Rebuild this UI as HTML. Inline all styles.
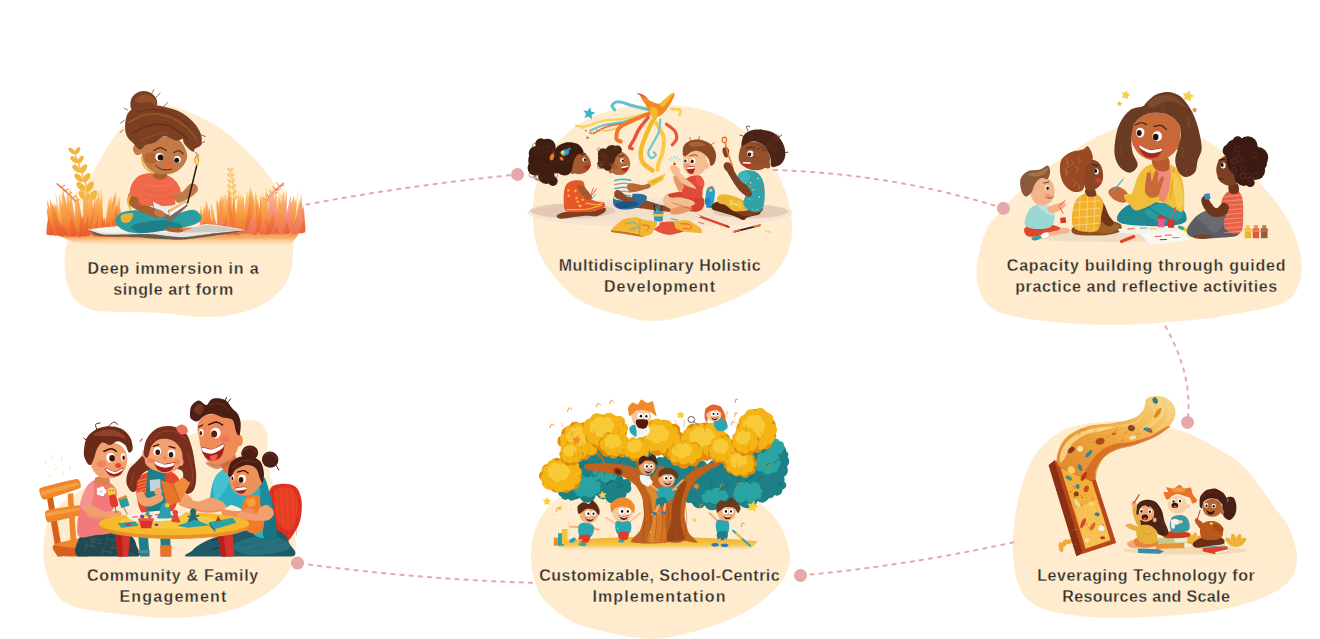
<!DOCTYPE html>
<html lang="en"><head><meta charset="utf-8"><title>Approach</title>
<style>html,body{margin:0;padding:0;background:#fff;}body{width:1320px;height:639px;overflow:hidden;}svg{display:block;}</style>
</head><body>
<svg width="1320" height="639" viewBox="0 0 1320 639">
<g id="blobs" fill="#FFECCF">
<path d="M170.0 106.0 C181.7 108.5 201.3 116.7 215.0 125.0 C228.7 133.3 241.5 145.2 252.0 156.0 C262.5 166.8 271.5 178.5 278.0 190.0 C284.5 201.5 288.5 214.2 291.0 225.0 C293.5 235.8 293.8 245.3 293.0 255.0 C292.2 264.7 291.2 274.7 286.0 283.0 C280.8 291.3 271.3 299.7 262.0 305.0 C252.7 310.3 240.3 313.0 230.0 315.0 C219.7 317.0 211.7 317.3 200.0 317.0 C188.3 316.7 173.3 313.8 160.0 313.0 C146.7 312.2 131.3 312.5 120.0 312.0 C108.7 311.5 99.8 312.5 92.0 310.0 C84.2 307.5 77.5 303.3 73.0 297.0 C68.5 290.7 66.0 281.5 65.0 272.0 C64.0 262.5 64.8 251.5 67.0 240.0 C69.2 228.5 73.2 215.2 78.0 203.0 C82.8 190.8 89.3 178.8 96.0 167.0 C102.7 155.2 109.8 141.5 118.0 132.0 C126.2 122.5 136.3 114.3 145.0 110.0 C153.7 105.7 158.3 103.5 170.0 106.0Z"/>
<path d="M660.0 105.0 C673.0 105.2 687.5 105.8 700.0 109.0 C712.5 112.2 724.2 116.7 735.0 124.0 C745.8 131.3 756.7 142.0 765.0 153.0 C773.3 164.0 780.5 178.0 785.0 190.0 C789.5 202.0 791.5 214.7 792.0 225.0 C792.5 235.3 791.3 243.5 788.0 252.0 C784.7 260.5 779.8 268.7 772.0 276.0 C764.2 283.3 753.2 290.0 741.0 296.0 C728.8 302.0 713.3 307.8 699.0 312.0 C684.7 316.2 668.8 320.7 655.0 321.0 C641.2 321.3 628.7 317.5 616.0 314.0 C603.3 310.5 589.5 306.5 579.0 300.0 C568.5 293.5 559.8 283.3 553.0 275.0 C546.2 266.7 541.3 259.2 538.0 250.0 C534.7 240.8 533.5 230.0 533.0 220.0 C532.5 210.0 532.8 200.0 535.0 190.0 C537.2 180.0 541.0 169.2 546.0 160.0 C551.0 150.8 557.7 142.0 565.0 135.0 C572.3 128.0 580.5 122.5 590.0 118.0 C599.5 113.5 610.3 110.2 622.0 108.0 C633.7 105.8 647.0 104.8 660.0 105.0Z"/>
<path d="M1150.0 120.0 C1165.8 120.7 1185.0 129.5 1200.0 137.0 C1215.0 144.5 1228.7 155.8 1240.0 165.0 C1251.3 174.2 1259.7 182.2 1268.0 192.0 C1276.3 201.8 1284.5 213.0 1290.0 224.0 C1295.5 235.0 1299.5 248.0 1301.0 258.0 C1302.5 268.0 1302.0 276.5 1299.0 284.0 C1296.0 291.5 1293.7 298.0 1283.0 303.0 C1272.3 308.0 1251.8 311.0 1235.0 314.0 C1218.2 317.0 1204.0 319.2 1182.0 321.0 C1160.0 322.8 1129.5 325.5 1103.0 325.0 C1076.5 324.5 1042.0 321.2 1023.0 318.0 C1004.0 314.8 996.7 312.3 989.0 306.0 C981.3 299.7 978.7 288.8 977.0 280.0 C975.3 271.2 977.2 261.8 979.0 253.0 C980.8 244.2 983.8 234.5 988.0 227.0 C992.2 219.5 998.3 214.3 1004.0 208.0 C1009.7 201.7 1013.3 196.7 1022.0 189.0 C1030.7 181.3 1042.2 171.3 1056.0 162.0 C1069.8 152.7 1089.3 140.0 1105.0 133.0 C1120.7 126.0 1134.2 119.3 1150.0 120.0Z"/>
<path d="M252.0 420.0 C260.3 420.7 263.3 424.2 266.0 430.0 C268.7 435.8 267.0 446.3 268.0 455.0 C269.0 463.7 268.3 471.2 272.0 482.0 C275.7 492.8 286.0 508.8 290.0 520.0 C294.0 531.2 296.8 539.5 296.0 549.0 C295.2 558.5 291.3 568.7 285.0 577.0 C278.7 585.3 268.8 593.0 258.0 599.0 C247.2 605.0 234.7 609.8 220.0 613.0 C205.3 616.2 186.7 617.8 170.0 618.0 C153.3 618.2 136.3 616.0 120.0 614.0 C103.7 612.0 83.2 610.2 72.0 606.0 C60.8 601.8 57.7 596.5 53.0 589.0 C48.3 581.5 45.3 570.2 44.0 561.0 C42.7 551.8 43.7 542.0 45.0 534.0 C46.3 526.0 47.5 519.3 52.0 513.0 C56.5 506.7 64.0 501.5 72.0 496.0 C80.0 490.5 90.0 485.5 100.0 480.0 C110.0 474.5 122.0 468.2 132.0 463.0 C142.0 457.8 151.0 453.3 160.0 449.0 C169.0 444.7 176.7 440.8 186.0 437.0 C195.3 433.2 205.0 428.8 216.0 426.0 C227.0 423.2 243.7 419.3 252.0 420.0Z"/>
<path d="M655.0 474.0 C674.2 473.8 694.2 476.2 710.0 480.0 C725.8 483.8 739.7 491.3 750.0 497.0 C760.3 502.7 766.3 508.0 772.0 514.0 C777.7 520.0 781.0 526.0 784.0 533.0 C787.0 540.0 789.7 549.2 790.0 556.0 C790.3 562.8 788.0 569.0 786.0 574.0 C784.0 579.0 781.8 581.7 778.0 586.0 C774.2 590.3 769.3 595.2 763.0 600.0 C756.7 604.8 748.8 610.5 740.0 615.0 C731.2 619.5 720.0 623.7 710.0 627.0 C700.0 630.3 689.2 633.0 680.0 635.0 C670.8 637.0 664.2 638.8 655.0 639.0 C645.8 639.2 634.5 637.5 625.0 636.0 C615.5 634.5 606.3 632.2 598.0 630.0 C589.7 627.8 582.0 626.2 575.0 623.0 C568.0 619.8 561.7 615.5 556.0 611.0 C550.3 606.5 544.7 601.5 541.0 596.0 C537.3 590.5 535.7 585.0 534.0 578.0 C532.3 571.0 530.8 562.0 531.0 554.0 C531.2 546.0 532.5 537.3 535.0 530.0 C537.5 522.7 541.3 515.8 546.0 510.0 C550.7 504.2 554.8 499.8 563.0 495.0 C571.2 490.2 579.7 484.5 595.0 481.0 C610.3 477.5 635.8 474.2 655.0 474.0Z"/>
<path d="M1125.0 421.0 C1136.7 421.3 1149.2 422.8 1160.0 425.0 C1170.8 427.2 1180.8 430.3 1190.0 434.0 C1199.2 437.7 1206.7 442.2 1215.0 447.0 C1223.3 451.8 1232.8 456.8 1240.0 463.0 C1247.2 469.2 1252.5 477.0 1258.0 484.0 C1263.5 491.0 1267.7 497.3 1273.0 505.0 C1278.3 512.7 1286.0 520.5 1290.0 530.0 C1294.0 539.5 1298.0 552.7 1297.0 562.0 C1296.0 571.3 1292.7 579.0 1284.0 586.0 C1275.3 593.0 1260.7 599.3 1245.0 604.0 C1229.3 608.7 1211.7 611.7 1190.0 614.0 C1168.3 616.3 1135.8 618.0 1115.0 618.0 C1094.2 618.0 1078.7 616.3 1065.0 614.0 C1051.3 611.7 1040.8 609.0 1033.0 604.0 C1025.2 599.0 1021.3 592.3 1018.0 584.0 C1014.7 575.7 1013.7 563.8 1013.0 554.0 C1012.3 544.2 1012.7 536.0 1014.0 525.0 C1015.3 514.0 1017.5 499.7 1021.0 488.0 C1024.5 476.3 1028.5 464.3 1035.0 455.0 C1041.5 445.7 1050.8 437.3 1060.0 432.0 C1069.2 426.7 1079.2 424.8 1090.0 423.0 C1100.8 421.2 1113.3 420.7 1125.0 421.0Z"/>
</g>
<g id="connectors" fill="none" stroke="#E6A8A9" stroke-width="2" stroke-linecap="round" stroke-dasharray="3.2 6">
<path d="M306.5 204.6 Q410 185 517.5 174.5"/>
<path d="M774 170 Q895 174 1003.4 208.3"/>
<path d="M1165.5 326.3 C1176 346 1193 380 1187.5 422.4"/>
<path d="M1013.4 542.3 Q905 566 800.5 575.5"/>
<path d="M532.1 582.8 Q415 579 297.5 563.1"/>
</g>
<g id="dots" fill="#E6A8A9">
<circle cx="517.5" cy="174.5" r="6.5"/>
<circle cx="1003.4" cy="208.3" r="6.5"/>
<circle cx="1187.5" cy="422.4" r="6.5"/>
<circle cx="800.5" cy="575.5" r="6.5"/>
<circle cx="297.5" cy="563.1" r="6.5"/>
</g>
<g id="ill1"><defs><linearGradient id="g1gr" x1="0" y1="0" x2="0" y2="1"><stop offset="0" stop-color="#E8803A"/><stop offset="0.5" stop-color="#F4AC64"/><stop offset="1" stop-color="#FEECD2" stop-opacity="0"/></linearGradient></defs>
<path d="M48.8 231.2 Q175.2 225.2 301.7 229.2 L291.7 244.3 Q175.2 252.3 73.8 242.3 Z" fill="url(#g1gr)"/>
<linearGradient id="gA" gradientUnits="userSpaceOnUse" x1="0" y1="234.0" x2="0" y2="185.2"><stop offset="0" stop-color="#EE6A30"/><stop offset="0.35" stop-color="#F8963C"/><stop offset="0.75" stop-color="#FBB960"/><stop offset="1" stop-color="#FDDDA0"/></linearGradient>
<linearGradient id="gB" gradientUnits="userSpaceOnUse" x1="0" y1="234.0" x2="0" y2="185.2"><stop offset="0" stop-color="#E95C30"/><stop offset="0.4" stop-color="#F4803A"/><stop offset="0.8" stop-color="#F9A850"/><stop offset="1" stop-color="#FCCB80"/></linearGradient>
<linearGradient id="gC" gradientUnits="userSpaceOnUse" x1="0" y1="234.0" x2="0" y2="185.2"><stop offset="0" stop-color="#F0704A"/><stop offset="0.4" stop-color="#F4907A"/><stop offset="0.8" stop-color="#F8B090"/><stop offset="1" stop-color="#FBD0B0"/></linearGradient>
<linearGradient id="gL" gradientUnits="userSpaceOnUse" x1="0" y1="234.0" x2="0" y2="185.2"><stop offset="0" stop-color="#F8A850"/><stop offset="0.5" stop-color="#FBC878"/><stop offset="1" stop-color="#FDE6B8"/></linearGradient>
<path d="M65.1 232.1C64.0 229.7 60.0 218.8 58.8 213.9C57.6 209.1 55.7 195.7 56.0 195.7C56.2 195.7 58.9 209.1 60.5 213.9C62.0 218.8 67.1 229.7 67.7 232.1C68.3 234.6 66.3 234.6 65.1 232.1Z" fill="url(#gL)" opacity="0.8518708028656016"/>
<path d="M64.7 233.6C63.4 230.7 59.3 217.6 58.0 211.7C56.7 205.9 54.8 189.9 55.1 189.9C55.3 189.9 58.2 205.9 59.9 211.7C61.6 217.6 67.0 230.7 67.6 233.6C68.2 236.5 66.0 236.5 64.7 233.6Z" fill="url(#gL)" opacity="0.9736090614286593"/>
<path d="M84.4 233.5C84.1 230.2 84.7 215.8 84.9 209.4C85.1 202.9 85.7 185.3 86.0 185.3C86.3 185.3 86.9 202.9 87.1 209.4C87.3 215.8 88.0 230.2 87.7 233.5C87.3 236.7 84.8 236.7 84.4 233.5Z" fill="url(#gL)" opacity="0.9647141022466529"/>
<path d="M66.4 233.0C65.5 230.4 64.3 218.6 63.9 213.4C63.5 208.2 63.2 193.7 63.6 193.7C64.0 193.7 65.8 208.2 66.8 213.4C67.7 218.6 70.8 230.4 70.7 233.0C70.7 235.7 67.3 235.7 66.4 233.0Z" fill="url(#gL)" opacity="0.9928187503450911"/>
<path d="M57.0 233.7C55.6 231.7 51.7 223.1 50.5 219.2C49.3 215.4 47.7 204.8 48.0 204.8C48.4 204.8 51.7 215.4 53.5 219.2C55.3 223.1 61.0 231.7 61.5 233.7C62.0 235.6 58.5 235.6 57.0 233.7Z" fill="url(#gL)" opacity="0.884229702513282"/>
<path d="M105.0 232.8C105.0 230.4 108.7 219.4 109.9 214.6C111.0 209.7 113.3 196.3 113.7 196.3C114.1 196.3 113.6 209.7 113.1 214.6C112.6 219.4 110.9 230.4 109.8 232.8C108.7 235.3 105.0 235.3 105.0 232.8Z" fill="url(#gL)" opacity="0.9712801132793512"/>
<path d="M116.3 234.2C116.1 232.6 118.1 225.2 118.7 222.0C119.4 218.7 120.7 209.7 121.0 209.7C121.4 209.7 121.5 218.7 121.4 222.0C121.3 225.2 120.9 232.6 120.2 234.2C119.6 235.9 116.5 235.9 116.3 234.2Z" fill="url(#gL)" opacity="0.9265951809758066"/>
<path d="M116.4 233.2C116.1 231.8 117.6 225.6 118.0 222.9C118.5 220.2 119.4 212.6 119.7 212.6C120.0 212.6 120.2 220.2 120.3 222.9C120.3 225.6 120.3 231.8 119.7 233.2C119.2 234.6 116.6 234.6 116.4 233.2Z" fill="url(#gL)" opacity="0.8820923654691818"/>
<path d="M59.1 233.5C58.2 231.6 55.8 222.7 55.1 218.8C54.3 214.8 53.3 204.0 53.5 204.0C53.8 204.0 55.7 214.8 56.8 218.8C57.9 222.7 61.4 231.6 61.7 233.5C62.0 235.5 60.0 235.5 59.1 233.5Z" fill="url(#gL)" opacity="0.9101702882064958"/>
<path d="M111.6 232.2C111.4 230.5 113.7 222.7 114.4 219.2C115.1 215.7 116.5 206.1 116.8 206.1C117.2 206.1 117.1 215.7 116.9 219.2C116.8 222.7 116.1 230.5 115.4 232.2C114.7 234.0 111.7 234.0 111.6 232.2Z" fill="url(#gL)" opacity="0.9942857316254617"/>
<path d="M68.7 232.9C67.9 230.5 66.1 219.9 65.5 215.2C65.0 210.4 64.2 197.5 64.5 197.5C64.8 197.5 66.5 210.4 67.4 215.2C68.4 219.9 71.4 230.5 71.5 232.9C71.7 235.2 69.5 235.2 68.7 232.9Z" fill="url(#gL)" opacity="0.8753502435392285"/>
<path d="M107.7 234.4C108.0 232.1 112.9 221.8 114.4 217.2C116.0 212.5 118.8 199.9 119.2 199.9C119.6 199.9 118.4 212.5 117.5 217.2C116.5 221.8 113.5 232.1 112.2 234.4C110.9 236.7 107.4 236.7 107.7 234.4Z" fill="url(#gL)" opacity="0.8862383106861865"/>
<path d="M98.4 233.4C98.2 230.9 99.4 220.1 99.8 215.3C100.2 210.5 101.0 197.2 101.2 197.2C101.5 197.2 101.6 210.5 101.5 215.3C101.5 220.1 101.3 230.9 100.9 233.4C100.5 235.8 98.5 235.8 98.4 233.4Z" fill="url(#gL)" opacity="0.9974911862313229"/>
<path d="M70.0 232.8C69.1 230.3 67.1 218.9 66.5 213.9C65.9 208.9 65.1 195.0 65.4 195.0C65.7 195.0 67.7 208.9 68.7 213.9C69.8 218.9 73.2 230.3 73.4 232.8C73.6 235.3 70.9 235.3 70.0 232.8Z" fill="url(#gL)" opacity="0.9217727835579965"/>
<path d="M67.2 232.9C66.1 230.4 63.8 218.9 63.0 213.9C62.3 208.8 61.4 194.8 61.8 194.8C62.2 194.8 64.5 208.8 65.8 213.9C67.0 218.9 71.1 230.4 71.3 232.9C71.5 235.4 68.3 235.4 67.2 232.9Z" fill="url(#gL)" opacity="0.9185343751332978"/>
<path d="M70.3 232.7C69.2 230.2 66.2 218.9 65.3 213.8C64.4 208.8 63.1 195.0 63.4 195.0C63.7 195.0 66.2 208.8 67.6 213.8C69.0 218.9 73.4 230.2 73.8 232.7C74.2 235.2 71.5 235.2 70.3 232.7Z" fill="url(#gL)" opacity="0.9942749002117783"/>
<path d="M95.0 232.8C94.8 230.5 96.7 220.0 97.4 215.3C98.0 210.7 99.3 197.9 99.6 197.9C100.0 197.9 100.2 210.7 100.2 215.3C100.1 220.0 99.9 230.5 99.2 232.8C98.5 235.1 95.3 235.1 95.0 232.8Z" fill="url(#gL)" opacity="0.8203683385263744"/>
<path d="M70.5 232.4C69.8 229.9 68.9 218.8 68.6 213.9C68.3 208.9 68.0 195.3 68.3 195.3C68.6 195.3 70.1 208.9 70.8 213.9C71.5 218.8 73.9 229.9 73.9 232.4C73.8 234.9 71.2 234.9 70.5 232.4Z" fill="url(#gL)" opacity="0.9769796543842577"/>
<path d="M78.8 234.0C77.7 231.4 75.8 219.5 75.2 214.2C74.6 208.9 74.0 194.3 74.4 194.3C74.8 194.3 77.1 208.9 78.3 214.2C79.5 219.5 83.3 231.4 83.4 234.0C83.5 236.6 79.9 236.6 78.8 234.0Z" fill="url(#gL)" opacity="0.9727455202916148"/>
<path d="M71.5 233.0C70.1 230.0 66.0 216.3 64.8 210.2C63.5 204.1 61.7 187.4 62.0 187.4C62.4 187.4 65.5 204.1 67.3 210.2C69.1 216.3 74.8 230.0 75.3 233.0C75.9 236.1 73.0 236.1 71.5 233.0Z" fill="url(#gL)" opacity="0.8929441591297899"/>
<path d="M91.8 232.5C91.6 229.9 93.3 218.5 93.9 213.4C94.4 208.3 95.6 194.3 95.9 194.3C96.2 194.3 96.4 208.3 96.3 213.4C96.3 218.5 96.1 229.9 95.5 232.5C94.9 235.0 92.1 235.0 91.8 232.5Z" fill="url(#gL)" opacity="0.911774299964549"/>
<path d="M115.4 233.9C115.0 232.2 116.8 224.6 117.4 221.3C118.0 217.9 119.2 208.7 119.6 208.7C120.1 208.7 120.6 217.9 120.7 221.3C120.8 224.6 121.1 232.2 120.4 233.9C119.7 235.5 115.8 235.5 115.4 233.9Z" fill="url(#gL)" opacity="0.9779408219865953"/>
<path d="M285.7 230.6C286.5 228.1 293.6 216.8 295.8 211.7C298.1 206.7 302.0 192.9 302.4 192.9C302.8 192.9 300.5 206.7 298.8 211.7C297.2 216.8 292.0 228.1 290.2 230.6C288.5 233.1 285.0 233.1 285.7 230.6Z" fill="url(#gL)" opacity="0.9793134329968097"/>
<path d="M289.7 231.2C289.9 229.0 294.0 219.2 295.3 214.9C296.6 210.5 299.0 198.5 299.4 198.5C299.7 198.5 298.8 210.5 298.1 214.9C297.3 219.2 294.9 229.0 293.8 231.2C292.7 233.4 289.5 233.4 289.7 231.2Z" fill="url(#gL)" opacity="0.8106493248627222"/>
<path d="M291.7 232.5C292.0 230.6 295.5 222.3 296.6 218.6C297.6 214.9 299.6 204.6 299.8 204.6C300.0 204.6 299.0 214.9 298.3 218.6C297.6 222.3 295.3 230.6 294.4 232.5C293.5 234.4 291.4 234.4 291.7 232.5Z" fill="url(#gL)" opacity="0.8394667344126419"/>
<path d="M253.4 232.5C252.9 229.6 253.9 216.6 254.2 210.9C254.6 205.1 255.4 189.3 255.8 189.3C256.2 189.3 257.0 205.1 257.3 210.9C257.6 216.6 258.4 229.6 257.9 232.5C257.4 235.4 253.8 235.4 253.4 232.5Z" fill="url(#gL)" opacity="0.8975002685615527"/>
<path d="M257.9 231.8C258.1 229.3 261.3 218.0 262.3 213.0C263.3 208.0 265.1 194.3 265.3 194.3C265.5 194.3 264.7 208.0 264.0 213.0C263.4 218.0 261.4 229.3 260.5 231.8C259.7 234.3 257.7 234.3 257.9 231.8Z" fill="url(#gL)" opacity="0.9552995321445555"/>
<path d="M200.6 232.9C200.0 231.7 200.7 226.3 200.9 223.9C201.2 221.6 201.8 215.0 202.3 215.0C202.7 215.0 203.6 221.6 204.0 223.9C204.4 226.3 205.7 231.7 205.3 232.9C204.8 234.1 201.2 234.1 200.6 232.9Z" fill="url(#gL)" opacity="0.9030809097023607"/>
<path d="M249.6 231.2C249.1 229.0 248.7 218.9 248.6 214.4C248.5 210.0 248.5 197.6 248.8 197.6C249.1 197.6 250.2 210.0 250.7 214.4C251.2 218.9 252.9 229.0 252.8 231.2C252.7 233.5 250.2 233.5 249.6 231.2Z" fill="url(#gL)" opacity="0.8857399316486047"/>
<path d="M213.6 230.6C212.9 229.0 212.5 221.6 212.4 218.4C212.3 215.1 212.4 206.2 212.7 206.2C213.0 206.2 214.3 215.1 214.9 218.4C215.5 221.6 217.4 229.0 217.2 230.6C217.0 232.2 214.2 232.2 213.6 230.6Z" fill="url(#gL)" opacity="0.9273352843540325"/>
<path d="M204.6 231.3C203.5 229.5 201.6 221.6 201.0 218.1C200.4 214.5 199.8 204.8 200.2 204.8C200.7 204.8 203.0 214.5 204.3 218.1C205.5 221.6 209.4 229.5 209.5 231.3C209.5 233.0 205.7 233.0 204.6 231.3Z" fill="url(#gL)" opacity="0.8921679824857789"/>
<path d="M224.6 231.5C223.9 229.1 223.8 217.9 223.8 213.0C223.8 208.1 224.0 194.5 224.5 194.5C224.9 194.5 226.3 208.1 226.9 213.0C227.6 217.9 229.7 229.1 229.4 231.5C229.0 234.0 225.4 234.0 224.6 231.5Z" fill="url(#gL)" opacity="0.8748471393716506"/>
<path d="M289.5 232.5C289.9 230.1 295.3 219.1 297.0 214.2C298.6 209.3 301.7 195.9 302.0 195.9C302.4 195.9 300.9 209.3 299.7 214.2C298.6 219.1 295.0 230.1 293.6 232.5C292.3 235.0 289.0 235.0 289.5 232.5Z" fill="url(#gL)" opacity="0.9335123153159461"/>
<path d="M273.1 230.8C273.1 228.2 276.3 216.5 277.4 211.3C278.4 206.1 280.3 191.8 280.7 191.8C281.1 191.8 280.7 206.1 280.3 211.3C279.9 216.5 278.5 228.2 277.5 230.8C276.6 233.4 273.1 233.4 273.1 230.8Z" fill="url(#gL)" opacity="0.9054412783560141"/>
<path d="M257.3 232.6C257.2 229.8 259.0 217.3 259.5 211.7C260.1 206.1 261.1 190.8 261.4 190.8C261.6 190.8 261.4 206.1 261.2 211.7C261.0 217.3 260.4 229.8 259.9 232.6C259.3 235.4 257.3 235.4 257.3 232.6Z" fill="url(#gL)" opacity="0.9347069538860338"/>
<path d="M283.6 232.4C284.3 229.6 290.9 217.0 292.9 211.4C295.0 205.8 298.6 190.3 298.9 190.3C299.2 190.3 297.0 205.8 295.5 211.4C293.9 217.0 288.9 229.6 287.3 232.4C285.8 235.2 282.8 235.2 283.6 232.4Z" fill="url(#gL)" opacity="0.8213487394965625"/>
<path d="M275.3 232.5C275.5 229.5 279.0 215.8 280.1 209.7C281.2 203.6 283.2 186.9 283.5 186.9C283.8 186.9 282.9 203.6 282.2 209.7C281.5 215.8 279.3 229.5 278.4 232.5C277.5 235.6 275.0 235.6 275.3 232.5Z" fill="url(#gL)" opacity="0.9291945759206505"/>
<path d="M245.7 232.8C245.7 229.9 248.6 216.9 249.5 211.1C250.4 205.3 252.1 189.3 252.4 189.3C252.8 189.3 252.4 205.3 252.1 211.1C251.7 216.9 250.5 229.9 249.6 232.8C248.8 235.7 245.7 235.7 245.7 232.8Z" fill="url(#gL)" opacity="0.8750649191443766"/>
<path d="M224.0 231.9C223.4 229.1 223.4 216.4 223.4 210.8C223.4 205.2 223.7 189.7 224.0 189.7C224.4 189.7 225.5 205.2 226.0 210.8C226.6 216.4 228.3 229.1 228.0 231.9C227.7 234.7 224.7 234.7 224.0 231.9Z" fill="url(#gL)" opacity="0.8312349239631788"/>
<path d="M240.0 232.2C239.1 229.1 238.5 215.1 238.3 208.9C238.1 202.7 238.1 185.7 238.6 185.7C239.0 185.7 240.7 202.7 241.6 208.9C242.4 215.1 245.1 229.1 244.9 232.2C244.7 235.3 240.9 235.3 240.0 232.2Z" fill="url(#gL)" opacity="0.8272569570949039"/>
<path d="M274.9 231.8C275.1 229.6 279.6 219.4 281.0 214.9C282.4 210.4 285.0 197.9 285.4 197.9C285.8 197.9 284.8 210.4 284.0 214.9C283.2 219.4 280.6 229.6 279.4 231.8C278.2 234.1 274.7 234.1 274.9 231.8Z" fill="url(#gL)" opacity="0.9190450070107572"/>
<path d="M259.1 232.5C259.5 229.4 263.8 215.4 265.2 209.2C266.5 202.9 268.9 185.8 269.2 185.8C269.4 185.8 268.1 202.9 267.2 209.2C266.2 215.4 263.2 229.4 262.1 232.5C261.0 235.6 258.7 235.6 259.1 232.5Z" fill="url(#gL)" opacity="0.8477650676996145"/>
<path d="M248.5 231.0C248.1 228.1 249.4 215.1 249.8 209.3C250.2 203.5 251.1 187.6 251.4 187.6C251.8 187.6 252.3 203.5 252.4 209.3C252.6 215.1 253.0 228.1 252.5 231.0C251.9 233.9 248.9 233.9 248.5 231.0Z" fill="url(#gL)" opacity="0.8962598636638961"/>
<path d="M272.5 231.6C272.9 228.7 277.2 215.4 278.6 209.5C280.0 203.6 282.4 187.4 282.6 187.4C282.9 187.4 281.6 203.6 280.7 209.5C279.7 215.4 276.7 228.7 275.6 231.6C274.5 234.6 272.1 234.6 272.5 231.6Z" fill="url(#gL)" opacity="0.9296499724949723"/>
<path d="M278.2 232.4C278.4 230.2 281.5 220.3 282.5 215.9C283.5 211.5 285.2 199.4 285.5 199.4C285.7 199.4 285.0 211.5 284.4 215.9C283.8 220.3 281.9 230.2 281.1 232.4C280.2 234.6 278.0 234.6 278.2 232.4Z" fill="url(#gL)" opacity="0.9799519999828585"/>
<path d="M226.6 230.7C225.8 228.0 223.6 215.7 223.0 210.2C222.3 204.7 221.5 189.7 221.7 189.7C221.9 189.7 223.8 204.7 224.8 210.2C225.8 215.7 229.1 228.0 229.3 230.7C229.6 233.4 227.5 233.4 226.6 230.7Z" fill="url(#gL)" opacity="0.8072251056979017"/>
<path d="M246.1 231.4C245.8 228.6 246.0 215.8 246.1 210.1C246.2 204.4 246.5 188.8 246.8 188.8C247.0 188.8 247.6 204.4 247.9 210.1C248.2 215.8 249.1 228.6 248.8 231.4C248.6 234.3 246.5 234.3 246.1 231.4Z" fill="url(#gL)" opacity="0.8781839998445293"/>
<path d="M254.2 232.7C253.7 230.4 255.0 220.2 255.4 215.7C255.8 211.1 256.8 198.6 257.3 198.6C257.7 198.6 258.4 211.1 258.6 215.7C258.9 220.2 259.6 230.4 259.0 232.7C258.4 235.0 254.7 235.0 254.2 232.7Z" fill="url(#gL)" opacity="0.9055377050359361"/>
<path d="M269.6 232.2C269.7 229.3 273.8 216.5 275.1 210.8C276.4 205.1 278.8 189.5 279.3 189.5C279.7 189.5 279.0 205.1 278.4 210.8C277.7 216.5 275.7 229.3 274.5 232.2C273.3 235.0 269.5 235.0 269.6 232.2Z" fill="url(#gL)" opacity="0.8214331757339682"/>
<path d="M294.8 231.7C295.2 229.9 299.0 221.6 300.2 217.9C301.3 214.2 303.4 204.0 303.7 204.0C303.9 204.0 302.7 214.2 301.9 217.9C301.1 221.6 298.4 229.9 297.5 231.7C296.5 233.6 294.5 233.6 294.8 231.7Z" fill="url(#gL)" opacity="0.935708768260321"/>
<path d="M256.7 232.7C256.6 230.4 259.5 219.8 260.4 215.1C261.3 210.3 263.1 197.4 263.4 197.4C263.8 197.4 263.5 210.3 263.2 215.1C262.8 219.8 261.7 230.4 260.8 232.7C260.0 235.1 256.8 235.1 256.7 232.7Z" fill="url(#gL)" opacity="0.8216431661424698"/>
<path d="M256.6 231.2C256.8 228.3 259.7 215.1 260.7 209.2C261.6 203.4 263.3 187.3 263.5 187.3C263.8 187.3 263.2 203.4 262.6 209.2C262.1 215.1 260.4 228.3 259.6 231.2C258.8 234.2 256.5 234.2 256.6 231.2Z" fill="url(#gL)" opacity="0.8624885451528601"/>
<path d="M92.6 215.2C91.4 210.0 88.6 194.5 85.6 184.2C82.6 173.8 76.4 158.3 74.6 153.1" fill="none" stroke="#F2A93A" stroke-width="1.25" stroke-linecap="round"/>
<ellipse cx="83.4" cy="195.8" rx="6.4" ry="3.3" fill="#F6B53C" transform="rotate(44.2 83.4 195.8)"/>
<ellipse cx="92.8" cy="195.8" rx="6.4" ry="3.3" fill="#F6B53C" transform="rotate(-55.8 92.8 195.8)"/>
<ellipse cx="81.1" cy="186.8" rx="6.0" ry="3.1" fill="#F6B53C" transform="rotate(44.2 81.1 186.8)"/>
<ellipse cx="89.7" cy="186.8" rx="6.0" ry="3.1" fill="#F6B53C" transform="rotate(-55.8 89.7 186.8)"/>
<ellipse cx="78.7" cy="177.8" rx="5.5" ry="2.8" fill="#F6B53C" transform="rotate(44.2 78.7 177.8)"/>
<ellipse cx="86.6" cy="177.8" rx="5.5" ry="2.8" fill="#F6B53C" transform="rotate(-55.8 86.6 177.8)"/>
<ellipse cx="76.4" cy="168.7" rx="5.0" ry="2.6" fill="#F6B53C" transform="rotate(44.2 76.4 168.7)"/>
<ellipse cx="83.6" cy="168.7" rx="5.0" ry="2.6" fill="#F6B53C" transform="rotate(-55.8 83.6 168.7)"/>
<ellipse cx="74.0" cy="159.7" rx="4.5" ry="2.3" fill="#F6B53C" transform="rotate(44.2 74.0 159.7)"/>
<ellipse cx="80.5" cy="159.7" rx="4.5" ry="2.3" fill="#F6B53C" transform="rotate(-55.8 80.5 159.7)"/>
<ellipse cx="71.7" cy="150.7" rx="4.0" ry="2.1" fill="#F6B53C" transform="rotate(44.2 71.7 150.7)"/>
<ellipse cx="77.5" cy="150.7" rx="4.0" ry="2.1" fill="#F6B53C" transform="rotate(-55.8 77.5 150.7)"/>
<path d="M233.3 210.2C233.4 206.9 234.3 197.0 233.8 190.4C233.3 183.8 230.9 173.9 230.3 170.6" fill="none" stroke="#F6C264" stroke-width="1.25" stroke-linecap="round"/>
<ellipse cx="229.9" cy="198.1" rx="3.6" ry="1.9" fill="#F8CB76" transform="rotate(48.5 229.9 198.1)"/>
<ellipse cx="235.2" cy="198.1" rx="3.6" ry="1.9" fill="#F8CB76" transform="rotate(-51.5 235.2 198.1)"/>
<ellipse cx="229.7" cy="192.4" rx="3.3" ry="1.7" fill="#F8CB76" transform="rotate(48.5 229.7 192.4)"/>
<ellipse cx="234.5" cy="192.4" rx="3.3" ry="1.7" fill="#F8CB76" transform="rotate(-51.5 234.5 192.4)"/>
<ellipse cx="229.4" cy="186.6" rx="3.1" ry="1.6" fill="#F8CB76" transform="rotate(48.5 229.4 186.6)"/>
<ellipse cx="233.9" cy="186.6" rx="3.1" ry="1.6" fill="#F8CB76" transform="rotate(-51.5 233.9 186.6)"/>
<ellipse cx="229.2" cy="180.8" rx="2.8" ry="1.4" fill="#F8CB76" transform="rotate(48.5 229.2 180.8)"/>
<ellipse cx="233.2" cy="180.8" rx="2.8" ry="1.4" fill="#F8CB76" transform="rotate(-51.5 233.2 180.8)"/>
<ellipse cx="228.9" cy="175.1" rx="2.5" ry="1.3" fill="#F8CB76" transform="rotate(48.5 228.9 175.1)"/>
<ellipse cx="232.6" cy="175.1" rx="2.5" ry="1.3" fill="#F8CB76" transform="rotate(-51.5 232.6 175.1)"/>
<ellipse cx="228.7" cy="169.3" rx="2.2" ry="1.2" fill="#F8CB76" transform="rotate(48.5 228.7 169.3)"/>
<ellipse cx="231.9" cy="169.3" rx="2.2" ry="1.2" fill="#F8CB76" transform="rotate(-51.5 231.9 169.3)"/>
<path d="M78.8 205.2C76.9 203.1 71.2 196.2 67.6 192.7C63.9 189.1 58.8 185.4 57.0 183.9" fill="none" stroke="#EE7B4C" stroke-width="1.25" stroke-linecap="round"/>
<path d="M75.2 201.6L71.7 197.6" fill="none" stroke="#EE7B4C" stroke-width="1.00" stroke-linecap="round"/>
<path d="M75.2 201.6L79.2 199.6" fill="none" stroke="#EE7B4C" stroke-width="1.00" stroke-linecap="round"/>
<path d="M71.6 198.1L68.1 194.1" fill="none" stroke="#EE7B4C" stroke-width="1.00" stroke-linecap="round"/>
<path d="M71.6 198.1L75.6 196.1" fill="none" stroke="#EE7B4C" stroke-width="1.00" stroke-linecap="round"/>
<path d="M67.9 194.5L64.4 190.5" fill="none" stroke="#EE7B4C" stroke-width="1.00" stroke-linecap="round"/>
<path d="M67.9 194.5L71.9 192.5" fill="none" stroke="#EE7B4C" stroke-width="1.00" stroke-linecap="round"/>
<path d="M64.3 191.0L60.8 187.0" fill="none" stroke="#EE7B4C" stroke-width="1.00" stroke-linecap="round"/>
<path d="M64.3 191.0L68.3 189.0" fill="none" stroke="#EE7B4C" stroke-width="1.00" stroke-linecap="round"/>
<path d="M60.7 187.5L57.2 183.4" fill="none" stroke="#EE7B4C" stroke-width="1.00" stroke-linecap="round"/>
<path d="M60.7 187.5L64.7 185.4" fill="none" stroke="#EE7B4C" stroke-width="1.00" stroke-linecap="round"/>
<path d="M262.8 205.2C264.7 202.9 270.7 195.1 274.1 191.4C277.5 187.7 281.8 184.5 283.4 183.2" fill="none" stroke="#EE7B4C" stroke-width="1.25" stroke-linecap="round"/>
<path d="M266.3 201.5L262.8 197.5" fill="none" stroke="#EE7B4C" stroke-width="1.00" stroke-linecap="round"/>
<path d="M266.3 201.5L270.3 199.5" fill="none" stroke="#EE7B4C" stroke-width="1.00" stroke-linecap="round"/>
<path d="M269.7 197.8L266.2 193.8" fill="none" stroke="#EE7B4C" stroke-width="1.00" stroke-linecap="round"/>
<path d="M269.7 197.8L273.7 195.8" fill="none" stroke="#EE7B4C" stroke-width="1.00" stroke-linecap="round"/>
<path d="M273.1 194.2L269.6 190.2" fill="none" stroke="#EE7B4C" stroke-width="1.00" stroke-linecap="round"/>
<path d="M273.1 194.2L277.1 192.2" fill="none" stroke="#EE7B4C" stroke-width="1.00" stroke-linecap="round"/>
<path d="M276.5 190.5L273.0 186.5" fill="none" stroke="#EE7B4C" stroke-width="1.00" stroke-linecap="round"/>
<path d="M276.5 190.5L280.5 188.5" fill="none" stroke="#EE7B4C" stroke-width="1.00" stroke-linecap="round"/>
<path d="M280.0 186.8L276.5 182.8" fill="none" stroke="#EE7B4C" stroke-width="1.00" stroke-linecap="round"/>
<path d="M280.0 186.8L284.0 184.8" fill="none" stroke="#EE7B4C" stroke-width="1.00" stroke-linecap="round"/>
<path d="M59.5 234.6C58.5 232.6 57.1 223.6 56.7 219.6C56.2 215.6 55.9 204.6 56.4 204.6C56.8 204.6 59.0 215.6 60.2 219.6C61.3 223.6 64.9 232.6 64.8 234.6C64.7 236.6 60.6 236.6 59.5 234.6Z" fill="url(#gA)" opacity="0.8541686331978138"/>
<path d="M50.2 234.0C49.0 232.7 48.4 226.9 48.3 224.3C48.1 221.7 48.3 214.5 48.9 214.5C49.6 214.5 51.9 221.7 53.0 224.3C54.1 226.9 57.6 232.7 57.2 234.0C56.9 235.3 51.4 235.3 50.2 234.0Z" fill="url(#gA)" opacity="0.8896464117489727"/>
<path d="M102.5 234.2C102.2 232.1 105.6 222.5 106.7 218.3C107.7 214.0 109.9 202.3 110.4 202.3C111.0 202.3 111.1 214.0 110.9 218.3C110.7 222.5 110.1 232.1 108.9 234.2C107.8 236.3 102.8 236.3 102.5 234.2Z" fill="url(#gB)" opacity="0.9557966126649773"/>
<path d="M96.8 234.8C96.1 232.4 97.9 221.5 98.4 216.6C99.0 211.8 100.4 198.5 100.9 198.5C101.5 198.5 102.5 211.8 102.9 216.6C103.2 221.5 104.2 232.4 103.4 234.8C102.6 237.2 97.5 237.2 96.8 234.8Z" fill="url(#gB)" opacity="0.921578811327325"/>
<path d="M106.6 234.9C106.6 232.3 110.8 220.3 112.2 215.0C113.5 209.7 116.0 195.2 116.5 195.2C116.9 195.2 116.3 209.7 115.7 215.0C115.1 220.3 113.1 232.3 111.9 234.9C110.6 237.6 106.5 237.6 106.6 234.9Z" fill="url(#gA)" opacity="0.8060174909864324"/>
<path d="M102.2 234.2C102.4 231.4 108.1 218.7 109.9 213.1C111.6 207.5 114.9 192.0 115.5 192.0C116.1 192.0 115.0 207.5 114.0 213.1C113.1 218.7 110.0 231.4 108.4 234.2C106.9 237.0 102.0 237.0 102.2 234.2Z" fill="url(#gB)" opacity="0.9373260270162563"/>
<path d="M67.3 232.7C65.9 229.9 63.9 217.0 63.3 211.2C62.7 205.5 62.2 189.7 62.8 189.7C63.4 189.7 66.3 205.5 67.8 211.2C69.3 217.0 74.1 229.9 74.0 232.7C73.9 235.6 68.7 235.6 67.3 232.7Z" fill="url(#gB)" opacity="0.8467591993389615"/>
<path d="M58.3 234.8C56.5 232.4 52.8 221.5 51.6 216.7C50.5 211.8 49.2 198.6 49.8 198.6C50.5 198.6 54.4 211.8 56.5 216.7C58.6 221.5 65.3 232.4 65.6 234.8C65.8 237.2 60.2 237.2 58.3 234.8Z" fill="url(#gA)" opacity="0.8223147192090818"/>
<path d="M67.5 235.0C66.1 232.2 62.4 219.6 61.2 214.1C60.0 208.5 58.5 193.1 58.8 193.1C59.2 193.1 62.2 208.5 63.9 214.1C65.6 219.6 71.1 232.2 71.6 235.0C72.1 237.8 68.9 237.8 67.5 235.0Z" fill="url(#gB)" opacity="0.846682757893136"/>
<path d="M53.2 234.5C52.3 232.8 51.3 225.2 50.9 221.8C50.6 218.4 50.4 209.1 50.8 209.1C51.2 209.1 53.0 218.4 53.9 221.8C54.8 225.2 57.7 232.8 57.6 234.5C57.5 236.2 54.0 236.2 53.2 234.5Z" fill="url(#gB)" opacity="0.9550694121822354"/>
<path d="M50.0 232.9C49.3 231.8 49.4 226.9 49.5 224.8C49.5 222.6 49.9 216.6 50.3 216.6C50.8 216.6 52.0 222.6 52.6 224.8C53.2 226.9 55.1 231.8 54.7 232.9C54.4 234.0 50.7 234.0 50.0 232.9Z" fill="url(#gB)" opacity="0.951369884939327"/>
<path d="M80.5 233.1C79.4 230.7 78.1 219.5 77.7 214.6C77.3 209.6 77.0 196.0 77.5 196.0C78.0 196.0 80.3 209.6 81.5 214.6C82.7 219.5 86.4 230.7 86.3 233.1C86.2 235.6 81.7 235.6 80.5 233.1Z" fill="url(#gB)" opacity="0.8135969631931718"/>
<path d="M105.9 234.5C105.8 232.3 109.3 222.5 110.4 218.2C111.5 213.8 113.6 201.9 114.1 201.9C114.6 201.9 114.4 213.8 114.1 218.2C113.7 222.5 112.5 232.3 111.4 234.5C110.4 236.6 106.1 236.6 105.9 234.5Z" fill="url(#gA)" opacity="0.9798822567421795"/>
<path d="M97.6 233.3C97.4 230.8 99.3 219.6 99.9 214.6C100.5 209.6 101.8 195.9 102.2 195.9C102.5 195.9 102.7 209.6 102.6 214.6C102.5 219.6 102.3 230.8 101.6 233.3C100.9 235.8 97.8 235.8 97.6 233.3Z" fill="url(#gA)" opacity="0.8517346691834633"/>
<path d="M72.6 234.2C71.5 231.0 70.3 216.8 69.9 210.5C69.6 204.2 69.4 186.8 69.9 186.8C70.4 186.8 72.7 204.2 73.8 210.5C74.9 216.8 78.5 231.0 78.4 234.2C78.2 237.3 73.7 237.3 72.6 234.2Z" fill="url(#gB)" opacity="0.8054965274620933"/>
<path d="M54.9 233.9C53.6 232.2 51.4 224.9 50.7 221.6C50.0 218.3 49.3 209.3 49.8 209.3C50.3 209.3 52.9 218.3 54.3 221.6C55.7 224.9 60.3 232.2 60.3 233.9C60.4 235.5 56.2 235.5 54.9 233.9Z" fill="url(#gB)" opacity="0.9427999214099587"/>
<path d="M63.8 233.3C62.6 231.3 60.8 222.0 60.2 217.9C59.7 213.8 59.1 202.6 59.6 202.6C60.1 202.6 62.5 213.8 63.8 217.9C65.1 222.0 69.2 231.3 69.2 233.3C69.2 235.4 65.0 235.4 63.8 233.3Z" fill="url(#gA)" opacity="0.8329518278434545"/>
<path d="M89.5 233.4C88.6 230.8 89.3 218.9 89.5 213.6C89.7 208.3 90.5 193.7 91.1 193.7C91.7 193.7 93.3 208.3 94.0 213.6C94.7 218.9 96.9 230.8 96.3 233.4C95.7 236.1 90.4 236.1 89.5 233.4Z" fill="url(#gA)" opacity="0.9578530236079079"/>
<path d="M113.7 235.2C113.4 233.4 116.1 225.4 116.9 221.8C117.7 218.3 119.4 208.5 119.9 208.5C120.4 208.5 120.5 218.3 120.3 221.8C120.2 225.4 119.7 233.4 118.8 235.2C117.9 237.0 113.9 237.0 113.7 235.2Z" fill="url(#gA)" opacity="0.9364797270825392"/>
<path d="M114.7 233.2C114.4 231.5 115.9 224.1 116.4 220.8C116.9 217.5 117.9 208.4 118.3 208.4C118.7 208.4 119.1 217.5 119.1 220.8C119.2 224.1 119.4 231.5 118.8 233.2C118.2 234.8 115.0 234.8 114.7 233.2Z" fill="url(#gA)" opacity="0.8378210047696706"/>
<path d="M82.5 233.9C82.1 231.2 84.2 218.7 84.9 213.2C85.5 207.7 87.0 192.5 87.4 192.5C87.9 192.5 88.3 207.7 88.4 213.2C88.4 218.7 88.5 231.2 87.7 233.9C87.0 236.7 82.9 236.7 82.5 233.9Z" fill="url(#gB)" opacity="0.8068423619602811"/>
<path d="M68.8 234.9C68.1 232.1 67.7 219.5 67.6 213.8C67.5 208.2 67.6 192.8 68.0 192.8C68.4 192.8 69.9 208.2 70.5 213.8C71.2 219.5 73.4 232.1 73.2 234.9C73.0 237.7 69.6 237.7 68.8 234.9Z" fill="url(#gA)" opacity="0.9094526146861643"/>
<path d="M83.3 233.7C82.4 230.5 83.3 216.0 83.5 209.6C83.8 203.2 84.8 185.5 85.4 185.5C86.1 185.5 87.7 203.2 88.4 209.6C89.1 216.0 91.3 230.5 90.6 233.7C89.9 236.9 84.3 236.9 83.3 233.7Z" fill="url(#gA)" opacity="0.9847006189583667"/>
<path d="M72.7 233.4C71.5 230.7 69.2 218.6 68.5 213.3C67.7 207.9 66.9 193.1 67.3 193.1C67.7 193.1 70.2 207.9 71.5 213.3C72.9 218.6 77.2 230.7 77.3 233.4C77.5 236.1 73.9 236.1 72.7 233.4Z" fill="url(#gB)" opacity="0.9505485871519217"/>
<path d="M109.6 234.6C109.4 232.4 113.6 222.5 114.9 218.1C116.2 213.7 118.8 201.5 119.4 201.5C120.0 201.5 119.9 213.7 119.5 218.1C119.1 222.5 117.8 232.4 116.5 234.6C115.2 236.8 109.8 236.8 109.6 234.6Z" fill="url(#gA)" opacity="0.9516902889190006"/>
<path d="M93.1 234.9C92.4 232.5 94.0 221.6 94.5 216.7C95.0 211.9 96.3 198.5 96.9 198.5C97.5 198.5 98.7 211.9 99.2 216.7C99.6 221.6 101.0 232.5 100.2 234.9C99.4 237.4 93.9 237.4 93.1 234.9Z" fill="url(#gA)" opacity="0.8932896791352247"/>
<path d="M106.2 234.7C106.3 232.2 111.9 221.0 113.7 216.0C115.5 211.0 118.8 197.3 119.5 197.3C120.1 197.3 119.3 211.0 118.5 216.0C117.7 221.0 115.1 232.2 113.5 234.7C111.8 237.2 106.2 237.2 106.2 234.7Z" fill="url(#gA)" opacity="0.9137789015640662"/>
<path d="M54.5 233.1C53.3 231.6 51.9 224.7 51.5 221.6C51.1 218.5 50.9 210.1 51.5 210.1C52.0 210.1 54.5 218.5 55.7 221.6C56.9 224.7 60.9 231.6 60.7 233.1C60.6 234.6 55.7 234.6 54.5 233.1Z" fill="url(#gB)" opacity="0.9970635503704215"/>
<path d="M54.2 234.0C52.4 232.3 49.3 224.5 48.4 221.0C47.4 217.5 46.4 208.0 47.0 208.0C47.7 208.0 51.3 217.5 53.2 221.0C55.1 224.5 61.2 232.3 61.3 234.0C61.5 235.7 55.9 235.7 54.2 234.0Z" fill="url(#gA)" opacity="0.9577282382292862"/>
<path d="M84.8 233.0C84.1 230.4 83.4 218.8 83.2 213.6C83.1 208.5 83.0 194.3 83.4 194.3C83.8 194.3 85.2 208.5 86.0 213.6C86.7 218.8 89.1 230.4 88.9 233.0C88.8 235.6 85.6 235.6 84.8 233.0Z" fill="url(#gA)" opacity="0.8398513614284682"/>
<path d="M108.4 234.3C108.2 232.4 111.7 223.8 112.8 220.0C113.9 216.2 116.2 205.8 116.7 205.8C117.3 205.8 117.3 216.2 117.0 220.0C116.7 223.8 115.8 232.4 114.7 234.3C113.5 236.2 108.7 236.2 108.4 234.3Z" fill="url(#gB)" opacity="0.9743400509647704"/>
<path d="M70.4 234.2C69.1 231.3 67.7 218.4 67.3 212.7C66.9 207.0 66.7 191.2 67.3 191.2C67.9 191.2 70.6 207.0 71.9 212.7C73.2 218.4 77.5 231.3 77.3 234.2C77.1 237.1 71.8 237.1 70.4 234.2Z" fill="url(#gA)" opacity="0.823383469192955"/>
<path d="M46.9 234.6C46.0 233.5 46.7 228.4 46.9 226.1C47.1 223.8 48.0 217.6 48.7 217.6C49.3 217.6 51.0 223.8 51.7 226.1C52.5 228.4 54.8 233.5 54.2 234.6C53.5 235.8 47.9 235.8 46.9 234.6Z" fill="url(#gB)" opacity="0.9470635702679275"/>
<path d="M76.6 235.2C75.7 232.1 75.5 218.3 75.5 212.1C75.4 206.0 75.7 189.0 76.1 189.0C76.6 189.0 78.2 206.0 78.9 212.1C79.7 218.3 82.0 232.1 81.7 235.2C81.4 238.3 77.4 238.3 76.6 235.2Z" fill="url(#gA)" opacity="0.8878015132012773"/>
<path d="M64.0 234.9C62.8 232.5 62.0 221.6 61.8 216.8C61.5 211.9 61.6 198.6 62.2 198.6C62.8 198.6 65.0 211.9 66.2 216.8C67.3 221.6 70.9 232.5 70.6 234.9C70.3 237.3 65.2 237.3 64.0 234.9Z" fill="url(#gA)" opacity="0.9862691085208375"/>
<path d="M83.6 233.9C83.1 231.1 86.0 218.1 86.9 212.4C87.8 206.6 89.7 190.8 90.3 190.8C90.9 190.8 91.4 206.6 91.4 212.4C91.4 218.1 91.3 231.1 90.3 233.9C89.2 236.8 84.0 236.8 83.6 233.9Z" fill="url(#gA)" opacity="0.8938784763176767"/>
<path d="M88.2 232.8C88.1 230.4 91.1 219.8 92.1 215.1C93.0 210.3 94.9 197.3 95.3 197.3C95.7 197.3 95.4 210.3 95.1 215.1C94.8 219.8 93.7 230.4 92.8 232.8C91.8 235.2 88.3 235.2 88.2 232.8Z" fill="url(#gB)" opacity="0.9038913534005976"/>
<path d="M90.7 233.6C90.4 231.2 93.5 220.7 94.4 216.0C95.4 211.3 97.4 198.4 98.0 198.4C98.6 198.4 98.9 211.3 98.8 216.0C98.7 220.7 98.4 231.2 97.3 233.6C96.3 235.9 91.1 235.9 90.7 233.6Z" fill="url(#gB)" opacity="0.9564010460485565"/>
<path d="M56.5 233.9C55.2 231.9 54.5 222.8 54.3 218.8C54.1 214.7 54.2 203.6 54.8 203.6C55.4 203.6 57.7 214.7 58.8 218.8C60.0 222.8 63.6 231.9 63.3 233.9C63.0 236.0 57.7 236.0 56.5 233.9Z" fill="url(#gA)" opacity="0.9952806582674474"/>
<path d="M114.6 233.9C114.1 232.1 116.4 224.1 117.1 220.6C117.8 217.0 119.3 207.3 119.8 207.3C120.3 207.3 120.9 217.0 121.0 220.6C121.0 224.1 121.3 232.1 120.4 233.9C119.6 235.7 115.0 235.7 114.6 233.9Z" fill="url(#gB)" opacity="0.8445226838584458"/>
<path d="M112.6 234.8C112.0 233.1 113.9 225.6 114.5 222.2C115.1 218.9 116.6 209.7 117.2 209.7C117.8 209.7 118.7 218.9 118.9 222.2C119.2 225.6 120.1 233.1 119.2 234.8C118.4 236.5 113.2 236.5 112.6 234.8Z" fill="url(#gB)" opacity="0.8020116150592075"/>
<path d="M55.7 233.2C54.2 231.3 51.9 222.4 51.2 218.5C50.5 214.6 49.8 203.8 50.4 203.8C51.0 203.8 54.1 214.6 55.7 218.5C57.3 222.4 62.4 231.3 62.4 233.2C62.4 235.2 57.2 235.2 55.7 233.2Z" fill="url(#gA)" opacity="0.8709789260913278"/>
<path d="M112.9 233.4C112.4 231.9 115.2 224.8 116.1 221.7C117.0 218.5 119.0 209.9 119.6 209.9C120.2 209.9 120.8 218.5 120.9 221.7C121.0 224.8 121.2 231.9 120.1 233.4C119.0 235.0 113.5 235.0 112.9 233.4Z" fill="url(#gA)" opacity="0.9206973545938963"/>
<path d="M103.3 234.5C103.0 232.1 105.5 221.0 106.3 216.1C107.1 211.2 108.7 197.7 109.2 197.7C109.7 197.7 109.9 211.2 109.8 216.1C109.7 221.0 109.3 232.1 108.5 234.5C107.6 237.0 103.6 237.0 103.3 234.5Z" fill="url(#gA)" opacity="0.8859126151164102"/>
<path d="M89.9 233.1C89.7 230.1 93.5 217.0 94.7 211.1C95.9 205.3 98.3 189.2 98.9 189.2C99.5 189.2 99.4 205.3 99.1 211.1C98.8 217.0 97.8 230.1 96.6 233.1C95.3 236.0 90.2 236.0 89.9 233.1Z" fill="url(#gA)" opacity="0.9017660375693075"/>
<path d="M103.7 234.3C103.2 231.9 106.4 220.7 107.4 215.7C108.4 210.8 110.6 197.1 111.2 197.1C111.8 197.1 112.3 210.8 112.2 215.7C112.2 220.7 112.0 231.9 110.8 234.3C109.7 236.8 104.1 236.8 103.7 234.3Z" fill="url(#gA)" opacity="0.8934973873512984"/>
<path d="M93.5 234.0C93.6 230.9 97.1 216.7 98.2 210.4C99.3 204.1 101.4 186.8 101.8 186.8C102.2 186.8 101.7 204.1 101.2 210.4C100.8 216.7 99.2 230.9 98.2 234.0C97.1 237.2 93.5 237.2 93.5 234.0Z" fill="url(#gA)" opacity="0.8147465760764305"/>
<path d="M57.2 233.4C55.5 231.2 51.1 221.1 49.7 216.7C48.4 212.2 46.5 199.9 46.9 199.9C47.4 199.9 51.0 212.2 53.0 216.7C55.0 221.1 61.5 231.2 62.1 233.4C62.6 235.7 58.8 235.7 57.2 233.4Z" fill="url(#gA)" opacity="0.9918524809625737"/>
<path d="M57.1 234.8C55.6 232.7 53.6 223.4 52.9 219.3C52.3 215.1 51.8 203.7 52.5 203.7C53.1 203.7 56.2 215.1 57.8 219.3C59.4 223.4 64.5 232.7 64.4 234.8C64.3 236.9 58.6 236.9 57.1 234.8Z" fill="url(#gB)" opacity="0.8546775281885208"/>
<path d="M69.4 234.6C67.9 231.8 64.6 219.2 63.6 213.5C62.5 207.9 61.2 192.5 61.6 192.5C62.1 192.5 65.2 207.9 66.9 213.5C68.5 219.2 74.0 231.8 74.3 234.6C74.6 237.4 70.8 237.4 69.4 234.6Z" fill="url(#gA)" opacity="0.933738462739958"/>
<path d="M218.7 231.5C217.9 229.2 219.8 218.9 220.4 214.3C221.0 209.7 222.5 197.2 223.1 197.2C223.8 197.2 224.9 209.7 225.2 214.3C225.6 218.9 226.8 229.2 225.9 231.5C225.0 233.8 219.4 233.8 218.7 231.5Z" fill="url(#gA)" opacity="0.9307743689169038"/>
<path d="M249.2 231.8C248.6 229.3 250.2 218.3 250.8 213.4C251.3 208.5 252.6 195.0 253.1 195.0C253.7 195.0 254.6 208.5 254.9 213.4C255.2 218.3 256.1 229.3 255.3 231.8C254.6 234.2 249.8 234.2 249.2 231.8Z" fill="url(#gB)" opacity="0.8563895211153499"/>
<path d="M207.5 231.5C207.0 229.9 207.9 223.0 208.2 219.9C208.4 216.8 209.2 208.4 209.6 208.4C209.9 208.4 210.7 216.8 211.0 219.9C211.3 223.0 212.3 229.9 211.8 231.5C211.3 233.0 208.0 233.0 207.5 231.5Z" fill="url(#gB)" opacity="0.823026771460502"/>
<path d="M232.8 233.4C232.4 231.1 235.5 220.5 236.4 215.7C237.4 211.0 239.4 198.1 240.0 198.1C240.5 198.1 240.8 211.0 240.7 215.7C240.6 220.5 240.3 231.1 239.2 233.4C238.2 235.8 233.2 235.8 232.8 233.4Z" fill="url(#gA)" opacity="0.8535245850443525"/>
<path d="M225.9 233.4C225.3 231.0 226.0 220.4 226.2 215.7C226.4 210.9 227.1 198.0 227.5 198.0C227.9 198.0 228.8 210.9 229.2 215.7C229.6 220.4 230.8 231.0 230.4 233.4C230.0 235.7 226.5 235.7 225.9 233.4Z" fill="url(#gB)" opacity="0.8355823333412635"/>
<path d="M252.6 232.9C252.2 230.2 253.4 217.9 253.8 212.4C254.2 207.0 255.1 192.0 255.5 192.0C255.9 192.0 256.6 207.0 256.9 212.4C257.1 217.9 257.8 230.2 257.3 232.9C256.7 235.6 253.1 235.6 252.6 232.9Z" fill="url(#gA)" opacity="0.929729461405714"/>
<path d="M206.9 232.9C205.9 231.4 205.3 224.3 205.2 221.1C205.0 218.0 205.1 209.3 205.6 209.3C206.1 209.3 207.9 218.0 208.8 221.1C209.7 224.3 212.7 231.4 212.4 232.9C212.1 234.5 207.8 234.5 206.9 232.9Z" fill="url(#gA)" opacity="0.9975034639631128"/>
<path d="M215.4 233.3C214.3 231.3 212.4 222.3 211.8 218.3C211.2 214.3 210.5 203.3 210.9 203.3C211.3 203.3 213.5 214.3 214.7 218.3C215.8 222.3 219.6 231.3 219.7 233.3C219.8 235.3 216.4 235.3 215.4 233.3Z" fill="url(#gA)" opacity="0.8014849289347353"/>
<path d="M220.1 233.2C219.4 231.1 219.2 221.6 219.1 217.4C219.1 213.1 219.3 201.5 219.7 201.5C220.0 201.5 221.4 213.1 222.0 217.4C222.7 221.6 224.7 231.1 224.4 233.2C224.2 235.3 220.8 235.3 220.1 233.2Z" fill="url(#gA)" opacity="0.8945439815839267"/>
<path d="M239.1 232.3C239.0 229.6 242.6 217.4 243.7 212.0C244.9 206.6 247.0 191.7 247.5 191.7C247.9 191.7 247.6 206.6 247.1 212.0C246.7 217.4 245.2 229.6 244.2 232.3C243.1 235.0 239.2 235.0 239.1 232.3Z" fill="url(#gA)" opacity="0.9068871847633262"/>
<path d="M242.9 231.4C242.4 229.1 245.8 218.6 246.9 214.0C248.0 209.3 250.2 196.5 250.9 196.5C251.5 196.5 251.9 209.3 251.8 214.0C251.7 218.6 251.4 229.1 250.2 231.4C249.1 233.8 243.3 233.8 242.9 231.4Z" fill="url(#gA)" opacity="0.863380289473968"/>
<path d="M243.9 231.4C243.6 229.2 246.8 219.0 247.8 214.5C248.8 209.9 250.8 197.5 251.3 197.5C251.8 197.5 252.0 209.9 251.8 214.5C251.6 219.0 251.0 229.2 249.9 231.4C248.9 233.7 244.2 233.7 243.9 231.4Z" fill="url(#gA)" opacity="0.9739557536281781"/>
<path d="M241.6 231.2C241.4 228.2 245.0 214.5 246.2 208.4C247.3 202.3 249.6 185.6 250.1 185.6C250.6 185.6 250.5 202.3 250.1 208.4C249.8 214.5 248.6 228.2 247.5 231.2C246.3 234.2 241.7 234.2 241.6 231.2Z" fill="url(#gA)" opacity="0.8651709350143939"/>
<path d="M230.6 232.5C229.8 230.1 231.2 219.5 231.6 214.8C232.1 210.1 233.2 197.2 233.8 197.2C234.3 197.2 235.5 210.1 235.9 214.8C236.4 219.5 237.8 230.1 237.0 232.5C236.3 234.8 231.3 234.8 230.6 232.5Z" fill="url(#gB)" opacity="0.987230222439787"/>
<path d="M245.2 231.3C244.8 228.4 247.2 215.6 248.0 209.9C248.7 204.2 250.3 188.5 250.8 188.5C251.4 188.5 251.8 204.2 251.8 209.9C251.8 215.6 251.9 228.4 251.0 231.3C250.1 234.1 245.6 234.1 245.2 231.3Z" fill="url(#gB)" opacity="0.9990874176338513"/>
<path d="M237.7 231.8C237.1 229.4 239.2 218.5 239.9 213.7C240.6 208.8 242.1 195.5 242.7 195.5C243.3 195.5 244.2 208.8 244.4 213.7C244.6 218.5 245.4 229.4 244.5 231.8C243.6 234.2 238.3 234.2 237.7 231.8Z" fill="url(#gA)" opacity="0.9973061958258194"/>
<path d="M227.2 233.1C226.5 230.6 228.1 219.1 228.7 214.0C229.2 208.9 230.5 194.9 231.1 194.9C231.7 194.9 232.8 208.9 233.1 214.0C233.5 219.1 234.7 230.6 233.9 233.1C233.1 235.6 227.9 235.6 227.2 233.1Z" fill="url(#gA)" opacity="0.8472751361943514"/>
<path d="M220.6 232.2C219.6 230.1 217.9 220.6 217.3 216.4C216.8 212.1 216.3 200.5 216.7 200.5C217.0 200.5 219.2 212.1 220.3 216.4C221.4 220.6 225.0 230.1 225.0 232.2C225.1 234.3 221.6 234.3 220.6 232.2Z" fill="url(#gB)" opacity="0.9734945392453447"/>
<path d="M237.0 231.9C236.3 229.4 237.8 218.1 238.3 213.1C238.7 208.0 239.9 194.2 240.5 194.2C241.0 194.2 242.1 208.0 242.5 213.1C242.8 218.1 244.0 229.4 243.3 231.9C242.6 234.4 237.7 234.4 237.0 231.9Z" fill="url(#gA)" opacity="0.9168831519709602"/>
<path d="M207.9 231.2C206.8 229.6 205.6 222.7 205.2 219.6C204.8 216.5 204.5 208.0 204.9 208.0C205.4 208.0 207.5 216.5 208.6 219.6C209.7 222.7 213.1 229.6 213.0 231.2C212.9 232.7 208.9 232.7 207.9 231.2Z" fill="url(#gA)" opacity="0.8393718600712575"/>
<path d="M200.8 232.8C199.8 231.2 199.8 224.2 199.9 221.0C199.9 217.9 200.4 209.3 201.0 209.3C201.6 209.3 203.5 217.9 204.4 221.0C205.3 224.2 208.1 231.2 207.7 232.8C207.2 234.3 201.9 234.3 200.8 232.8Z" fill="url(#gA)" opacity="0.8882795860457809"/>
<path d="M236.1 233.2C236.0 230.8 239.2 220.2 240.2 215.4C241.2 210.7 243.2 197.7 243.6 197.7C244.1 197.7 243.9 210.7 243.5 215.4C243.2 220.2 242.1 230.8 241.1 233.2C240.2 235.6 236.3 235.6 236.1 233.2Z" fill="url(#gA)" opacity="0.8234661457294074"/>
<path d="M208.2 232.2C206.8 230.1 205.9 220.6 205.6 216.4C205.3 212.2 205.4 200.7 206.0 200.7C206.7 200.7 209.3 212.2 210.6 216.4C211.8 220.6 215.9 230.1 215.6 232.2C215.3 234.3 209.5 234.3 208.2 232.2Z" fill="url(#gA)" opacity="0.8548343898951534"/>
<path d="M221.0 232.1C220.3 229.7 219.9 219.2 219.7 214.5C219.6 209.8 219.7 196.8 220.1 196.8C220.5 196.8 221.9 209.8 222.6 214.5C223.3 219.2 225.6 229.7 225.4 232.1C225.2 234.4 221.8 234.4 221.0 232.1Z" fill="url(#gB)" opacity="0.9382429195608297"/>
<path d="M204.3 231.0C203.5 229.5 203.5 222.9 203.6 219.9C203.6 217.0 204.1 208.9 204.6 208.9C205.1 208.9 206.6 217.0 207.4 219.9C208.1 222.9 210.4 229.5 210.0 231.0C209.6 232.5 205.2 232.5 204.3 231.0Z" fill="url(#gA)" opacity="0.9262718959069376"/>
<path d="M204.6 231.8C203.5 230.1 203.2 222.6 203.1 219.2C203.0 215.8 203.2 206.6 203.8 206.6C204.4 206.6 206.3 215.8 207.3 219.2C208.2 222.6 211.2 230.1 210.9 231.8C210.5 233.5 205.6 233.5 204.6 231.8Z" fill="url(#gA)" opacity="0.8103786433358183"/>
<path d="M226.6 231.4C225.7 228.6 226.9 216.0 227.3 210.4C227.6 204.7 228.7 189.3 229.3 189.3C229.9 189.3 231.3 204.7 231.8 210.4C232.4 216.0 234.1 228.6 233.4 231.4C232.7 234.2 227.4 234.2 226.6 231.4Z" fill="url(#gB)" opacity="0.8792065147826359"/>
<path d="M217.8 231.8C217.2 229.6 219.0 219.6 219.5 215.1C220.1 210.7 221.4 198.4 221.9 198.4C222.5 198.4 223.3 210.7 223.6 215.1C223.8 219.6 224.6 229.6 223.9 231.8C223.1 234.1 218.4 234.1 217.8 231.8Z" fill="url(#gB)" opacity="0.9063163285917399"/>
<path d="M233.0 232.8C232.8 230.3 235.1 219.0 235.9 214.0C236.6 209.0 238.2 195.2 238.6 195.2C239.0 195.2 239.1 209.0 239.0 214.0C238.9 219.0 238.5 230.3 237.7 232.8C236.9 235.3 233.2 235.3 233.0 232.8Z" fill="url(#gA)" opacity="0.9442665344965879"/>
<path d="M245.1 231.2C244.8 228.6 247.8 216.5 248.8 211.2C249.7 205.8 251.6 191.1 252.1 191.1C252.6 191.1 252.7 205.8 252.5 211.2C252.3 216.5 251.7 228.6 250.7 231.2C249.7 233.9 245.3 233.9 245.1 231.2Z" fill="url(#gB)" opacity="0.8794295979175314"/>
<path d="M210.4 233.1C209.0 231.3 206.9 223.0 206.3 219.3C205.7 215.7 205.2 205.6 205.8 205.6C206.4 205.6 209.4 215.7 210.9 219.3C212.5 223.0 217.4 231.3 217.4 233.1C217.3 234.9 211.9 234.9 210.4 233.1Z" fill="url(#gA)" opacity="0.8473546451349787"/>
<path d="M218.8 233.4C217.6 231.2 217.1 221.4 217.0 217.0C216.8 212.6 217.0 200.6 217.6 200.6C218.2 200.6 220.3 212.6 221.3 217.0C222.4 221.4 225.7 231.2 225.3 233.4C225.0 235.6 219.9 235.6 218.8 233.4Z" fill="url(#gA)" opacity="0.8440832008477827"/>
<path d="M222.9 232.7C221.9 230.2 221.4 218.9 221.3 213.9C221.2 208.9 221.4 195.1 221.9 195.1C222.5 195.1 224.4 208.9 225.4 213.9C226.4 218.9 229.4 230.2 229.1 232.7C228.8 235.2 224.0 235.2 222.9 232.7Z" fill="url(#gA)" opacity="0.936794235931419"/>
<path d="M228.5 231.9C227.9 229.3 228.3 217.6 228.5 212.4C228.6 207.2 229.1 192.9 229.5 192.9C229.9 192.9 230.9 207.2 231.3 212.4C231.8 217.6 233.2 229.3 232.8 231.9C232.4 234.5 229.1 234.5 228.5 231.9Z" fill="url(#gB)" opacity="0.9719265050547208"/>
<path d="M225.1 231.5C224.1 229.0 224.1 217.8 224.2 212.7C224.2 207.7 224.7 193.9 225.3 193.9C225.9 193.9 227.9 207.7 228.7 212.7C229.6 217.8 232.5 229.0 232.0 231.5C231.5 234.0 226.1 234.0 225.1 231.5Z" fill="url(#gA)" opacity="0.869191079446908"/>
<path d="M252.1 232.8C251.5 230.3 253.3 218.7 253.9 213.6C254.5 208.5 255.8 194.4 256.4 194.4C256.9 194.4 257.7 208.5 257.9 213.6C258.2 218.7 258.9 230.3 258.1 232.8C257.3 235.4 252.6 235.4 252.1 232.8Z" fill="url(#gA)" opacity="0.8698036648751444"/>
<path d="M260.1 231.4C259.6 229.0 260.5 218.3 260.8 213.5C261.1 208.7 261.9 195.5 262.3 195.5C262.7 195.5 263.4 208.7 263.6 213.5C263.9 218.3 264.7 229.0 264.2 231.4C263.7 233.8 260.5 233.8 260.1 231.4Z" fill="url(#gC)" opacity="0.9647713938872471"/>
<path d="M261.2 232.7C260.6 230.4 262.9 219.9 263.6 215.2C264.3 210.6 266.0 197.7 266.6 197.7C267.2 197.7 268.1 210.6 268.3 215.2C268.5 219.9 269.2 230.4 268.3 232.7C267.4 235.0 261.8 235.0 261.2 232.7Z" fill="url(#gC)" opacity="0.9976866176875814"/>
<path d="M291.4 232.3C291.5 230.1 295.7 220.1 297.0 215.6C298.3 211.1 300.9 198.9 301.3 198.9C301.8 198.9 301.1 211.1 300.5 215.6C299.9 220.1 297.9 230.1 296.7 232.3C295.5 234.5 291.4 234.5 291.4 232.3Z" fill="url(#gB)" opacity="0.8740078904735626"/>
<path d="M261.5 231.3C260.6 228.9 260.1 218.1 259.9 213.3C259.7 208.5 259.8 195.3 260.2 195.3C260.6 195.3 262.2 208.5 263.0 213.3C263.7 218.1 266.2 228.9 266.0 231.3C265.8 233.7 262.3 233.7 261.5 231.3Z" fill="url(#gB)" opacity="0.8345071741062001"/>
<path d="M270.8 230.6C270.2 228.4 271.7 218.2 272.2 213.7C272.6 209.2 273.8 196.9 274.3 196.9C274.8 196.9 275.7 209.2 276.0 213.7C276.2 218.2 277.1 228.4 276.5 230.6C275.8 232.9 271.3 232.9 270.8 230.6Z" fill="url(#gC)" opacity="0.8331633664743561"/>
<path d="M283.6 231.9C283.5 229.8 287.0 220.7 288.1 216.6C289.2 212.6 291.4 201.4 291.8 201.4C292.3 201.4 292.0 212.6 291.6 216.6C291.1 220.7 289.8 229.8 288.7 231.9C287.7 233.9 283.7 233.9 283.6 231.9Z" fill="url(#gC)" opacity="0.8132155410639889"/>
<path d="M265.4 231.7C265.1 229.2 268.1 218.0 269.0 213.0C269.9 208.0 271.8 194.3 272.3 194.3C272.8 194.3 272.9 208.0 272.7 213.0C272.5 218.0 271.9 229.2 270.9 231.7C269.9 234.2 265.6 234.2 265.4 231.7Z" fill="url(#gC)" opacity="0.8738647266664242"/>
<path d="M284.5 231.1C284.6 229.0 289.2 219.7 290.6 215.6C292.1 211.4 294.7 200.1 295.2 200.1C295.6 200.1 294.7 211.4 293.9 215.6C293.1 219.7 290.6 229.0 289.4 231.1C288.1 233.2 284.3 233.2 284.5 231.1Z" fill="url(#gC)" opacity="0.9466888954389238"/>
<path d="M293.4 231.6C293.1 230.0 296.9 222.7 298.0 219.4C299.2 216.1 301.7 207.2 302.3 207.2C303.0 207.2 303.2 216.1 303.0 219.4C302.8 222.7 302.1 230.0 300.9 231.6C299.6 233.3 293.8 233.3 293.4 231.6Z" fill="url(#gC)" opacity="0.9656988512908647"/>
<path d="M259.1 232.7C258.4 230.5 259.2 220.3 259.4 215.8C259.6 211.3 260.4 198.9 260.9 198.9C261.4 198.9 262.6 211.3 263.1 215.8C263.6 220.3 265.2 230.5 264.7 232.7C264.2 235.0 259.8 235.0 259.1 232.7Z" fill="url(#gB)" opacity="0.9008302905645146"/>
<path d="M284.5 231.9C284.7 229.7 289.6 219.6 291.2 215.1C292.7 210.6 295.6 198.3 296.1 198.3C296.5 198.3 295.6 210.6 294.7 215.1C293.9 219.6 291.2 229.7 289.9 231.9C288.5 234.2 284.3 234.2 284.5 231.9Z" fill="url(#gA)" opacity="0.8062949302344886"/>
<path d="M272.1 231.0C271.8 228.9 275.1 219.5 276.1 215.3C277.1 211.1 279.2 199.7 279.8 199.7C280.4 199.7 280.6 211.1 280.4 215.3C280.2 219.5 279.7 228.9 278.5 231.0C277.4 233.1 272.4 233.1 272.1 231.0Z" fill="url(#gC)" opacity="0.8514085353069202"/>
<path d="M280.8 231.0C280.8 228.6 286.5 218.0 288.3 213.2C290.1 208.5 293.5 195.4 294.1 195.4C294.8 195.4 294.0 208.5 293.2 213.2C292.4 218.0 289.8 228.6 288.1 231.0C286.5 233.4 280.7 233.4 280.8 231.0Z" fill="url(#gA)" opacity="0.8969215310033349"/>
<path d="M287.3 230.9C287.4 229.0 291.2 220.5 292.4 216.7C293.6 212.9 295.8 202.5 296.2 202.5C296.6 202.5 296.0 212.9 295.4 216.7C294.8 220.5 292.9 229.0 291.8 230.9C290.7 232.8 287.2 232.8 287.3 230.9Z" fill="url(#gA)" opacity="0.976870133996885"/>
<path d="M258.0 231.6C256.7 229.5 256.3 219.8 256.2 215.5C256.0 211.2 256.4 199.4 257.0 199.4C257.7 199.4 260.0 211.2 261.2 215.5C262.3 219.8 265.9 229.5 265.5 231.6C265.1 233.8 259.2 233.8 258.0 231.6Z" fill="url(#gB)" opacity="0.8526638465763718"/>
<path d="M284.9 230.6C284.5 228.7 287.3 220.6 288.1 217.0C289.0 213.4 290.8 203.4 291.3 203.4C291.8 203.4 292.1 213.4 292.0 217.0C291.9 220.6 291.7 228.7 290.7 230.6C289.8 232.4 285.2 232.4 284.9 230.6Z" fill="url(#gC)" opacity="0.9668497994112978"/>
<path d="M268.8 232.8C268.0 230.5 268.7 220.3 268.9 215.7C269.1 211.1 270.0 198.6 270.6 198.6C271.1 198.6 272.6 211.1 273.3 215.7C273.9 220.3 276.0 230.5 275.4 232.8C274.8 235.1 269.7 235.1 268.8 232.8Z" fill="url(#gC)" opacity="0.8882207430190218"/>
<path d="M262.6 231.5C261.5 229.3 261.9 219.4 262.0 215.1C262.1 210.7 262.8 198.7 263.5 198.7C264.2 198.7 266.1 210.7 267.0 215.1C267.8 219.4 270.6 229.3 270.0 231.5C269.4 233.7 263.6 233.7 262.6 231.5Z" fill="url(#gA)" opacity="0.909104124704691"/>
<path d="M280.0 231.0C279.4 228.8 280.7 218.9 281.2 214.5C281.6 210.1 282.7 198.0 283.3 198.0C283.8 198.0 284.8 210.1 285.2 214.5C285.5 218.9 286.7 228.8 286.0 231.0C285.3 233.2 280.7 233.2 280.0 231.0Z" fill="url(#gC)" opacity="0.928021989408015"/>
<path d="M297.6 232.1C297.1 230.4 299.5 222.8 300.3 219.5C301.1 216.1 302.8 206.9 303.4 206.9C304.0 206.9 304.7 216.1 304.8 219.5C305.0 222.8 305.4 230.4 304.4 232.1C303.4 233.8 298.2 233.8 297.6 232.1Z" fill="url(#gC)" opacity="0.9588857627690267"/>
<path d="M276.3 231.6C276.4 229.4 280.2 219.6 281.4 215.2C282.6 210.9 284.8 198.9 285.2 198.9C285.6 198.9 285.0 210.9 284.4 215.2C283.8 219.6 281.8 229.4 280.7 231.6C279.7 233.8 276.2 233.8 276.3 231.6Z" fill="url(#gC)" opacity="0.8451882159206959"/>
<path d="M276.4 232.3C275.6 230.0 276.8 219.3 277.2 214.5C277.6 209.7 278.8 196.7 279.3 196.7C279.9 196.7 281.2 209.7 281.7 214.5C282.2 219.3 283.8 230.0 283.1 232.3C282.3 234.7 277.1 234.7 276.4 232.3Z" fill="url(#gA)" opacity="0.802317571674325"/>
<path d="M274.1 230.6C273.8 228.6 276.9 219.3 277.9 215.3C278.9 211.2 281.0 199.9 281.6 199.9C282.1 199.9 282.3 211.2 282.2 215.3C282.0 219.3 281.5 228.6 280.5 230.6C279.4 232.6 274.4 232.6 274.1 230.6Z" fill="url(#gC)" opacity="0.9633476771006567"/>
<path d="M275.0 231.5C274.8 228.7 278.8 216.4 280.0 210.9C281.3 205.4 283.7 190.3 284.3 190.3C284.8 190.3 284.6 205.4 284.2 210.9C283.8 216.4 282.5 228.7 281.2 231.5C280.0 234.2 275.1 234.2 275.0 231.5Z" fill="url(#gA)" opacity="0.9928149546398396"/>
<path d="M261.1 231.7C260.6 229.5 262.6 219.4 263.2 214.9C263.8 210.4 265.3 198.0 265.8 198.0C266.4 198.0 267.1 210.4 267.3 214.9C267.5 219.4 268.1 229.5 267.3 231.7C266.5 234.0 261.7 234.0 261.1 231.7Z" fill="url(#gA)" opacity="0.9923767174390722"/>
<path d="M267.1 231.7C266.7 228.8 267.9 215.5 268.2 209.6C268.6 203.7 269.5 187.4 269.9 187.4C270.3 187.4 270.9 203.7 271.1 209.6C271.3 215.5 272.0 228.8 271.4 231.7C270.9 234.7 267.5 234.7 267.1 231.7Z" fill="url(#gC)" opacity="0.9121070247630935"/>
<path d="M271.0 232.3C270.7 229.7 272.8 218.0 273.5 212.8C274.1 207.6 275.6 193.3 276.0 193.3C276.4 193.3 276.8 207.6 276.7 212.8C276.7 218.0 276.7 229.7 275.9 232.3C275.1 234.9 271.3 234.9 271.0 232.3Z" fill="url(#gB)" opacity="0.9495532084356597"/>
<path d="M261.6 232.4C260.6 230.0 260.9 219.6 261.0 215.0C261.0 210.4 261.6 197.7 262.2 197.7C262.8 197.7 264.5 210.4 265.3 215.0C266.1 219.6 268.6 230.0 268.1 232.4C267.6 234.7 262.6 234.7 261.6 232.4Z" fill="url(#gA)" opacity="0.9326553005569554"/>
<path d="M298.0 232.1C297.3 230.6 299.2 224.0 299.8 221.1C300.5 218.1 302.0 210.0 302.6 210.0C303.3 210.0 304.3 218.1 304.7 221.1C305.0 224.0 306.1 230.6 305.2 232.1C304.3 233.6 298.7 233.6 298.0 232.1Z" fill="url(#gB)" opacity="0.8510351396074285"/>
<path d="M293.0 232.3C292.7 230.3 296.5 221.3 297.6 217.2C298.8 213.2 301.2 202.2 301.8 202.2C302.4 202.2 302.4 213.2 302.1 217.2C301.8 221.3 300.8 230.3 299.6 232.3C298.4 234.3 293.2 234.3 293.0 232.3Z" fill="url(#gC)" opacity="0.9808257173381596"/>
<path d="M270.7 230.6C270.0 228.0 270.5 216.6 270.6 211.6C270.8 206.5 271.4 192.6 271.9 192.6C272.4 192.6 273.7 206.5 274.3 211.6C274.8 216.6 276.7 228.0 276.2 230.6C275.7 233.1 271.5 233.1 270.7 230.6Z" fill="url(#gA)" opacity="0.9208845865223797"/>
<path d="M271.8 231.7C271.5 229.1 273.2 217.6 273.7 212.5C274.2 207.4 275.4 193.3 275.7 193.3C276.1 193.3 276.5 207.4 276.5 212.5C276.5 217.6 276.6 229.1 276.0 231.7C275.4 234.2 272.1 234.2 271.8 231.7Z" fill="url(#gC)" opacity="0.9830033183424775"/>
<path d="M261.0 230.8C260.4 227.9 262.7 214.9 263.4 209.1C264.1 203.3 265.7 187.4 266.3 187.4C266.9 187.4 267.7 203.3 267.8 209.1C268.0 214.9 268.6 227.9 267.7 230.8C266.8 233.7 261.6 233.7 261.0 230.8Z" fill="url(#gA)" opacity="0.8244072587850569"/>
<path d="M280.6 231.6C280.4 228.8 283.0 216.3 283.8 210.8C284.6 205.3 286.2 190.0 286.6 190.0C287.0 190.0 287.0 205.3 286.8 210.8C286.6 216.3 286.0 228.8 285.1 231.6C284.3 234.3 280.8 234.3 280.6 231.6Z" fill="url(#gC)" opacity="0.9380941299048486"/>
<path d="M281.3 231.9C281.2 229.5 285.3 218.8 286.5 214.0C287.8 209.3 290.3 196.2 290.8 196.2C291.4 196.2 291.1 209.3 290.6 214.0C290.1 218.8 288.6 229.5 287.4 231.9C286.2 234.2 281.4 234.2 281.3 231.9Z" fill="url(#gC)" opacity="0.8633831553941749"/>
<path d="M270.8 231.1C270.3 228.1 271.2 214.8 271.5 208.9C271.8 203.0 272.6 186.7 273.1 186.7C273.5 186.7 274.4 203.0 274.7 208.9C275.0 214.8 276.1 228.1 275.6 231.1C275.1 234.0 271.3 234.0 270.8 231.1Z" fill="url(#gC)" opacity="0.8458696435974549"/>
<path d="M109.8 234.9C109.3 234.1 110.3 230.7 110.6 229.1C110.9 227.6 111.7 223.4 112.1 223.4C112.5 223.4 113.3 227.6 113.6 229.1C113.9 230.7 114.8 234.1 114.3 234.9C113.8 235.6 110.3 235.6 109.8 234.9Z" fill="url(#gB)" opacity="0.9632259023750733"/>
<path d="M64.4 234.3C63.6 233.6 62.5 230.3 62.2 228.9C61.9 227.4 61.7 223.4 62.1 223.4C62.5 223.4 64.2 227.4 65.1 228.9C65.9 230.3 68.8 233.6 68.7 234.3C68.6 235.1 65.3 235.1 64.4 234.3Z" fill="url(#gB)" opacity="0.9936875152830185"/>
<path d="M109.5 233.6C109.1 232.6 111.7 228.1 112.4 226.2C113.2 224.2 114.9 218.7 115.5 218.7C116.0 218.7 116.3 224.2 116.3 226.2C116.3 228.1 116.2 232.6 115.2 233.6C114.3 234.6 109.8 234.6 109.5 233.6Z" fill="url(#gB)" opacity="0.9156648371937004"/>
<path d="M104.8 233.7C104.4 232.8 106.0 228.7 106.4 226.9C106.9 225.0 108.0 220.0 108.5 220.0C108.9 220.0 109.4 225.0 109.5 226.9C109.6 228.7 110.0 232.8 109.3 233.7C108.7 234.6 105.2 234.6 104.8 233.7Z" fill="url(#gB)" opacity="0.9430930515304934"/>
<path d="M102.8 233.8C102.3 232.7 103.0 227.7 103.2 225.4C103.4 223.2 104.0 217.1 104.3 217.1C104.7 217.1 105.5 223.2 105.8 225.4C106.1 227.7 107.1 232.7 106.7 233.8C106.3 234.9 103.3 234.9 102.8 233.8Z" fill="url(#gB)" opacity="0.8687505015739816"/>
<path d="M59.5 234.5C58.5 233.7 56.5 230.2 55.9 228.7C55.3 227.1 54.6 222.8 55.0 222.8C55.4 222.8 57.6 227.1 58.8 228.7C60.0 230.2 63.8 233.7 63.9 234.5C64.0 235.3 60.6 235.3 59.5 234.5Z" fill="url(#gB)" opacity="0.8040055252410538"/>
<path d="M78.3 235.4C78.0 234.1 80.2 228.0 80.9 225.3C81.5 222.7 82.9 215.2 83.3 215.2C83.7 215.2 83.9 222.7 83.8 225.3C83.7 228.0 83.4 234.1 82.7 235.4C82.0 236.8 78.5 236.8 78.3 235.4Z" fill="url(#gB)" opacity="0.8556148296332836"/>
<path d="M105.5 235.3C104.9 234.5 106.7 230.9 107.2 229.3C107.7 227.8 109.0 223.4 109.6 223.4C110.1 223.4 110.9 227.8 111.1 229.3C111.3 230.9 112.1 234.5 111.3 235.3C110.6 236.1 106.0 236.1 105.5 235.3Z" fill="url(#gB)" opacity="0.8958323561614153"/>
<path d="M82.3 235.9C81.8 234.7 82.1 229.3 82.2 226.9C82.3 224.5 82.7 217.9 83.0 217.9C83.4 217.9 84.3 224.5 84.7 226.9C85.1 229.3 86.4 234.7 86.1 235.9C85.7 237.1 82.8 237.1 82.3 235.9Z" fill="url(#gB)" opacity="0.8350114699257885"/>
<path d="M101.9 235.6C101.1 234.7 101.2 230.7 101.3 228.9C101.4 227.1 101.8 222.2 102.4 222.2C102.9 222.2 104.4 227.1 105.1 228.9C105.8 230.7 108.1 234.7 107.6 235.6C107.2 236.5 102.8 236.5 101.9 235.6Z" fill="url(#gB)" opacity="0.996737346617933"/>
<path d="M59.1 233.5C58.2 232.6 57.5 228.6 57.3 226.9C57.1 225.1 57.0 220.2 57.5 220.2C57.9 220.2 59.5 225.1 60.4 226.9C61.2 228.6 63.9 232.6 63.7 233.5C63.5 234.4 59.9 234.4 59.1 233.5Z" fill="url(#gB)" opacity="0.9750416839896945"/>
<path d="M85.7 235.6C85.5 234.7 87.8 230.6 88.5 228.8C89.2 227.0 90.7 222.0 91.0 222.0C91.4 222.0 91.5 227.0 91.3 228.8C91.2 230.6 90.6 234.7 89.9 235.6C89.1 236.5 85.9 236.5 85.7 235.6Z" fill="url(#gB)" opacity="0.8057238277785231"/>
<path d="M61.9 234.0C60.6 233.0 58.2 228.3 57.5 226.2C56.8 224.1 56.0 218.3 56.4 218.3C56.9 218.3 59.6 224.1 61.0 226.2C62.5 228.3 67.1 233.0 67.2 234.0C67.3 235.1 63.2 235.1 61.9 234.0Z" fill="url(#gB)" opacity="0.953264774861472"/>
<path d="M95.6 234.0C94.9 233.3 95.0 230.3 95.1 228.9C95.1 227.6 95.5 223.9 96.0 223.9C96.4 223.9 97.8 227.6 98.4 228.9C99.0 230.3 101.0 233.3 100.6 234.0C100.2 234.7 96.4 234.7 95.6 234.0Z" fill="url(#gB)" opacity="0.9402717766863589"/>
<path d="M71.9 235.8C71.1 234.6 70.7 229.3 70.5 226.9C70.4 224.5 70.4 218.0 70.8 218.0C71.2 218.0 72.6 224.5 73.4 226.9C74.1 229.3 76.4 234.6 76.2 235.8C76.0 237.0 72.7 237.0 71.9 235.8Z" fill="url(#gB)" opacity="0.8156043011461501"/>
<path d="M99.8 235.8C99.3 234.6 100.3 229.6 100.6 227.3C100.9 225.1 101.8 218.9 102.2 218.9C102.6 218.9 103.5 225.1 103.8 227.3C104.2 229.6 105.2 234.6 104.7 235.8C104.1 236.9 100.4 236.9 99.8 235.8Z" fill="url(#gB)" opacity="0.8672613253367086"/>
<path d="M100.3 235.3C99.7 234.1 100.7 228.5 101.1 226.0C101.4 223.5 102.2 216.6 102.7 216.6C103.1 216.6 104.0 223.5 104.4 226.0C104.7 228.5 105.8 234.1 105.3 235.3C104.7 236.6 100.9 236.6 100.3 235.3Z" fill="url(#gB)" opacity="0.9931193798166821"/>
<path d="M82.9 235.3C82.6 233.9 84.8 227.3 85.5 224.4C86.2 221.5 87.6 213.5 88.0 213.5C88.4 213.5 88.6 221.5 88.6 224.4C88.5 227.3 88.2 233.9 87.5 235.3C86.7 236.8 83.1 236.8 82.9 235.3Z" fill="url(#gB)" opacity="0.9299630562077119"/>
<path d="M79.2 234.8C78.6 233.5 79.4 227.8 79.7 225.2C79.9 222.7 80.6 215.7 81.1 215.7C81.5 215.7 82.4 222.7 82.8 225.2C83.2 227.8 84.4 233.5 83.9 234.8C83.5 236.1 79.8 236.1 79.2 234.8Z" fill="url(#gB)" opacity="0.969474213995731"/>
<path d="M116.8 234.5C116.6 234.1 118.5 232.2 119.1 231.4C119.7 230.6 120.9 228.4 121.2 228.4C121.6 228.4 121.7 230.6 121.7 231.4C121.6 232.2 121.4 234.1 120.7 234.5C120.1 234.9 117.0 234.9 116.8 234.5Z" fill="url(#gB)" opacity="0.9429126607372621"/>
<path d="M114.1 235.0C113.6 234.1 114.6 230.1 114.9 228.3C115.2 226.5 116.0 221.5 116.4 221.5C116.7 221.5 117.4 226.5 117.6 228.3C117.9 230.1 118.6 234.1 118.2 235.0C117.7 235.9 114.5 235.9 114.1 235.0Z" fill="url(#gB)" opacity="0.8579287772889965"/>
<path d="M93.6 234.7C93.4 233.4 95.2 227.4 95.8 224.8C96.3 222.1 97.5 214.8 97.8 214.8C98.1 214.8 98.3 222.1 98.2 224.8C98.1 227.4 97.9 233.4 97.3 234.7C96.7 236.0 93.8 236.0 93.6 234.7Z" fill="url(#gB)" opacity="0.9565931622585105"/>
<path d="M60.3 234.7C59.6 233.8 59.2 229.8 59.0 228.0C58.9 226.2 59.0 221.3 59.4 221.3C59.7 221.3 61.1 226.2 61.8 228.0C62.4 229.8 64.6 233.8 64.4 234.7C64.2 235.6 61.0 235.6 60.3 234.7Z" fill="url(#gB)" opacity="0.9105764121342373"/>
<path d="M73.2 233.9C72.5 232.8 71.7 227.9 71.4 225.7C71.2 223.6 71.0 217.6 71.4 217.6C71.7 217.6 73.2 223.6 73.9 225.7C74.6 227.9 77.0 232.8 76.9 233.9C76.8 235.0 73.9 235.0 73.2 233.9Z" fill="url(#gB)" opacity="0.9161491003992434"/>
<path d="M223.3 232.1C222.7 231.0 223.8 226.3 224.1 224.2C224.5 222.1 225.5 216.3 226.0 216.3C226.6 216.3 227.7 222.1 228.1 224.2C228.6 226.3 230.0 231.0 229.3 232.1C228.7 233.1 224.0 233.1 223.3 232.1Z" fill="url(#gB)" opacity="0.9141555745688674"/>
<path d="M255.5 232.6C255.3 231.7 258.0 227.6 258.8 225.8C259.7 224.0 261.4 219.0 261.9 219.0C262.3 219.0 262.4 224.0 262.3 225.8C262.1 227.6 261.6 231.7 260.7 232.6C259.8 233.5 255.8 233.5 255.5 232.6Z" fill="url(#gC)" opacity="0.8115816719286362"/>
<path d="M291.8 233.9C292.1 232.8 296.8 228.0 298.3 225.8C299.8 223.6 302.5 217.7 302.8 217.7C303.2 217.7 302.0 223.6 301.1 225.8C300.2 228.0 297.2 232.8 295.9 233.9C294.7 235.0 291.4 235.0 291.8 233.9Z" fill="url(#gC)" opacity="0.8729983659434005"/>
<path d="M201.3 233.2C200.8 232.5 202.0 229.1 202.4 227.6C202.8 226.1 203.7 221.9 204.1 221.9C204.5 221.9 205.2 226.1 205.4 227.6C205.7 229.1 206.4 232.5 205.8 233.2C205.3 234.0 201.7 234.0 201.3 233.2Z" fill="url(#gB)" opacity="0.937365634854778"/>
<path d="M283.5 233.2C282.9 232.5 284.4 229.5 284.8 228.1C285.3 226.8 286.4 223.1 286.9 223.1C287.4 223.1 288.3 226.8 288.6 228.1C288.9 229.5 289.9 232.5 289.2 233.2C288.5 233.8 284.1 233.8 283.5 233.2Z" fill="url(#gB)" opacity="0.9857395533234351"/>
<path d="M269.4 232.4C269.1 231.5 271.2 227.3 271.8 225.5C272.4 223.6 273.8 218.5 274.1 218.5C274.5 218.5 274.8 223.6 274.7 225.5C274.7 227.3 274.5 231.5 273.8 232.4C273.1 233.3 269.7 233.3 269.4 232.4Z" fill="url(#gB)" opacity="0.8456759443334052"/>
<path d="M287.7 232.9C287.6 232.3 290.3 229.6 291.2 228.4C292.0 227.2 293.7 223.9 294.1 223.9C294.6 223.9 294.5 227.2 294.3 228.4C294.1 229.6 293.3 232.3 292.4 232.9C291.6 233.5 287.9 233.5 287.7 232.9Z" fill="url(#gC)" opacity="0.9767328558661843"/>
<path d="M217.1 232.5C216.7 231.4 218.0 226.6 218.3 224.5C218.7 222.3 219.7 216.5 220.0 216.5C220.4 216.5 220.9 222.3 221.0 224.5C221.2 226.6 221.6 231.4 221.1 232.5C220.6 233.5 217.5 233.5 217.1 232.5Z" fill="url(#gB)" opacity="0.8421424491296496"/>
<path d="M275.1 233.7C275.1 232.6 278.9 227.5 280.1 225.2C281.3 223.0 283.6 216.7 284.1 216.7C284.5 216.7 284.1 223.0 283.5 225.2C283.0 227.5 281.4 232.6 280.2 233.7C279.1 234.9 275.1 234.9 275.1 233.7Z" fill="url(#gC)" opacity="0.9290781402001534"/>
<path d="M276.8 232.3C276.3 231.5 277.9 228.2 278.4 226.7C278.9 225.2 280.1 221.1 280.5 221.1C281.0 221.1 281.6 225.2 281.8 226.7C281.9 228.2 282.4 231.5 281.8 232.3C281.1 233.0 277.2 233.0 276.8 232.3Z" fill="url(#gC)" opacity="0.9454543265614539"/>
<path d="M219.8 232.0C219.1 231.0 218.8 226.6 218.7 224.6C218.7 222.6 218.8 217.2 219.2 217.2C219.5 217.2 220.8 222.6 221.5 224.6C222.1 226.6 224.1 231.0 223.9 232.0C223.7 233.0 220.5 233.0 219.8 232.0Z" fill="url(#gC)" opacity="0.8897543076374526"/>
<path d="M264.3 233.8C264.4 232.5 268.5 226.6 269.8 224.0C271.0 221.4 273.5 214.2 273.9 214.2C274.4 214.2 273.8 221.4 273.2 224.0C272.6 226.6 270.7 232.5 269.5 233.8C268.3 235.2 264.3 235.2 264.3 233.8Z" fill="url(#gC)" opacity="0.9705952642084881"/>
<path d="M203.9 233.0C203.4 232.3 203.9 229.0 204.0 227.5C204.1 226.0 204.6 221.9 204.9 221.9C205.3 221.9 206.2 226.0 206.5 227.5C206.9 229.0 208.1 232.3 207.8 233.0C207.4 233.8 204.5 233.8 203.9 233.0Z" fill="url(#gB)" opacity="0.8515527112962593"/>
<path d="M292.9 232.8C292.9 231.8 295.8 227.5 296.7 225.5C297.6 223.6 299.3 218.3 299.7 218.3C300.0 218.3 299.7 223.6 299.3 225.5C298.9 227.5 297.7 231.8 296.9 232.8C296.0 233.8 293.0 233.8 292.9 232.8Z" fill="url(#gC)" opacity="0.8166530194787027"/>
<path d="M280.9 232.5C280.6 231.9 283.1 229.0 283.9 227.8C284.7 226.5 286.4 223.0 286.9 223.0C287.4 223.0 287.8 226.5 287.7 227.8C287.7 229.0 287.6 231.9 286.7 232.5C285.8 233.2 281.3 233.2 280.9 232.5Z" fill="url(#gC)" opacity="0.8628966143890429"/>
<path d="M281.5 233.9C281.6 233.0 285.4 228.7 286.6 226.8C287.8 224.9 289.9 219.6 290.3 219.6C290.6 219.6 289.7 224.9 289.0 226.8C288.4 228.7 286.2 233.0 285.1 233.9C284.1 234.9 281.3 234.9 281.5 233.9Z" fill="url(#gC)" opacity="0.887556570427196"/>
<path d="M272.5 232.2C271.8 231.3 272.4 227.6 272.5 225.9C272.7 224.3 273.3 219.7 273.8 219.7C274.2 219.7 275.4 224.3 275.9 225.9C276.4 227.6 278.1 231.3 277.6 232.2C277.2 233.0 273.2 233.0 272.5 232.2Z" fill="url(#gB)" opacity="0.9158740470995042"/>
<path d="M262.8 231.5C262.4 230.6 263.7 226.9 264.1 225.2C264.4 223.5 265.4 218.9 265.7 218.9C266.1 218.9 266.6 223.5 266.7 225.2C266.9 226.9 267.3 230.6 266.8 231.5C266.2 232.3 263.1 232.3 262.8 231.5Z" fill="url(#gB)" opacity="0.9308470961345566"/>
<path d="M211.5 232.7C211.0 232.0 211.2 228.9 211.2 227.5C211.3 226.1 211.6 222.3 211.9 222.3C212.3 222.3 213.2 226.1 213.6 227.5C214.0 228.9 215.3 232.0 215.0 232.7C214.8 233.4 212.0 233.4 211.5 232.7Z" fill="url(#gB)" opacity="0.9639434863982046"/>
<path d="M220.8 233.2C220.0 232.1 220.0 227.0 219.9 224.7C219.9 222.4 220.2 216.1 220.7 216.1C221.1 216.1 222.5 222.4 223.2 224.7C223.9 227.0 226.0 232.1 225.7 233.2C225.4 234.4 221.6 234.4 220.8 233.2Z" fill="url(#gC)" opacity="0.9346764949452929"/>
<path d="M284.0 232.7C283.5 232.0 284.7 228.7 285.0 227.2C285.4 225.8 286.4 221.8 286.9 221.8C287.3 221.8 288.2 225.8 288.5 227.2C288.8 228.7 289.8 232.0 289.2 232.7C288.6 233.4 284.6 233.4 284.0 232.7Z" fill="url(#gB)" opacity="0.8473102766655123"/>
<path d="M263.7 233.0C263.6 232.1 267.0 228.0 268.1 226.1C269.2 224.3 271.4 219.2 271.9 219.2C272.4 219.2 272.2 224.3 271.8 226.1C271.5 228.0 270.4 232.1 269.3 233.0C268.2 234.0 263.9 234.0 263.7 233.0Z" fill="url(#gC)" opacity="0.9759770588116824"/>
<path d="M264.2 232.1C264.0 231.3 266.0 227.8 266.7 226.3C267.3 224.7 268.6 220.5 268.9 220.5C269.2 220.5 269.3 224.7 269.2 226.3C269.1 227.8 268.7 231.3 268.0 232.1C267.3 232.8 264.4 232.8 264.2 232.1Z" fill="url(#gB)" opacity="0.9674859749287499"/>
<path d="M255.8 231.5C255.7 230.4 257.9 225.0 258.6 222.6C259.3 220.3 260.7 213.7 261.0 213.7C261.4 213.7 261.3 220.3 261.1 222.6C260.9 225.0 260.2 230.4 259.5 231.5C258.8 232.7 255.9 232.7 255.8 231.5Z" fill="url(#gB)" opacity="0.9004343471838613"/>
<path d="M223.6 231.9C223.1 231.0 225.1 227.2 225.7 225.6C226.3 223.9 227.6 219.2 228.0 219.2C228.5 219.2 229.0 223.9 229.1 225.6C229.2 227.2 229.5 231.0 228.7 231.9C228.0 232.7 224.0 232.7 223.6 231.9Z" fill="url(#gC)" opacity="0.8195477040491641"/>
<path d="M246.3 232.4C246.0 231.2 249.0 225.5 249.9 223.0C250.9 220.4 252.7 213.5 253.2 213.5C253.7 213.5 253.8 220.4 253.7 223.0C253.5 225.5 252.9 231.2 251.9 232.4C250.9 233.7 246.6 233.7 246.3 232.4Z" fill="url(#gC)" opacity="0.9733501847754843"/>
<path d="M216.5 232.3C215.9 231.7 216.3 228.9 216.4 227.7C216.6 226.5 217.1 223.2 217.6 223.2C218.0 223.2 219.2 226.5 219.8 227.7C220.3 228.9 222.0 231.7 221.6 232.3C221.1 232.9 217.2 232.9 216.5 232.3Z" fill="url(#gC)" opacity="0.8940383105198872"/>
<path d="M270.0 233.0C270.1 232.0 273.2 227.9 274.2 226.1C275.1 224.3 276.9 219.2 277.3 219.2C277.6 219.2 277.1 224.3 276.6 226.1C276.1 227.9 274.6 232.0 273.7 233.0C272.8 233.9 270.0 233.9 270.0 233.0Z" fill="url(#gC)" opacity="0.8632015631128082"/>
<path d="M207.0 234.0C205.9 233.3 204.5 230.3 204.1 229.0C203.6 227.7 203.3 224.1 203.8 224.1C204.2 224.1 206.4 227.7 207.5 229.0C208.6 230.3 212.1 233.3 212.0 234.0C212.0 234.6 208.0 234.6 207.0 234.0Z" fill="url(#gC)" opacity="0.9429435773142908"/>
<path d="M238.6 233.3C237.9 232.4 237.3 228.3 237.2 226.4C237.0 224.6 237.1 219.5 237.5 219.5C237.8 219.5 239.3 224.6 240.1 226.4C240.8 228.3 243.1 232.4 242.9 233.3C242.7 234.2 239.4 234.2 238.6 233.3Z" fill="url(#gC)" opacity="0.9092907916709209"/>
<path d="M261.9 233.2C261.2 232.3 262.2 228.6 262.5 226.9C262.8 225.2 263.7 220.6 264.2 220.6C264.8 220.6 266.0 225.2 266.4 226.9C266.9 228.6 268.4 232.3 267.8 233.2C267.2 234.0 262.6 234.0 261.9 233.2Z" fill="url(#gC)" opacity="0.8612473353172218"/>
<path d="M207.8 232.1C207.3 231.3 208.1 227.6 208.4 225.9C208.6 224.3 209.3 219.7 209.7 219.7C210.0 219.7 210.8 224.3 211.1 225.9C211.4 227.6 212.3 231.3 211.9 232.1C211.4 232.9 208.3 232.9 207.8 232.1Z" fill="url(#gC)" opacity="0.8927282228381649"/>
<path d="M265.5 233.2C265.4 231.9 269.0 225.6 270.1 222.8C271.2 220.1 273.3 212.4 273.8 212.4C274.2 212.4 273.9 220.1 273.4 222.8C273.0 225.6 271.6 231.9 270.6 233.2C269.5 234.6 265.6 234.6 265.5 233.2Z" fill="url(#gB)" opacity="0.8482361006325857"/>
<path d="M250.4 233.3C250.1 232.3 252.4 227.7 253.1 225.7C253.8 223.6 255.3 218.0 255.7 218.0C256.2 218.0 256.4 223.6 256.3 225.7C256.2 227.7 256.0 232.3 255.2 233.3C254.4 234.4 250.7 234.4 250.4 233.3Z" fill="url(#gC)" opacity="0.9970410665949139"/>
<path d="M88.1 229.7C88.8 228.9 106.7 227.0 112.6 226.5C118.6 226.0 140.9 224.1 147.7 224.7C154.4 225.3 174.5 232.3 180.2 232.2C186.0 232.2 198.8 224.2 205.3 224.0C211.8 223.8 244.3 229.3 245.3 230.2C246.3 231.2 221.7 232.5 215.3 233.2C208.9 233.9 188.2 237.2 181.5 237.2C174.7 237.3 155.3 234.2 147.7 234.0C140.0 233.7 111.1 235.2 105.1 234.7C99.2 234.3 87.3 230.6 88.1 229.7Z" fill="#E9E4DE"/>
<path d="M88.1 229.7C88.6 229.6 99.2 234.3 105.1 234.7C111.1 235.2 140.0 233.7 147.7 234.0C155.3 234.2 174.7 237.3 181.5 237.2C188.2 237.2 208.9 233.9 215.3 233.2C221.7 232.5 243.8 230.2 245.3 230.2C246.8 230.2 236.7 232.3 230.3 233.2C223.9 234.2 191.0 239.3 181.5 239.7C172.0 240.1 143.3 237.6 135.2 237.2C127.0 236.9 104.8 237.0 100.1 236.2C95.4 235.5 87.6 229.9 88.1 229.7Z" fill="#6A5A50"/>
<path d="M92.6 229.7C92.8 229.2 107.1 227.6 112.6 227.2C118.1 226.8 141.0 225.2 147.7 225.7C154.4 226.3 179.7 232.1 179.7 232.7C179.7 233.3 154.6 231.7 147.7 231.7C140.7 231.7 115.6 232.9 110.1 232.7C104.6 232.5 92.3 230.3 92.6 229.7Z" fill="#F7F4EF"/>
<path d="M182.7 232.2C181.7 231.6 199.3 225.4 205.3 225.2C211.3 225.0 241.8 229.6 242.8 230.2C243.8 230.9 221.3 231.5 215.3 231.7C209.3 231.9 183.7 232.9 182.7 232.2Z" fill="#CFC9C4"/>
<path d="M115.5 220.3C115.5 217.6 117.6 214.4 121.3 212.8C125.0 211.1 131.1 209.8 137.6 210.3C144.0 210.7 153.9 214.6 160.1 215.3C166.4 215.9 169.7 214.9 175.2 214.0C180.6 213.1 188.4 209.5 192.7 209.7C196.9 210.0 199.7 213.2 200.7 215.3C201.7 217.3 202.0 220.2 198.9 222.3C195.9 224.4 188.7 226.4 182.7 227.8C176.6 229.1 170.1 229.4 162.6 230.3C155.1 231.2 144.5 233.5 137.6 233.3C130.7 233.1 125.0 231.2 121.3 229.0C117.6 226.9 115.5 223.0 115.5 220.3Z" fill="#2D9C9F"/>
<path d="M121.3 215.3C123.0 213.8 131.1 212.2 132.6 213.3C134.0 214.3 131.7 220.0 130.1 221.5C128.4 223.0 124.0 223.3 122.5 222.3C121.1 221.2 119.6 216.8 121.3 215.3Z" fill="#E6B23A"/>
<path d="M132.6 225.3C136.3 223.2 154.3 220.1 162.6 220.3C171.0 220.5 182.7 224.8 182.7 226.5C182.7 228.3 169.7 229.7 162.6 230.8C155.5 231.8 145.1 233.7 140.1 232.8C135.1 231.9 128.8 227.4 132.6 225.3Z" fill="#1F7F86"/>
<ellipse cx="173.9" cy="229.8" rx="9.5" ry="2.5" fill="#A9602F" transform="rotate(5.0 173.9 229.8)"/>
<path d="M129.6 192.7C131.1 190.6 135.2 188.5 137.6 190.2C140.0 191.9 140.1 199.2 143.8 202.7C147.6 206.3 157.8 209.0 160.1 211.5C162.4 214.0 161.4 218.0 157.6 217.8C153.9 217.6 142.5 212.8 137.6 210.3C132.6 207.7 129.4 205.7 128.1 202.7C126.7 199.8 128.0 194.8 129.6 192.7Z" fill="#A9602F"/>
<path d="M130.1 195.2C129.7 196.5 128.0 200.4 128.1 202.7C128.1 205.0 130.1 208.0 130.6 209.0" fill="none" stroke="#F2B43A" stroke-width="1.75" stroke-linecap="round"/>
<path d="M131.3 185.2C132.9 181.9 135.7 177.2 140.1 175.2C144.5 173.2 152.2 172.7 157.6 173.2C163.0 173.7 168.8 175.3 172.6 178.2C176.5 181.0 180.2 186.7 180.7 190.2C181.1 193.7 176.5 196.5 175.2 199.0C173.8 201.5 178.1 204.2 172.6 205.2C167.2 206.3 148.4 206.5 142.6 205.2C136.7 204.0 139.6 199.4 137.6 197.7C135.6 196.1 131.6 197.3 130.6 195.2C129.5 193.1 129.7 188.5 131.3 185.2Z" fill="#F0694B"/>
<path d="M142.6 190.2C145.1 190.7 152.6 193.2 157.6 193.2C162.6 193.2 170.1 190.7 172.6 190.2" fill="none" stroke="#E0513C" stroke-width="0.75" opacity="0.6" stroke-linecap="round"/>
<path d="M141.3 196.5C144.0 197.0 152.2 199.7 157.6 199.7C163.0 199.7 171.2 197.0 173.9 196.5" fill="none" stroke="#E0513C" stroke-width="0.75" opacity="0.6" stroke-linecap="round"/>
<path d="M142.6 183.9C145.1 184.4 152.6 186.5 157.6 186.5C162.6 186.5 170.1 184.4 172.6 183.9" fill="none" stroke="#F58B6A" stroke-width="0.75" opacity="0.6" stroke-linecap="round"/>
<path d="M174.1 195.2C175.0 193.3 180.0 193.3 182.7 191.5C185.3 189.6 187.9 185.0 190.2 183.9C192.5 182.9 195.3 183.9 196.4 185.2C197.6 186.5 198.7 189.2 197.2 191.5C195.7 193.8 190.9 197.1 187.7 199.0C184.4 200.9 179.9 203.4 177.7 202.7C175.4 202.1 173.3 197.1 174.1 195.2Z" fill="#C17A48"/>
<path d="M152.1 202.2L168.1 210.3L185.7 200.7L187.7 205.7L170.1 222.3L153.9 210.3Z" fill="#7A6A62"/>
<path d="M153.1 201.7L168.1 209.2L168.9 215.3L153.9 207.7Z" fill="#EDEBE8"/>
<path d="M169.1 209.7L185.2 200.7L186.4 204.7L169.6 216.3Z" fill="#FFFFFF"/>
<path d="M169.1 209.7L185.2 200.7L185.7 202.7L169.6 212.8Z" fill="#F3A25A" opacity="0.8"/>
<ellipse cx="159.6" cy="213.3" rx="6.0" ry="3.5" fill="#C17A48" transform="rotate(25.0 159.6 213.3)"/>
<ellipse cx="160.1" cy="175.2" rx="7.0" ry="4.5" fill="#A9602F"/>
<path d="M196.7 165.7L187.7 202.7" fill="none" stroke="#2A1A18" stroke-width="1.50" stroke-linecap="round"/>
<path d="M196.7 165.7C195.9 165.7 194.2 162.0 194.2 160.2C194.2 158.3 195.9 154.6 196.7 154.6C197.5 154.6 199.2 158.3 199.2 160.2C199.2 162.0 197.5 165.7 196.7 165.7Z" fill="#F59A2C"/>
<path d="M196.7 164.7C196.2 164.7 195.2 161.8 195.2 160.7C195.2 159.5 196.2 157.6 196.7 157.6C197.2 157.6 197.9 159.5 197.9 160.7C197.9 161.8 197.2 164.7 196.7 164.7Z" fill="#FBE08A"/>
<ellipse cx="137.6" cy="149.6" rx="4.5" ry="5.5" fill="#C17A48" transform="rotate(-15.0 137.6 149.6)"/>
<path d="M142.1 145.1C143.3 141.8 144.6 140.1 150.1 138.9C155.6 137.6 169.1 135.5 175.2 137.6C181.2 139.7 184.8 147.2 186.4 151.4C188.1 155.6 187.0 159.2 185.2 162.7C183.3 166.1 179.3 170.3 175.2 172.2C171.0 174.1 164.5 174.7 160.1 174.2C155.7 173.6 151.8 171.5 148.8 168.9C145.9 166.4 143.7 162.9 142.6 158.9C141.5 154.9 140.8 148.5 142.1 145.1Z" fill="#C17A48"/>
<ellipse cx="151.4" cy="158.1" rx="7.0" ry="5.5" fill="#B35F30" opacity="0.8"/>
<path d="M141.3 157.6C142.0 159.3 143.0 165.1 145.1 167.7C147.2 170.3 152.4 172.3 153.9 173.2" fill="none" stroke="#F0B03A" stroke-width="1.50" stroke-linecap="round"/>
<ellipse cx="159.6" cy="156.9" rx="4.3" ry="4.0" fill="#FFFFFF"/>
<ellipse cx="160.6" cy="157.6" rx="3.0" ry="3.0" fill="#1A1210"/>
<ellipse cx="177.2" cy="159.4" rx="3.5" ry="3.5" fill="#FFFFFF"/>
<ellipse cx="176.7" cy="160.2" rx="2.5" ry="2.5" fill="#1A1210"/>
<path d="M153.9 150.6C154.9 150.1 158.0 147.6 160.1 147.6C162.2 147.6 165.3 150.1 166.4 150.6" fill="none" stroke="#5A2A16" stroke-width="1.25" stroke-linecap="round"/>
<path d="M173.9 152.6C174.7 152.3 177.4 150.4 178.9 150.6C180.5 150.8 182.5 153.3 183.2 153.9" fill="none" stroke="#5A2A16" stroke-width="1.25" stroke-linecap="round"/>
<ellipse cx="168.1" cy="164.2" rx="3.3" ry="3.0" fill="#E8663C"/>
<path d="M155.6 165.7C156.8 166.3 160.0 169.1 162.6 169.7C165.3 170.3 169.9 169.3 171.4 169.2" fill="none" stroke="#5A2410" stroke-width="1.00" stroke-linecap="round"/>
<path d="M125.1 127.1C125.1 123.3 125.7 117.1 127.6 113.8C129.4 110.5 132.6 108.5 136.3 107.0C140.1 105.6 145.3 105.0 150.1 105.0C154.9 105.0 160.1 105.9 165.1 107.0C170.1 108.2 175.5 109.5 180.2 112.1C184.8 114.6 189.8 118.4 193.2 122.1C196.6 125.7 199.3 130.2 200.7 133.8C202.1 137.5 202.0 141.6 201.5 143.9C200.9 146.2 198.7 146.7 197.2 147.6C195.6 148.6 193.7 150.1 192.2 149.6C190.7 149.1 189.6 146.4 188.2 144.6C186.8 142.8 185.9 139.5 183.9 138.9C182.0 138.2 179.7 141.0 176.4 140.6C173.1 140.2 167.5 136.0 163.9 136.4C160.2 136.7 157.7 141.2 154.6 142.6C151.6 144.1 148.0 144.0 145.6 145.1C143.2 146.3 142.2 150.0 140.1 149.6C138.0 149.3 135.2 145.3 133.1 143.1C130.9 140.9 128.4 139.0 127.1 136.4C125.7 133.7 125.0 130.8 125.1 127.1Z" fill="#7B3F22"/>
<path d="M183.9 137.6C185.3 137.8 190.5 141.8 192.2 144.1C193.9 146.5 194.7 150.8 194.2 151.6C193.6 152.4 190.6 150.3 188.9 148.9C187.2 147.5 184.8 145.0 183.9 143.1C183.1 141.2 182.5 137.4 183.9 137.6Z" fill="#7B3F22"/>
<ellipse cx="143.8" cy="104.0" rx="13.5" ry="13.0" fill="#7B3F22"/>
<path d="M135.1 100.0C135.5 98.6 140.7 94.9 143.8 94.5C147.0 94.2 151.6 95.9 153.9 98.0C156.1 100.2 157.7 106.9 157.1 107.5C156.5 108.2 152.7 102.8 150.1 102.0C147.5 101.3 143.8 103.4 141.3 103.0C138.8 102.7 134.7 101.4 135.1 100.0Z" fill="#9A5530" opacity="0.8"/>
<path d="M128.8 122.6C131.5 121.2 139.0 115.7 145.1 114.6C151.1 113.4 158.7 113.8 165.1 115.6C171.6 117.3 178.7 121.2 183.9 125.1C189.1 129.0 194.4 136.6 196.4 138.9" fill="none" stroke="#9A5530" stroke-width="1.75" opacity="0.9" stroke-linecap="round"/>
<path d="M131.3 133.8C134.4 132.4 143.6 126.3 150.1 125.1C156.6 123.8 163.9 124.0 170.1 126.3C176.4 128.6 184.8 136.8 187.7 138.9" fill="none" stroke="#5E2C16" stroke-width="1.25" opacity="0.8" stroke-linecap="round"/>
<path d="M137.6 112.1C140.5 111.6 148.8 109.0 155.1 109.5C161.4 110.1 169.3 112.8 175.2 115.6C181.0 118.4 187.7 124.5 190.2 126.3" fill="none" stroke="#5E2C16" stroke-width="1.00" opacity="0.7" stroke-linecap="round"/>
<path d="M140.1 141.4C142.4 140.3 149.3 136.6 153.9 135.1C158.5 133.6 165.3 133.0 167.6 132.6" fill="none" stroke="#9A5530" stroke-width="1.00" opacity="0.8" stroke-linecap="round"/>
<path d="M153.9 89.5L150.1 96.3" fill="none" stroke="#7B3F22" stroke-width="0.75" stroke-linecap="round"/>
<path d="M160.1 93.0L153.9 100.0" fill="none" stroke="#7B3F22" stroke-width="0.75" stroke-linecap="round"/>
<path d="M199.7 143.9L204.7 141.6" fill="none" stroke="#7B3F22" stroke-width="0.75" stroke-linecap="round"/>
<path d="M124.5 120.1L120.5 123.1" fill="none" stroke="#7B3F22" stroke-width="0.75" stroke-linecap="round"/>
<path d="M195.2 152.1L198.9 155.6" fill="none" stroke="#7B3F22" stroke-width="0.75" stroke-linecap="round"/>
<path d="M201.5 135.1L205.2 136.4" fill="none" stroke="#7B3F22" stroke-width="0.75" stroke-linecap="round"/>
<path d="M127.6 110.1L124.0 108.0" fill="none" stroke="#7B3F22" stroke-width="0.75" stroke-linecap="round"/>
<path d="M163.9 106.3L167.6 102.5" fill="none" stroke="#7B3F22" stroke-width="0.75" stroke-linecap="round"/>
<path d="M123.0 130.1L120.0 132.6" fill="none" stroke="#7B3F22" stroke-width="0.75" stroke-linecap="round"/></g>
<g id="ill2"><ellipse cx="660.2" cy="212.7" rx="132.7" ry="15.5" fill="#F3E2D0" opacity="0.7"/>
<ellipse cx="640.2" cy="211.4" rx="100.2" ry="10.5" fill="#EAD6C2" opacity="0.35"/>
<ellipse cx="572.6" cy="210.7" rx="42.6" ry="7.5" fill="#CDB09A" opacity="0.5"/>
<ellipse cx="750.4" cy="211.4" rx="37.6" ry="7.0" fill="#CDB09A" opacity="0.45"/>
<ellipse cx="660.2" cy="213.2" rx="132.7" ry="15.5" fill="none" stroke="#FFFFFF" stroke-width="0.6" stroke-dasharray="2 2" opacity="0.9"/>
<path d="M649.3 109.9C646.8 109.2 639.1 107.5 634.0 106.1C628.9 104.8 622.3 101.9 618.6 101.8C615.0 101.6 612.7 104.1 612.1 105.5C611.4 106.8 614.2 109.1 614.7 109.9" fill="none" stroke="#5CC3CC" stroke-width="3.07" opacity="1" stroke-linecap="round"/>
<path d="M646.0 113.2C642.6 114.1 632.3 117.4 625.2 118.6C618.1 119.9 609.9 119.5 603.3 120.8C596.7 122.1 590.3 125.5 585.8 126.3C581.2 127.1 577.5 125.9 575.9 125.9" fill="none" stroke="#F6D04A" stroke-width="2.19" opacity="0.9" stroke-linecap="round"/>
<path d="M644.9 114.9C641.3 116.1 630.0 120.2 623.0 121.9C616.1 123.6 608.8 123.7 603.3 125.2C597.8 126.7 592.3 129.8 590.1 130.7" fill="none" stroke="#5CC3CC" stroke-width="2.19" opacity="0.9" stroke-linecap="round"/>
<path d="M643.8 116.4C640.7 117.5 631.2 121.4 625.2 123.0C619.2 124.7 612.8 124.7 607.7 126.3C602.6 127.9 597.4 131.8 594.5 132.9C591.6 134.0 590.9 132.9 590.1 132.9" fill="none" stroke="#E8553A" stroke-width="1.75" opacity="0.85" stroke-linecap="round"/>
<path d="M642.7 117.5C639.5 119.0 628.9 124.1 623.0 126.3C617.2 128.5 611.3 130.1 607.7 130.7C604.0 131.2 602.2 129.8 601.1 129.6" fill="none" stroke="#F6C23A" stroke-width="1.75" opacity="0.85" stroke-linecap="round"/>
<path d="M649.3 113.6C646.8 114.6 638.9 117.4 634.0 119.7C629.0 122.0 622.6 124.3 619.7 127.4C616.8 130.5 616.3 136.0 616.4 138.4C616.6 140.7 620.1 141.1 620.8 141.6" fill="none" stroke="#F2762E" stroke-width="3.95" opacity="1" stroke-linecap="round"/>
<path d="M648.2 117.5C646.8 119.4 641.8 124.8 639.5 128.5C637.1 132.1 635.6 136.3 634.0 139.5C632.3 142.6 629.9 145.6 629.6 147.1C629.3 148.7 631.8 148.4 632.2 148.7" fill="none" stroke="#E8553A" stroke-width="3.51" opacity="1" stroke-linecap="round"/>
<path d="M652.6 120.8C651.5 123.2 648.0 130.1 646.0 135.1C644.1 140.0 641.5 145.8 641.0 150.4C640.4 155.0 640.8 159.1 642.7 162.5C644.7 165.8 651.0 169.2 652.6 170.6" fill="none" stroke="#F6B92E" stroke-width="4.38" opacity="1" stroke-linecap="round"/>
<path d="M656.3 123.0C657.5 125.4 662.5 132.3 663.6 137.3C664.6 142.2 663.3 148.2 662.5 152.6C661.6 157.0 659.3 160.7 658.5 163.6C657.7 166.4 657.8 168.7 657.6 169.7" fill="none" stroke="#F8CC4A" stroke-width="3.95" opacity="1" stroke-linecap="round"/>
<path d="M660.3 119.7C660.0 121.9 659.8 128.9 658.5 132.9C657.2 136.9 654.3 140.5 652.6 143.8C650.9 147.1 648.4 150.2 648.2 152.6C648.0 155.0 650.2 157.7 651.5 158.1C652.8 158.4 655.5 155.8 655.9 154.8C656.3 153.8 654.1 152.6 653.7 152.2" fill="none" stroke="#6CCAD2" stroke-width="2.19" opacity="1" stroke-linecap="round"/>
<path d="M666.4 124.1C667.8 125.2 672.8 128.3 674.5 130.7C676.2 133.1 677.1 136.0 676.7 138.4C676.3 140.7 673.1 143.8 672.3 144.9" fill="none" stroke="#E8553A" stroke-width="3.07" opacity="1" stroke-linecap="round"/>
<path d="M671.2 108.8C672.7 108.9 678.6 108.8 680.0 109.9C681.4 111.0 679.6 114.4 679.6 115.3" fill="none" stroke="#F6D04A" stroke-width="2.63" opacity="1" stroke-linecap="round"/>
<path d="M640.1 95.2C640.7 94.3 647.1 99.7 650.4 101.1C653.8 102.4 656.7 104.6 660.3 103.3C663.8 102.0 669.3 94.6 671.7 93.4C674.0 92.2 675.2 93.3 674.3 96.1C673.4 98.8 669.0 106.5 666.4 109.9C663.8 113.3 661.0 115.6 658.5 116.4C656.0 117.3 653.5 116.5 651.5 114.9C649.5 113.3 648.6 109.9 646.7 106.6C644.8 103.3 639.5 96.1 640.1 95.2Z" fill="#F28A22"/>
<path d="M649.3 100.0C648.8 99.4 644.9 95.6 642.7 94.5C640.6 93.4 636.1 92.8 636.6 93.4C637.2 94.0 643.9 97.2 646.0 98.2C648.1 99.3 649.9 100.6 649.3 100.0Z" fill="#E8553A"/>
<path d="M651.5 106.6C652.7 106.0 657.0 108.6 657.6 111.0C658.3 113.3 656.7 120.3 655.5 120.8C654.2 121.4 651.1 116.6 650.4 114.2C649.8 111.9 650.3 107.1 651.5 106.6Z" fill="#F6B92E"/>
<path d="M660.3 103.3C661.6 101.1 669.6 94.8 671.7 93.4C673.8 92.0 674.3 92.5 673.0 94.7C671.6 96.9 665.7 105.2 663.6 106.6C661.4 108.0 658.9 105.5 660.3 103.3Z" fill="#F6B92E"/>
<path d="M590.2 107.1L591.2 111.5L595.6 112.7L591.7 115.0L591.9 119.5L588.5 116.5L584.3 118.2L586.1 114.0L583.2 110.5L587.7 110.9Z" fill="#3FB6C6"/>
<path d="M587.5 135.7L588.0 137.0L589.4 137.1L588.4 138.0L588.7 139.3L587.5 138.6L586.3 139.3L586.7 138.0L585.6 137.1L587.0 137.0Z" fill="#E8553A"/>
<ellipse cx="592.3" cy="132.9" rx="0.9" ry="0.9" fill="#F6C23A"/>
<ellipse cx="596.7" cy="129.6" rx="0.9" ry="0.9" fill="#5CC3CC"/>
<ellipse cx="585.8" cy="130.7" rx="0.9" ry="0.9" fill="#E8553A"/>
<ellipse cx="582.5" cy="128.1" rx="0.9" ry="0.9" fill="#F6C23A"/>
<path d="M556.8 215.7C557.4 214.6 560.1 213.1 563.8 212.2C567.6 211.4 574.4 210.8 579.2 210.7C583.9 210.5 588.1 211.8 592.3 211.3C596.5 210.9 602.3 207.8 604.4 207.8C606.5 207.9 606.3 210.4 605.0 211.8C603.8 213.2 599.9 215.5 596.7 216.2C593.5 216.8 589.8 215.5 585.8 215.7C581.7 215.9 576.8 216.7 572.6 217.3C568.4 217.8 563.2 219.1 560.5 218.8C557.9 218.5 556.3 216.8 556.8 215.7Z" fill="#7F3E20"/>
<path d="M564.9 187.7C566.0 184.1 567.5 182.6 570.4 181.5C573.3 180.4 579.9 179.7 582.5 181.1C585.0 182.5 584.1 186.8 585.8 189.9C587.4 193.0 589.2 197.5 592.3 199.7C595.4 201.9 602.7 201.6 604.4 203.0C606.0 204.5 605.3 207.0 602.2 208.5C599.1 210.0 591.6 211.3 585.8 211.8C579.9 212.3 570.8 212.8 567.1 211.3C563.5 209.9 564.2 207.0 563.8 203.0C563.5 199.1 563.8 191.3 564.9 187.7Z" fill="#E5562B"/>
<ellipse cx="577.8" cy="201.7" rx="1.3" ry="1.3" fill="#F6B92E"/>
<ellipse cx="580.4" cy="206.1" rx="1.3" ry="1.3" fill="#F6B92E"/>
<ellipse cx="579.6" cy="205.7" rx="1.3" ry="1.3" fill="#F6B92E"/>
<ellipse cx="568.7" cy="195.7" rx="1.3" ry="1.3" fill="#F6B92E"/>
<ellipse cx="582.7" cy="199.7" rx="1.3" ry="1.3" fill="#F6B92E"/>
<ellipse cx="582.0" cy="188.0" rx="1.3" ry="1.3" fill="#F6B92E"/>
<ellipse cx="575.4" cy="190.9" rx="1.3" ry="1.3" fill="#F6B92E"/>
<ellipse cx="576.6" cy="198.1" rx="1.3" ry="1.3" fill="#F6B92E"/>
<ellipse cx="568.4" cy="190.2" rx="1.3" ry="1.3" fill="#F6B92E"/>
<path d="M567.1 209.6C570.2 209.5 580.0 209.9 585.8 209.2C591.5 208.4 598.9 205.9 601.5 205.2" fill="none" stroke="#F6B92E" stroke-width="1.10" stroke-linecap="round"/>
<path d="M585.8 203.0C587.6 203.3 594.0 204.8 596.7 204.8C599.5 204.8 601.3 203.3 602.2 203.0" fill="none" stroke="#F6C84A" stroke-width="1.10" stroke-linecap="round"/>
<path d="M577.4 186.6C577.4 184.9 580.4 184.4 582.5 185.5C584.5 186.6 588.1 191.1 589.7 193.2C591.3 195.2 592.5 196.4 592.3 197.5C592.1 198.6 590.0 200.1 588.4 199.7C586.7 199.4 584.3 197.5 582.5 195.3C580.6 193.2 577.4 188.2 577.4 186.6Z" fill="#A35830"/>
<path d="M590.1 196.4L593.4 188.1" fill="none" stroke="#E8553A" stroke-width="0.88" stroke-linecap="round"/>
<path d="M590.6 196.4L596.7 188.8" fill="none" stroke="#E23A2A" stroke-width="0.88" stroke-linecap="round"/>
<path d="M591.2 199.7L595.6 194.2" fill="none" stroke="#3FB6C6" stroke-width="0.88" stroke-linecap="round"/>
<path d="M570.8 165.8C571.0 163.0 571.6 157.1 573.7 154.8C575.8 152.5 580.9 151.4 583.6 152.2C586.2 152.9 588.5 156.9 589.7 159.2C590.9 161.4 591.2 163.6 590.6 165.8C589.9 167.9 587.9 170.9 585.8 172.3C583.6 173.7 579.6 174.3 577.4 174.1C575.2 173.9 573.7 172.6 572.6 171.2C571.5 169.8 570.7 168.5 570.8 165.8Z" fill="#A35830"/>
<ellipse cx="572.6" cy="171.2" rx="2.2" ry="2.8" fill="#A35830"/>
<ellipse cx="584.2" cy="159.6" rx="1.8" ry="2.0" fill="#FFFFFF"/>
<ellipse cx="584.9" cy="159.8" rx="1.1" ry="1.3" fill="#1A0E0A"/>
<path d="M584.7 165.8C585.5 165.0 590.0 164.0 590.6 164.7C591.2 165.3 589.3 169.0 588.4 169.7C587.5 170.4 585.9 169.7 585.3 169.0C584.7 168.4 583.8 166.5 584.7 165.8Z" fill="#C22A22"/>
<path d="M581.4 154.8L585.3 153.9" fill="none" stroke="#3E1C10" stroke-width="0.88" stroke-linecap="round"/>
<path d="M552.9 163.6C552.5 159.7 553.1 152.8 555.1 149.3C557.1 145.8 561.2 143.7 564.9 142.7C568.7 141.8 574.3 142.3 577.4 143.8C580.5 145.4 583.6 150.3 583.6 152.2C583.6 154.0 579.1 153.3 577.4 154.8C575.8 156.3 574.8 158.4 573.7 161.4C572.6 164.3 572.3 170.0 570.8 172.3C569.4 174.7 567.2 175.6 564.9 175.6C562.7 175.6 559.3 174.3 557.3 172.3C555.3 170.3 553.2 167.4 552.9 163.6Z" fill="#3E1C10"/>
<ellipse cx="541.9" cy="160.3" rx="13.6" ry="13.6" fill="#3E1C10"/>
<ellipse cx="536.4" cy="153.7" rx="7.7" ry="7.7" fill="#3E1C10"/>
<ellipse cx="547.4" cy="147.1" rx="8.3" ry="8.3" fill="#3E1C10"/>
<ellipse cx="535.3" cy="167.9" rx="7.7" ry="7.7" fill="#3E1C10"/>
<ellipse cx="546.3" cy="175.6" rx="8.3" ry="8.3" fill="#3E1C10"/>
<ellipse cx="555.1" cy="165.8" rx="7.7" ry="7.7" fill="#3E1C10"/>
<ellipse cx="540.8" cy="143.8" rx="5.5" ry="5.5" fill="#3E1C10"/>
<ellipse cx="552.9" cy="181.1" rx="4.8" ry="4.8" fill="#3E1C10"/>
<ellipse cx="538.5" cy="176.0" rx="3.1" ry="3.1" fill="none" stroke="#5A2A18" stroke-width="0.5" opacity="0.9"/>
<ellipse cx="549.7" cy="149.4" rx="3.1" ry="3.1" fill="none" stroke="#5A2A18" stroke-width="0.5" opacity="0.9"/>
<ellipse cx="550.4" cy="148.7" rx="3.1" ry="3.1" fill="none" stroke="#5A2A18" stroke-width="0.5" opacity="0.9"/>
<ellipse cx="546.3" cy="148.3" rx="3.1" ry="3.1" fill="none" stroke="#5A2A18" stroke-width="0.5" opacity="0.9"/>
<ellipse cx="532.1" cy="174.4" rx="3.1" ry="3.1" fill="none" stroke="#5A2A18" stroke-width="0.5" opacity="0.9"/>
<ellipse cx="536.9" cy="151.4" rx="3.1" ry="3.1" fill="none" stroke="#5A2A18" stroke-width="0.5" opacity="0.9"/>
<ellipse cx="554.7" cy="174.4" rx="3.1" ry="3.1" fill="none" stroke="#5A2A18" stroke-width="0.5" opacity="0.9"/>
<ellipse cx="538.7" cy="177.6" rx="3.1" ry="3.1" fill="none" stroke="#5A2A18" stroke-width="0.5" opacity="0.9"/>
<ellipse cx="544.5" cy="167.6" rx="3.1" ry="3.1" fill="none" stroke="#5A2A18" stroke-width="0.5" opacity="0.9"/>
<ellipse cx="536.8" cy="176.8" rx="3.1" ry="3.1" fill="none" stroke="#5A2A18" stroke-width="0.5" opacity="0.9"/>
<ellipse cx="547.9" cy="177.7" rx="3.1" ry="3.1" fill="none" stroke="#5A2A18" stroke-width="0.5" opacity="0.9"/>
<ellipse cx="552.6" cy="154.3" rx="3.1" ry="3.1" fill="none" stroke="#5A2A18" stroke-width="0.5" opacity="0.9"/>
<ellipse cx="540.4" cy="149.7" rx="3.1" ry="3.1" fill="none" stroke="#5A2A18" stroke-width="0.5" opacity="0.9"/>
<ellipse cx="535.4" cy="146.1" rx="3.1" ry="3.1" fill="none" stroke="#5A2A18" stroke-width="0.5" opacity="0.9"/>
<ellipse cx="561.1" cy="161.0" rx="2.6" ry="2.6" fill="none" stroke="#5A2A18" stroke-width="0.5"/>
<ellipse cx="556.2" cy="162.7" rx="2.6" ry="2.6" fill="none" stroke="#5A2A18" stroke-width="0.5"/>
<ellipse cx="561.7" cy="154.3" rx="2.6" ry="2.6" fill="none" stroke="#5A2A18" stroke-width="0.5"/>
<ellipse cx="569.6" cy="158.2" rx="2.6" ry="2.6" fill="none" stroke="#5A2A18" stroke-width="0.5"/>
<ellipse cx="561.4" cy="158.2" rx="2.6" ry="2.6" fill="none" stroke="#5A2A18" stroke-width="0.5"/>
<ellipse cx="567.7" cy="148.4" rx="2.6" ry="2.6" fill="none" stroke="#5A2A18" stroke-width="0.5"/>
<ellipse cx="552.0" cy="157.0" rx="2.0" ry="3.5" fill="#F07A2A" transform="rotate(20.0 552.0 157.0)"/>
<ellipse cx="564.9" cy="152.6" rx="4.4" ry="3.1" fill="#2F9FCB" transform="rotate(-20.0 564.9 152.6)"/>
<ellipse cx="562.7" cy="152.6" rx="2.0" ry="2.0" fill="#F6D04A"/>
<ellipse cx="568.7" cy="149.3" rx="2.2" ry="1.5" fill="#2580B0" transform="rotate(-30.0 568.7 149.3)"/>
<ellipse cx="561.6" cy="158.7" rx="2.2" ry="1.5" fill="#F07A2A" transform="rotate(40.0 561.6 158.7)"/>
<path d="M634.0 201.3C635.3 200.0 638.4 199.1 642.7 199.7C647.1 200.3 655.2 203.4 660.3 204.8C665.4 206.1 671.1 206.7 673.4 207.8C675.8 209.0 676.3 211.2 674.5 211.8C672.7 212.4 667.8 211.9 662.5 211.3C657.2 210.8 647.3 209.2 642.7 208.5C638.2 207.8 636.5 208.6 635.1 207.4C633.6 206.2 632.7 202.5 634.0 201.3Z" fill="#8E4A26"/>
<path d="M614.2 196.4C615.8 194.7 619.0 195.1 623.0 194.7C627.0 194.2 634.4 193.5 638.4 193.8C642.3 194.1 645.8 194.9 646.7 196.4C647.6 198.0 646.0 201.0 643.8 203.0C641.7 205.0 637.8 207.5 634.0 208.5C630.1 209.5 624.2 209.7 620.8 209.2C617.5 208.6 614.9 207.3 613.8 205.2C612.7 203.1 612.7 198.2 614.2 196.4Z" fill="#2B6FA0"/>
<path d="M616.4 203.0C618.6 201.8 630.3 200.9 634.0 201.3C637.6 201.6 640.5 204.0 638.4 205.2C636.2 206.4 624.5 208.9 620.8 208.5C617.2 208.1 614.2 204.2 616.4 203.0Z" fill="#1E5580"/>
<path d="M613.2 184.4C613.7 181.6 614.4 179.3 616.4 177.8C618.4 176.3 622.8 175.3 625.2 175.6C627.6 176.0 629.5 177.6 630.7 180.0C631.9 182.4 632.2 186.8 632.2 189.9C632.2 193.0 633.3 197.0 630.7 198.6C628.1 200.3 619.4 200.5 616.4 199.7C613.5 199.0 613.7 196.8 613.2 194.2C612.6 191.7 612.6 187.1 613.2 184.4Z" fill="#F4F0E6"/>
<path d="M614.2 180.7C615.7 180.4 620.2 179.4 623.0 179.3C625.9 179.3 630.0 180.1 631.3 180.2" fill="none" stroke="#4FB3B8" stroke-width="1.53" stroke-linecap="butt"/>
<path d="M614.2 184.6C615.7 184.4 620.2 183.4 623.0 183.3C625.9 183.2 630.0 184.0 631.3 184.2" fill="none" stroke="#F08A4A" stroke-width="1.53" stroke-linecap="butt"/>
<path d="M614.2 188.5C615.7 188.3 620.2 187.3 623.0 187.2C625.9 187.2 630.0 188.0 631.3 188.1" fill="none" stroke="#4FB3B8" stroke-width="1.53" stroke-linecap="butt"/>
<path d="M614.2 192.5C615.7 192.3 620.2 191.3 623.0 191.2C625.9 191.1 630.0 191.9 631.3 192.1" fill="none" stroke="#F08A4A" stroke-width="1.53" stroke-linecap="butt"/>
<path d="M614.2 196.4C615.7 196.2 620.2 195.2 623.0 195.1C625.9 195.1 630.0 195.9 631.3 196.0" fill="none" stroke="#4FB3B8" stroke-width="1.53" stroke-linecap="butt"/>
<path d="M627.0 186.6C627.0 185.1 628.1 183.5 630.7 183.3C633.3 183.0 639.6 185.0 642.7 185.0C645.8 185.0 648.0 182.9 649.3 183.3C650.6 183.7 651.5 186.1 650.4 187.2C649.3 188.3 646.0 189.1 642.7 189.9C639.5 190.7 633.3 192.6 630.7 192.1C628.1 191.5 627.0 188.0 627.0 186.6Z" fill="#B56A38"/>
<path d="M614.7 192.1C615.2 190.8 616.5 189.1 618.6 189.9C620.7 190.6 624.8 195.2 627.4 196.4C630.0 197.7 633.1 196.7 634.0 197.5C634.9 198.3 634.7 200.8 632.9 201.3C631.1 201.7 625.9 201.0 623.0 200.4C620.1 199.8 616.7 198.9 615.3 197.5C614.0 196.1 614.1 193.3 614.7 192.1Z" fill="#8E4A26"/>
<path d="M647.1 181.5L665.8 173.4L662.9 180.2L651.9 186.4Z" fill="#F5C542"/>
<path d="M649.8 181.5L662.5 176.1L660.7 179.3L652.8 184.2Z" fill="#E9A82E" opacity="0.7"/>
<path d="M609.9 165.8C609.9 162.9 610.2 157.2 612.1 154.8C613.9 152.4 618.1 151.1 620.8 151.5C623.6 151.9 627.0 155.1 628.5 157.4C630.0 159.8 630.6 163.1 630.0 165.8C629.5 168.4 627.3 171.9 625.2 173.4C623.1 175.0 619.8 175.2 617.5 175.0C615.3 174.7 612.9 173.4 611.6 171.9C610.3 170.4 609.8 168.6 609.9 165.8Z" fill="#B56A38"/>
<ellipse cx="610.7" cy="170.6" rx="2.2" ry="2.8" fill="#B56A38"/>
<ellipse cx="622.1" cy="160.5" rx="2.0" ry="2.2" fill="#FFFFFF"/>
<ellipse cx="622.8" cy="160.7" rx="1.1" ry="1.3" fill="#1A0E0A"/>
<path d="M621.3 166.8C622.2 166.0 627.6 164.6 628.5 165.3C629.4 166.0 627.5 170.4 626.5 171.2C625.5 172.1 623.5 171.3 622.6 170.6C621.7 169.8 620.3 167.7 621.3 166.8Z" fill="#B8241E"/>
<path d="M621.7 166.8C622.7 166.4 627.1 165.5 628.1 165.5C629.0 165.6 628.6 166.6 627.6 167.1C626.6 167.5 623.1 168.2 622.1 168.2C621.2 168.1 620.7 167.3 621.7 166.8Z" fill="#FFFFFF"/>
<path d="M619.1 156.5L624.1 155.2" fill="none" stroke="#3E1C10" stroke-width="0.88" stroke-linecap="round"/>
<ellipse cx="606.6" cy="158.1" rx="8.8" ry="8.8" fill="#4A2414"/>
<ellipse cx="612.1" cy="151.5" rx="6.6" ry="6.6" fill="#4A2414"/>
<ellipse cx="602.2" cy="163.6" rx="4.8" ry="4.8" fill="#4A2414"/>
<ellipse cx="617.5" cy="150.0" rx="4.4" ry="4.4" fill="#4A2414"/>
<ellipse cx="603.3" cy="153.7" rx="5.5" ry="5.5" fill="#4A2414"/>
<ellipse cx="607.7" cy="166.8" rx="3.9" ry="3.9" fill="#4A2414"/>
<ellipse cx="616.0" cy="149.1" rx="1.8" ry="1.8" fill="none" stroke="#7A4426" stroke-width="0.5"/>
<ellipse cx="612.1" cy="165.0" rx="1.8" ry="1.8" fill="none" stroke="#7A4426" stroke-width="0.5"/>
<ellipse cx="599.2" cy="163.9" rx="1.8" ry="1.8" fill="none" stroke="#7A4426" stroke-width="0.5"/>
<ellipse cx="605.3" cy="159.8" rx="1.8" ry="1.8" fill="none" stroke="#7A4426" stroke-width="0.5"/>
<ellipse cx="599.1" cy="149.6" rx="1.8" ry="1.8" fill="none" stroke="#7A4426" stroke-width="0.5"/>
<ellipse cx="602.1" cy="167.1" rx="1.8" ry="1.8" fill="none" stroke="#7A4426" stroke-width="0.5"/>
<ellipse cx="602.3" cy="163.2" rx="1.8" ry="1.8" fill="none" stroke="#7A4426" stroke-width="0.5"/>
<ellipse cx="615.2" cy="166.8" rx="1.8" ry="1.8" fill="none" stroke="#7A4426" stroke-width="0.5"/>
<ellipse cx="604.9" cy="155.5" rx="1.8" ry="1.8" fill="none" stroke="#7A4426" stroke-width="0.5"/>
<ellipse cx="608.1" cy="163.6" rx="1.8" ry="1.8" fill="none" stroke="#7A4426" stroke-width="0.5"/>
<ellipse cx="600.8" cy="163.1" rx="1.8" ry="1.8" fill="none" stroke="#7A4426" stroke-width="0.5"/>
<ellipse cx="612.9" cy="165.2" rx="1.8" ry="1.8" fill="none" stroke="#7A4426" stroke-width="0.5"/>
<ellipse cx="599.5" cy="166.9" rx="1.8" ry="1.8" fill="none" stroke="#7A4426" stroke-width="0.5"/>
<ellipse cx="600.5" cy="155.2" rx="1.8" ry="1.8" fill="none" stroke="#7A4426" stroke-width="0.5"/>
<path d="M655.5 211.8L654.1 204.8" fill="none" stroke="#222" stroke-width="1.10" stroke-linecap="round"/>
<path d="M658.1 211.8L658.5 205.2" fill="none" stroke="#2D8FA8" stroke-width="1.10" stroke-linecap="round"/>
<path d="M660.7 211.8L662.5 206.3" fill="none" stroke="#333" stroke-width="1.10" stroke-linecap="round"/>
<path d="M657.0 212.2L655.9 207.4" fill="none" stroke="#3FB6C6" stroke-width="0.88" stroke-linecap="round"/>
<path d="M653.3 211.3L663.6 211.3L662.5 221.6L654.4 221.6Z" fill="#2E9CCB"/>
<path d="M653.5 214.0L663.3 214.0L663.1 216.6L653.7 216.6Z" fill="#F6C23A"/>
<path d="M611.0 230.4C611.0 229.4 620.9 220.5 623.0 219.5C625.1 218.4 634.5 217.3 636.2 217.3C637.8 217.3 641.0 219.0 642.7 219.5C644.5 219.9 656.3 221.6 657.0 222.7C657.7 223.9 652.7 232.5 651.5 233.7C650.3 234.9 643.8 237.0 642.7 237.0C641.6 237.0 640.0 234.2 638.4 233.7C636.7 233.2 625.3 231.8 623.0 231.5C620.7 231.2 611.0 231.4 611.0 230.4Z" fill="#F2B632"/>
<path d="M611.0 230.4C611.9 230.4 620.7 231.2 623.0 231.5C625.3 231.8 636.7 233.7 638.4 234.1C640.0 234.6 642.7 237.0 642.7 237.2C642.7 237.4 640.0 236.6 638.4 236.3C636.7 236.0 625.2 234.0 623.0 233.7C620.8 233.4 613.1 232.4 612.1 232.2C611.1 231.9 610.0 230.5 611.0 230.4Z" fill="#B9761E"/>
<path d="M625.2 223.8C626.7 223.7 631.8 222.2 634.0 222.7C636.2 223.3 639.1 226.0 638.4 227.1C637.6 228.2 631.1 228.9 629.6 229.3" fill="none" stroke="#3FB6C6" stroke-width="0.88" stroke-linecap="round"/>
<path d="M642.7 224.9C643.8 225.1 648.6 225.1 649.3 226.0C650.0 226.9 647.5 229.7 647.1 230.4" fill="none" stroke="#E8553A" stroke-width="0.88" stroke-linecap="round"/>
<path d="M640.1 219.5L639.5 234.1" fill="none" stroke="#C98A1E" stroke-width="0.66" stroke-linecap="round"/>
<path d="M654.1 229.3C654.3 228.4 662.5 223.1 664.7 222.7C666.8 222.4 678.5 224.2 680.0 224.9C681.5 225.7 682.9 230.7 682.2 231.5C681.5 232.3 672.9 234.6 671.2 234.8C669.6 235.0 663.9 234.2 662.5 233.7C661.0 233.2 654.0 230.2 654.1 229.3Z" fill="#E5533A"/>
<path d="M660.3 228.2C662.1 228.0 669.0 226.6 671.2 227.1C673.4 227.7 674.5 230.8 673.4 231.5C672.3 232.2 666.1 231.5 664.7 231.5" fill="none" stroke="#C93A2A" stroke-width="0.66" stroke-linecap="round"/>
<path d="M673.2 221.6C674.2 221.0 686.2 220.0 688.5 220.5C690.8 221.1 699.5 227.2 700.5 228.2C701.6 229.3 703.0 233.0 701.6 233.3C700.3 233.5 686.3 231.9 684.1 231.5C681.9 231.1 676.3 229.0 675.3 228.2C674.4 227.4 672.1 222.3 673.2 221.6Z" fill="#F2B632"/>
<path d="M680.8 223.8C682.3 223.9 687.9 223.7 689.6 224.5C691.2 225.3 691.8 228.3 690.7 228.9C689.6 229.5 684.3 228.3 683.0 228.2" fill="none" stroke="#E5533A" stroke-width="0.88" stroke-linecap="round"/>
<path d="M660.0 222.7C661.1 221.9 671.8 221.1 673.2 221.6C674.5 222.2 674.9 228.1 675.8 228.9C676.7 229.7 684.3 231.1 684.1 231.5C683.9 231.9 675.2 233.7 673.2 233.7C671.1 233.7 661.1 232.4 660.0 231.5C658.9 230.6 658.9 223.6 660.0 222.7Z" fill="#E5533A"/>
<path d="M663.3 198.6C664.0 196.6 665.7 193.5 668.8 193.2C671.9 192.8 677.5 194.8 681.9 196.4C686.3 198.1 691.6 201.6 695.1 203.0C698.5 204.5 701.8 203.9 702.7 205.2C703.7 206.5 703.3 210.0 700.5 210.7C697.8 211.4 690.5 209.0 686.3 209.6C682.1 210.1 678.1 213.2 675.3 214.0C672.6 214.8 670.6 215.1 669.9 214.4C669.1 213.7 671.9 211.1 671.0 209.6C670.0 208.1 665.7 207.0 664.4 205.2C663.1 203.4 662.6 200.6 663.3 198.6Z" fill="#F4BE90"/>
<path d="M668.8 194.2C670.6 193.3 676.4 191.7 681.9 192.1C687.4 192.4 698.0 194.1 701.6 196.4C705.3 198.8 704.6 203.7 703.8 206.3C703.1 208.9 700.2 211.2 697.3 211.8C694.3 212.3 686.7 211.1 686.3 209.6C685.9 208.1 695.8 205.0 695.1 203.0C694.3 201.0 685.9 198.4 681.9 197.5C677.9 196.6 673.2 198.1 671.0 197.5C668.8 197.0 666.9 195.2 668.8 194.2Z" fill="#D8412F"/>
<path d="M670.5 209.6C672.3 208.2 680.4 206.5 684.1 206.3C687.8 206.1 692.9 207.4 692.9 208.5C692.9 209.6 687.4 211.9 684.1 212.9C680.8 213.9 675.4 215.0 673.2 214.4C670.9 213.9 668.7 210.9 670.5 209.6Z" fill="#E59A68"/>
<path d="M673.2 203.0C675.3 203.7 682.3 206.3 686.3 207.4C690.3 208.5 695.4 209.2 697.3 209.6" fill="none" stroke="#B82E22" stroke-width="0.66" opacity="0.7" stroke-linecap="round"/>
<path d="M683.0 182.2C684.3 180.0 686.8 177.8 689.6 176.7C692.3 175.6 697.1 174.8 699.5 175.6C701.8 176.4 703.3 179.2 703.8 181.5C704.4 183.9 703.3 187.2 702.7 189.9C702.2 192.5 703.7 196.4 700.5 197.5C697.4 198.6 687.2 197.7 684.1 196.4C681.0 195.2 682.1 192.2 681.9 189.9C681.7 187.5 681.7 184.4 683.0 182.2Z" fill="#E04A36"/>
<path d="M696.2 176.7C697.1 176.0 702.1 178.4 703.4 180.0C704.7 181.6 704.8 185.8 703.8 186.6C702.9 187.3 699.0 186.0 697.7 184.4C696.4 182.7 695.2 177.4 696.2 176.7Z" fill="#EE5A42"/>
<path d="M692.9 184.4C694.3 185.8 697.6 188.8 696.2 188.8C694.7 188.8 687.6 186.6 684.1 184.4C680.6 182.2 677.4 178.0 675.3 175.6C673.3 173.2 671.9 171.4 672.1 170.1C672.2 168.9 675.0 167.4 676.4 167.9C677.9 168.5 679.0 171.4 680.8 173.4C682.6 175.4 685.4 178.2 687.4 180.0C689.4 181.8 691.4 182.9 692.9 184.4Z" fill="#F4BE90"/>
<path d="M672.1 172.3C671.1 170.9 669.6 168.0 669.9 166.8C670.1 165.7 672.1 165.1 673.6 165.3C675.1 165.5 677.6 166.8 678.6 167.9C679.7 169.1 680.3 171.1 679.7 172.3C679.2 173.6 676.6 175.6 675.3 175.6C674.1 175.6 673.0 173.8 672.1 172.3Z" fill="#F4BE90"/>
<path d="M679.7 192.1C681.0 192.1 684.3 188.8 684.1 186.6C683.9 184.4 680.1 180.7 678.6 178.9C677.2 177.1 676.3 175.8 675.3 175.6C674.4 175.4 673.0 176.0 673.2 177.8C673.3 179.6 675.3 184.2 676.4 186.6C677.5 188.9 678.4 192.1 679.7 192.1Z" fill="#E59A68"/>
<ellipse cx="674.5" cy="164.0" rx="1.3" ry="1.3" fill="#E23A2A"/>
<ellipse cx="674.5" cy="162.0" rx="0.9" ry="0.9" fill="#F6C23A"/>
<path d="M671.0 160.5L668.8 159.2" fill="none" stroke="#5CC3E0" stroke-width="0.55" stroke-linecap="round"/>
<path d="M672.5 159.0L671.2 156.8" fill="none" stroke="#5CC3E0" stroke-width="0.55" stroke-linecap="round"/>
<path d="M674.5 158.5L674.5 155.9" fill="none" stroke="#5CC3E0" stroke-width="0.55" stroke-linecap="round"/>
<path d="M676.4 159.0L677.8 156.8" fill="none" stroke="#5CC3E0" stroke-width="0.55" stroke-linecap="round"/>
<path d="M677.9 160.5L680.2 159.2" fill="none" stroke="#5CC3E0" stroke-width="0.55" stroke-linecap="round"/>
<path d="M683.0 163.6C683.0 160.7 682.9 156.1 684.5 153.7C686.2 151.3 689.8 149.5 692.9 149.3C695.9 149.1 700.4 150.6 702.7 152.6C705.1 154.6 706.8 158.4 707.1 161.4C707.5 164.3 706.4 167.9 704.9 170.1C703.5 172.4 700.9 174.2 698.4 175.0C695.8 175.7 691.9 175.3 689.6 174.5C687.3 173.8 685.6 172.4 684.5 170.6C683.5 168.7 683.0 166.4 683.0 163.6Z" fill="#F4BE90"/>
<ellipse cx="707.1" cy="165.8" rx="2.4" ry="3.1" fill="#F4BE90"/>
<ellipse cx="686.7" cy="165.8" rx="3.1" ry="2.6" fill="#EE8A6A" opacity="0.7"/>
<ellipse cx="692.9" cy="160.9" rx="2.6" ry="2.8" fill="#FFFFFF"/>
<ellipse cx="692.2" cy="161.4" rx="1.5" ry="1.8" fill="#2A1A12"/>
<ellipse cx="685.9" cy="160.5" rx="1.8" ry="2.2" fill="#FFFFFF"/>
<ellipse cx="685.4" cy="160.9" rx="1.1" ry="1.3" fill="#2A1A12"/>
<path d="M686.7 167.5C687.8 166.5 693.6 165.9 694.6 166.8C695.7 167.8 693.9 172.4 692.9 173.4C691.9 174.4 689.5 173.8 688.5 172.8C687.5 171.8 685.7 168.5 686.7 167.5Z" fill="#B8241E"/>
<path d="M687.2 167.5C688.3 167.2 693.1 166.9 694.2 167.1C695.3 167.3 694.8 168.3 693.8 168.6C692.7 168.9 688.7 169.2 687.6 169.0C686.5 168.9 686.1 167.8 687.2 167.5Z" fill="#FFFFFF"/>
<path d="M689.6 155.9C690.5 155.7 693.7 154.7 695.1 154.8C696.4 154.9 697.3 156.3 697.7 156.5" fill="none" stroke="#7A3E1E" stroke-width="0.88" stroke-linecap="round"/>
<path d="M683.0 154.8C682.6 153.2 682.4 148.4 683.7 146.0C684.9 143.7 687.7 141.6 690.7 140.5C693.7 139.5 698.2 139.2 701.6 139.9C705.1 140.6 709.1 142.6 711.5 144.9C713.9 147.2 715.3 150.8 715.9 153.7C716.4 156.6 715.6 160.5 714.8 162.5C714.0 164.5 711.9 166.3 710.8 165.8C709.8 165.2 709.8 161.2 708.7 159.2C707.5 157.2 705.7 155.1 703.8 153.7C701.9 152.3 699.5 151.1 697.3 150.8C695.1 150.6 692.6 151.3 690.7 152.2C688.8 153.0 687.1 155.5 685.9 155.9C684.6 156.3 683.4 156.4 683.0 154.8Z" fill="#8C4A26"/>
<path d="M688.5 143.8C689.2 142.9 694.3 141.5 697.3 141.6C700.2 141.8 705.7 144.2 706.0 144.9C706.4 145.7 701.6 145.7 699.5 146.0C697.3 146.4 694.7 147.5 692.9 147.1C691.1 146.8 687.8 144.7 688.5 143.8Z" fill="#B06A3A" opacity="0.8"/>
<path d="M690.7 140.5L689.6 137.3" fill="none" stroke="#8C4A26" stroke-width="0.66" stroke-linecap="round"/>
<path d="M698.4 139.9L699.5 136.2" fill="none" stroke="#8C4A26" stroke-width="0.66" stroke-linecap="round"/>
<path d="M710.8 144.9L714.4 142.7" fill="none" stroke="#8C4A26" stroke-width="0.66" stroke-linecap="round"/>
<path d="M705.6 196.4C706.0 194.2 706.1 190.4 707.1 188.8C708.1 187.1 710.2 186.4 711.5 186.6C712.8 186.8 714.3 187.9 714.8 189.9C715.3 191.9 714.7 196.1 714.4 198.6C714.0 201.2 713.8 203.9 712.6 205.2C711.4 206.5 708.4 206.8 707.1 206.3C705.8 205.8 705.2 203.6 704.9 201.9C704.7 200.3 705.2 198.6 705.6 196.4Z" fill="#2BA3C9"/>
<ellipse cx="710.8" cy="190.3" rx="1.5" ry="1.5" fill="#F6D04A"/>
<path d="M704.9 199.7C705.4 198.5 708.4 197.0 709.3 197.5C710.2 198.1 710.9 201.8 710.4 203.0C709.9 204.2 707.4 205.3 706.5 204.8C705.6 204.2 704.5 200.9 704.9 199.7Z" fill="#1E86B0"/>
<ellipse cx="711.7" cy="187.2" rx="1.3" ry="1.1" fill="#E8553A"/>
<ellipse cx="710.0" cy="206.7" rx="3.9" ry="1.1" fill="#1E7FA0"/>
<path d="M712.2 204.8C713.3 203.5 715.8 201.5 719.2 201.9C722.5 202.4 727.9 205.8 732.3 207.4C736.7 209.0 741.1 211.4 745.5 211.8C749.9 212.1 756.3 209.2 758.6 209.6C761.0 210.0 761.6 212.7 759.7 214.0C757.9 215.3 750.4 216.2 747.7 217.3C744.9 218.3 745.5 220.3 743.3 220.1C741.1 219.9 738.2 217.5 734.5 216.2C730.9 214.8 725.0 213.3 721.4 212.2C717.7 211.1 714.1 210.8 712.6 209.6C711.1 208.3 711.1 206.0 712.2 204.8Z" fill="#5E2A14"/>
<path d="M732.3 209.6C732.5 208.7 741.1 211.4 745.5 210.7C749.9 210.0 755.7 205.4 758.6 205.2C761.6 205.0 763.4 208.1 763.0 209.6C762.6 211.1 759.5 212.9 756.4 214.0C753.3 215.1 748.4 216.9 744.4 216.2C740.4 215.4 732.1 210.5 732.3 209.6Z" fill="#7E3F22"/>
<path d="M717.4 197.5C718.0 196.1 719.6 194.4 722.5 194.2C725.3 194.1 730.3 195.0 734.5 196.4C738.7 197.9 745.7 200.8 747.7 203.0C749.7 205.2 748.8 208.2 746.6 209.6C744.4 211.0 738.0 212.1 734.5 211.3C731.1 210.6 728.4 206.6 725.8 205.2C723.1 203.8 720.1 204.3 718.7 203.0C717.4 201.7 716.8 199.0 717.4 197.5Z" fill="#F0B52E"/>
<path d="M730.1 199.7L741.5 202.6L740.7 208.5L729.7 205.6Z" fill="#F8D25A"/>
<path d="M732.3 201.9C733.4 202.2 737.9 202.6 738.9 203.5C739.9 204.3 739.6 206.7 738.5 207.0C737.4 207.3 733.4 205.5 732.3 205.2" fill="none" stroke="#C98A1E" stroke-width="0.66" stroke-linecap="round"/>
<path d="M737.8 175.6C738.4 173.1 741.3 171.1 744.4 170.6C747.5 170.0 753.3 170.6 756.4 172.3C759.5 174.1 761.6 177.4 763.0 181.1C764.4 184.7 764.8 189.9 764.8 194.2C764.8 198.6 764.4 204.4 763.0 207.4C761.6 210.4 759.0 211.9 756.4 212.2C753.9 212.6 749.9 211.1 747.7 209.6C745.5 208.1 743.7 205.6 743.3 203.0C742.9 200.5 745.8 197.2 745.5 194.2C745.1 191.3 742.4 188.6 741.1 185.5C739.8 182.4 737.3 178.1 737.8 175.6Z" fill="#2FA3A8"/>
<ellipse cx="755.8" cy="206.8" rx="0.7" ry="0.7" fill="#E8553A"/>
<ellipse cx="749.5" cy="199.5" rx="0.7" ry="0.7" fill="#F6C23A"/>
<ellipse cx="750.2" cy="186.4" rx="0.7" ry="0.7" fill="#F6C23A"/>
<ellipse cx="759.3" cy="196.9" rx="0.7" ry="0.7" fill="#FFFFFF"/>
<ellipse cx="757.2" cy="209.5" rx="0.7" ry="0.7" fill="#F6C23A"/>
<ellipse cx="757.8" cy="178.4" rx="0.7" ry="0.7" fill="#FFFFFF"/>
<ellipse cx="754.3" cy="189.4" rx="0.7" ry="0.7" fill="#F6C23A"/>
<ellipse cx="758.2" cy="187.3" rx="0.7" ry="0.7" fill="#E8553A"/>
<ellipse cx="752.9" cy="189.9" rx="0.7" ry="0.7" fill="#F6C23A"/>
<ellipse cx="762.6" cy="197.3" rx="0.7" ry="0.7" fill="#E8553A"/>
<ellipse cx="750.6" cy="182.7" rx="0.7" ry="0.7" fill="#FFFFFF"/>
<ellipse cx="754.9" cy="180.1" rx="0.7" ry="0.7" fill="#E8553A"/>
<ellipse cx="746.4" cy="190.4" rx="0.7" ry="0.7" fill="#F6C23A"/>
<ellipse cx="745.5" cy="189.9" rx="0.7" ry="0.7" fill="#F6C23A"/>
<ellipse cx="752.8" cy="209.6" rx="0.7" ry="0.7" fill="#F6C23A"/>
<ellipse cx="762.6" cy="191.0" rx="0.7" ry="0.7" fill="#E8553A"/>
<path d="M737.8 175.6C738.6 173.9 742.3 171.1 744.4 171.2C746.5 171.4 750.1 174.5 750.3 176.7C750.5 178.9 747.3 183.6 745.5 184.4C743.7 185.2 740.6 183.0 739.3 181.5C738.1 180.1 737.0 177.3 737.8 175.6Z" fill="#3DB5BA"/>
<path d="M741.5 181.5C743.5 183.6 745.5 183.8 747.2 185.9C749.0 188.0 752.0 192.5 752.1 194.2C752.1 196.0 749.9 197.2 747.7 196.4C745.5 195.7 741.8 193.2 738.9 189.9C736.0 186.6 732.1 180.1 730.1 176.7C728.1 173.4 726.6 171.3 726.8 169.7C727.1 168.1 730.4 166.2 731.9 166.8C733.4 167.5 734.0 171.0 735.6 173.4C737.2 175.9 739.6 179.5 741.5 181.5Z" fill="#7E3F22"/>
<path d="M725.8 170.6C724.6 169.5 723.6 167.1 723.6 165.8C723.6 164.4 724.6 162.8 725.8 162.5C726.9 162.1 729.3 162.6 730.6 163.6C731.9 164.5 733.4 166.9 733.4 168.4C733.4 169.8 731.9 172.0 730.6 172.3C729.3 172.7 726.9 171.7 725.8 170.6Z" fill="#7E3F22"/>
<path d="M723.6 154.8C723.0 153.4 722.1 150.6 722.5 149.3C722.8 148.0 724.7 147.0 725.8 147.1C726.8 147.2 728.6 148.5 729.0 150.0C729.5 151.4 728.9 154.6 728.4 155.9C727.8 157.1 726.6 157.6 725.8 157.4C724.9 157.2 724.1 156.1 723.6 154.8Z" fill="#7E3F22"/>
<path d="M725.1 142.7C725.6 144.7 727.2 151.0 728.4 154.8C729.6 158.6 731.7 163.9 732.3 165.8" fill="none" stroke="#F07A2A" stroke-width="1.53" stroke-linecap="round"/>
<ellipse cx="724.4" cy="139.9" rx="2.2" ry="2.6" fill="none" stroke="#F07A2A" stroke-width="1.4"/>
<path d="M738.9 154.8C739.4 152.1 740.0 147.1 742.2 144.9C744.4 142.7 748.6 141.6 752.1 141.6C755.5 141.6 760.1 142.7 763.0 144.9C765.9 147.1 768.7 151.5 769.6 154.8C770.5 158.1 770.0 162.2 768.5 164.7C767.0 167.1 763.7 168.9 760.8 169.7C757.9 170.5 754.0 170.4 751.0 169.7C748.0 169.0 744.8 167.2 742.8 165.8C740.9 164.3 740.0 162.8 739.3 160.9C738.7 159.1 738.4 157.5 738.9 154.8Z" fill="#96502C"/>
<ellipse cx="767.8" cy="165.3" rx="2.6" ry="3.3" fill="#96502C"/>
<ellipse cx="750.3" cy="153.7" rx="3.1" ry="3.3" fill="#FFFFFF"/>
<ellipse cx="749.4" cy="154.4" rx="1.8" ry="2.0" fill="#1A0E0A"/>
<path d="M742.8 161.8C743.9 161.2 750.0 161.5 751.0 162.5C751.9 163.4 749.9 166.9 748.8 167.5C747.7 168.1 745.4 167.1 744.4 166.2C743.4 165.2 741.8 162.4 742.8 161.8Z" fill="#C22A22"/>
<path d="M743.3 162.0C744.4 161.8 749.4 162.2 750.5 162.5C751.7 162.8 751.2 163.6 750.1 163.8C748.9 164.0 744.9 163.9 743.7 163.6C742.6 163.3 742.2 162.2 743.3 162.0Z" fill="#FFFFFF"/>
<path d="M745.9 148.7C746.9 148.4 750.2 147.1 751.6 147.1C753.1 147.1 754.2 148.4 754.7 148.7" fill="none" stroke="#3E1C10" stroke-width="0.88" stroke-linecap="round"/>
<path d="M741.5 146.0C741.0 144.8 741.9 138.7 743.3 136.2C744.7 133.6 746.9 131.8 749.9 130.7C752.8 129.6 756.8 129.2 760.8 129.6C764.8 130.0 770.3 130.7 774.0 132.9C777.6 135.1 780.8 139.1 782.7 142.7C784.6 146.4 785.6 151.3 785.4 154.8C785.2 158.3 783.4 161.6 781.6 163.6C779.9 165.6 776.8 166.5 775.1 166.8C773.4 167.2 772.3 167.8 771.3 165.8C770.4 163.7 771.0 158.3 769.6 154.8C768.2 151.3 765.6 147.2 763.0 144.9C760.5 142.7 757.0 141.5 754.2 141.2C751.5 140.9 748.7 142.6 746.6 143.4C744.5 144.2 742.1 147.2 741.5 146.0Z" fill="#4A2414"/>
<path d="M747.7 130.7C747.5 130.0 746.2 127.0 746.6 126.3C746.9 125.6 749.3 126.7 749.9 126.7" fill="none" stroke="#4A2414" stroke-width="0.77" stroke-linecap="round"/>
<path d="M760.8 129.6L761.9 132.9" fill="none" stroke="#4A2414" stroke-width="0.77" stroke-linecap="round"/>
<path d="M778.4 137.3L781.6 135.1" fill="none" stroke="#4A2414" stroke-width="0.77" stroke-linecap="round"/>
<path d="M784.9 152.6L788.2 152.2" fill="none" stroke="#4A2414" stroke-width="0.77" stroke-linecap="round"/>
<path d="M743.3 136.2L740.0 135.1" fill="none" stroke="#4A2414" stroke-width="0.77" stroke-linecap="round"/>
<ellipse cx="770.2" cy="142.7" rx="2.6" ry="2.6" fill="none" stroke="#6E3A20" stroke-width="0.5"/>
<ellipse cx="758.0" cy="146.9" rx="2.6" ry="2.6" fill="none" stroke="#6E3A20" stroke-width="0.5"/>
<ellipse cx="776.5" cy="137.1" rx="2.6" ry="2.6" fill="none" stroke="#6E3A20" stroke-width="0.5"/>
<ellipse cx="774.2" cy="148.5" rx="2.6" ry="2.6" fill="none" stroke="#6E3A20" stroke-width="0.5"/>
<ellipse cx="755.2" cy="159.6" rx="2.6" ry="2.6" fill="none" stroke="#6E3A20" stroke-width="0.5"/>
<ellipse cx="775.5" cy="138.9" rx="2.6" ry="2.6" fill="none" stroke="#6E3A20" stroke-width="0.5"/>
<ellipse cx="764.4" cy="148.1" rx="2.6" ry="2.6" fill="none" stroke="#6E3A20" stroke-width="0.5"/>
<ellipse cx="766.1" cy="147.7" rx="2.6" ry="2.6" fill="none" stroke="#6E3A20" stroke-width="0.5"/>
<ellipse cx="751.7" cy="155.8" rx="2.6" ry="2.6" fill="none" stroke="#6E3A20" stroke-width="0.5"/>
<ellipse cx="760.4" cy="150.1" rx="2.6" ry="2.6" fill="none" stroke="#6E3A20" stroke-width="0.5"/>
<path d="M697.3 215.7L727.9 226.7" fill="none" stroke="#E0452E" stroke-width="2.41" stroke-linecap="round"/>
<path d="M696.2 215.3L699.5 216.4" fill="none" stroke="#F3EDE6" stroke-width="1.97" stroke-linecap="round"/>
<path d="M725.8 225.8L729.3 227.1" fill="none" stroke="#C23020" stroke-width="1.53" stroke-linecap="round"/>
<path d="M733.4 231.9L759.7 225.4" fill="none" stroke="#2A2220" stroke-width="1.75" stroke-linecap="round"/>
<path d="M733.4 231.9L740.0 230.2" fill="none" stroke="#E8553A" stroke-width="1.75" stroke-linecap="round"/>
<path d="M754.2 226.7L760.4 225.2" fill="none" stroke="#F07A2A" stroke-width="1.75" stroke-linecap="round"/>
<path d="M731.5 232.4L733.6 231.9" fill="none" stroke="#F3EDE6" stroke-width="1.32" stroke-linecap="round"/>
<path d="M765.2 230.6L770.7 232.4" fill="none" stroke="#F6C23A" stroke-width="0.88" stroke-linecap="round"/>
<path d="M698.4 222.3L703.8 223.8" fill="none" stroke="#E8553A" stroke-width="0.88" stroke-linecap="round"/>
<path d="M671.0 218.8L677.5 220.1" fill="none" stroke="#3FB6C6" stroke-width="1.10" stroke-linecap="round"/></g>
<g id="ill3"><ellipse cx="1110.2" cy="236.5" rx="82.6" ry="5.5" fill="#E8D2BC" opacity="0.6"/>
<path d="M1126.8 90.9L1127.3 93.7L1129.9 94.8L1127.5 96.2L1127.2 99.0L1125.1 97.1L1122.4 97.7L1123.5 95.1L1122.1 92.7L1124.9 93.0Z" fill="#F6D04A" stroke="#F6D04A" stroke-width="0.8" stroke-linejoin="round"/>
<path d="M1119.4 101.8L1120.0 103.0L1121.3 103.2L1120.4 104.1L1120.6 105.4L1119.4 104.8L1118.2 105.4L1118.5 104.1L1117.5 103.2L1118.8 103.0Z" fill="#F2B92E" stroke="#F2B92E" stroke-width="0.8" stroke-linejoin="round"/>
<path d="M1035.0 231.5C1036.7 229.7 1044.6 228.3 1050.1 227.7C1055.5 227.2 1064.6 227.4 1067.6 228.2C1070.6 229.0 1070.6 231.6 1068.1 232.7C1065.6 233.9 1057.2 234.3 1052.6 235.2C1047.9 236.1 1043.0 238.9 1040.0 238.2C1037.1 237.6 1033.4 233.2 1035.0 231.5Z" fill="#F2B488"/>
<path d="M1025.0 227.7C1026.9 225.7 1032.7 223.6 1037.5 223.2C1042.3 222.8 1050.1 224.3 1053.8 225.2C1057.6 226.2 1061.1 227.7 1060.1 229.0C1059.0 230.2 1051.7 231.5 1047.6 232.7C1043.4 234.0 1038.6 236.1 1035.0 236.5C1031.5 236.9 1027.9 236.7 1026.3 235.2C1024.6 233.8 1023.1 229.7 1025.0 227.7Z" fill="#E0452E"/>
<ellipse cx="1045.1" cy="235.2" rx="4.0" ry="2.5" fill="#FFFFFF" transform="rotate(-20.0 1045.1 235.2)"/>
<ellipse cx="1036.3" cy="238.2" rx="5.0" ry="2.0" fill="#2FA3A8" transform="rotate(-10.0 1036.3 238.2)"/>
<path d="M1025.0 225.2C1023.6 222.1 1026.7 213.6 1028.8 210.2C1030.9 206.8 1034.0 205.3 1037.5 204.7C1041.1 204.1 1047.2 204.7 1050.1 206.4C1052.9 208.2 1054.4 211.9 1054.6 215.2C1054.8 218.5 1054.1 224.2 1051.3 226.5C1048.5 228.8 1041.9 229.2 1037.5 229.0C1033.2 228.8 1026.5 228.3 1025.0 225.2Z" fill="#9AD6D2"/>
<path d="M1037.5 205.2C1038.0 203.9 1047.2 204.8 1050.1 206.4C1052.9 208.1 1055.0 213.9 1054.6 215.2C1054.1 216.4 1050.4 215.6 1047.6 213.9C1044.7 212.3 1037.1 206.4 1037.5 205.2Z" fill="#B8E4E0"/>
<path d="M1047.6 207.7C1048.0 206.3 1051.1 205.6 1053.8 204.7C1056.5 203.8 1061.9 202.0 1063.8 202.2C1065.8 202.3 1066.2 204.3 1065.6 205.7C1065.0 207.0 1062.5 208.9 1060.1 210.2C1057.7 211.4 1053.4 213.6 1051.3 213.2C1049.2 212.8 1047.1 209.1 1047.6 207.7Z" fill="#F2B488"/>
<path d="M1058.8 206.4L1065.1 200.2" fill="none" stroke="#E8553A" stroke-width="1.00" stroke-linecap="round"/>
<path d="M1060.1 207.7L1063.1 213.2" fill="none" stroke="#E8553A" stroke-width="1.00" stroke-linecap="round"/>
<path d="M1060.1 217.7L1065.6 217.2L1066.1 222.7L1060.6 223.2Z" fill="#D8342E"/>
<path d="M1030.5 192.7C1030.1 189.1 1030.5 184.0 1032.5 181.4C1034.5 178.8 1039.4 177.1 1042.5 177.1C1045.7 177.1 1049.3 179.0 1051.3 181.4C1053.3 183.8 1054.6 188.1 1054.6 191.4C1054.6 194.7 1053.3 199.1 1051.3 201.4C1049.3 203.7 1045.3 205.0 1042.5 205.2C1039.8 205.4 1037.0 204.8 1035.0 202.7C1033.0 200.6 1030.9 196.2 1030.5 192.7Z" fill="#F2B488"/>
<ellipse cx="1034.0" cy="195.7" rx="2.8" ry="3.5" fill="#F2B488"/>
<ellipse cx="1047.6" cy="196.4" rx="3.0" ry="2.5" fill="#EE8A6A" opacity="0.6"/>
<ellipse cx="1047.1" cy="187.7" rx="2.0" ry="2.5" fill="#FFFFFF"/>
<ellipse cx="1047.6" cy="188.2" rx="1.3" ry="1.8" fill="#2A1A12"/>
<path d="M1047.6 197.7C1048.2 197.8 1050.4 198.4 1051.3 198.2C1052.2 198.0 1052.8 196.7 1053.1 196.4" fill="none" stroke="#7A2E1E" stroke-width="0.75" stroke-linecap="round"/>
<path d="M1043.8 183.1L1048.8 182.1" fill="none" stroke="#6A3E22" stroke-width="1.00" stroke-linecap="round"/>
<path d="M1021.3 190.2C1020.4 187.2 1019.5 182.0 1020.5 178.9C1021.6 175.8 1024.3 172.9 1027.5 171.4C1030.8 169.8 1036.7 170.6 1040.0 169.6C1043.4 168.7 1045.9 165.3 1047.6 165.6C1049.2 165.9 1050.1 169.2 1050.1 171.4C1050.1 173.6 1049.0 177.8 1047.6 178.9C1046.1 180.0 1043.4 177.3 1041.3 178.1C1039.2 179.0 1036.7 181.5 1035.0 183.9C1033.4 186.3 1032.9 190.6 1031.3 192.7C1029.7 194.7 1027.2 196.8 1025.5 196.4C1023.9 196.0 1022.1 193.1 1021.3 190.2Z" fill="#8A5A38"/>
<path d="M1027.5 173.9C1028.4 173.0 1036.7 172.4 1040.0 171.4C1043.4 170.3 1046.7 167.2 1047.6 167.6C1048.4 168.0 1047.1 172.4 1045.1 173.9C1043.0 175.3 1038.0 176.4 1035.0 176.4C1032.1 176.4 1026.7 174.7 1027.5 173.9Z" fill="#A87850" opacity="0.8"/>
<path d="M1072.6 227.7C1074.6 225.8 1079.7 222.7 1085.1 221.5C1090.5 220.2 1099.3 219.8 1105.1 220.2C1111.0 220.6 1117.7 222.1 1120.2 224.0C1122.6 225.8 1122.2 229.6 1119.7 231.5C1117.2 233.3 1111.3 234.6 1105.1 235.2C1099.0 235.9 1088.0 235.6 1082.6 235.2C1077.3 234.9 1074.8 234.5 1073.1 233.2C1071.4 232.0 1070.6 229.7 1072.6 227.7Z" fill="#8A5022"/>
<path d="M1092.6 225.2C1095.1 223.7 1105.6 222.0 1110.2 222.2C1114.7 222.4 1119.7 224.7 1119.7 226.5C1119.7 228.2 1114.2 231.9 1110.2 232.7C1106.1 233.6 1098.0 232.7 1095.1 231.5C1092.2 230.2 1090.1 226.8 1092.6 225.2Z" fill="#A0622A"/>
<path d="M1097.6 205.2C1097.9 202.3 1101.3 201.0 1103.1 202.7C1105.0 204.3 1107.1 211.9 1108.9 215.2C1110.7 218.5 1113.9 220.8 1113.9 222.7C1113.9 224.6 1111.0 226.9 1108.9 226.5C1106.8 226.0 1103.3 223.7 1101.4 220.2C1099.5 216.7 1097.3 208.1 1097.6 205.2Z" fill="#6E3519"/>
<path d="M1072.6 225.2C1071.1 220.8 1072.4 210.2 1073.8 205.2C1075.3 200.2 1077.8 197.0 1081.4 195.2C1084.9 193.3 1091.5 192.9 1095.1 193.9C1098.8 195.0 1102.1 197.9 1103.1 201.4C1104.2 205.0 1102.3 210.4 1101.4 215.2C1100.5 220.0 1100.8 227.5 1097.6 230.2C1094.5 232.9 1086.8 232.3 1082.6 231.5C1078.4 230.6 1074.1 229.6 1072.6 225.2Z" fill="#F2B02E"/>
<path d="M1073.8 202.7L1100.1 200.7" fill="none" stroke="#FBE6A8" stroke-width="0.63" opacity="0.9" stroke-linecap="round"/>
<path d="M1073.8 210.2L1100.1 208.2" fill="none" stroke="#FBE6A8" stroke-width="0.63" opacity="0.9" stroke-linecap="round"/>
<path d="M1073.8 217.7L1100.1 215.7" fill="none" stroke="#FBE6A8" stroke-width="0.63" opacity="0.9" stroke-linecap="round"/>
<path d="M1073.8 225.2L1100.1 223.2" fill="none" stroke="#FBE6A8" stroke-width="0.63" opacity="0.9" stroke-linecap="round"/>
<path d="M1080.1 196.4L1078.9 230.2" fill="none" stroke="#FBE6A8" stroke-width="0.63" opacity="0.9" stroke-linecap="round"/>
<path d="M1087.6 196.4L1086.4 230.2" fill="none" stroke="#FBE6A8" stroke-width="0.63" opacity="0.9" stroke-linecap="round"/>
<path d="M1095.1 196.4L1093.9 230.2" fill="none" stroke="#FBE6A8" stroke-width="0.63" opacity="0.9" stroke-linecap="round"/>
<path d="M1085.1 190.2C1085.9 188.5 1090.7 185.6 1092.6 186.4C1094.5 187.2 1097.1 193.5 1096.4 195.2C1095.6 196.8 1090.0 197.3 1088.1 196.4C1086.2 195.6 1084.4 191.8 1085.1 190.2Z" fill="#7A3C20"/>
<path d="M1083.1 167.6C1084.4 163.0 1089.7 160.5 1092.6 160.1C1095.5 159.7 1098.9 162.4 1100.6 165.1C1102.4 167.8 1103.2 173.0 1103.1 176.4C1103.1 179.7 1101.9 182.9 1100.1 185.2C1098.4 187.4 1095.1 189.7 1092.6 190.2C1090.1 190.6 1086.7 191.4 1085.1 187.7C1083.5 183.9 1081.9 172.2 1083.1 167.6Z" fill="#8A4526"/>
<ellipse cx="1098.1" cy="180.6" rx="3.0" ry="2.5" fill="#D8422E" opacity="0.85"/>
<ellipse cx="1096.4" cy="171.4" rx="2.3" ry="2.8" fill="#FFFFFF"/>
<ellipse cx="1095.6" cy="170.9" rx="1.5" ry="2.0" fill="#1A0E0A"/>
<path d="M1092.6 164.6L1098.1 165.6" fill="none" stroke="#3A1A10" stroke-width="1.00" stroke-linecap="round"/>
<path d="M1060.1 172.6C1059.7 168.7 1059.7 163.5 1061.3 160.1C1063.0 156.8 1066.5 154.4 1070.1 152.6C1073.6 150.8 1079.7 150.6 1082.6 149.6C1085.5 148.6 1086.2 145.9 1087.6 146.3C1089.1 146.8 1090.5 149.8 1091.4 152.1C1092.2 154.4 1093.5 157.5 1092.6 160.1C1091.8 162.7 1087.6 164.3 1086.4 167.6C1085.1 171.0 1085.7 176.4 1085.1 180.1C1084.5 183.9 1084.7 188.3 1082.6 190.2C1080.5 192.0 1075.7 192.5 1072.6 191.4C1069.5 190.4 1065.9 187.0 1063.8 183.9C1061.7 180.8 1060.5 176.6 1060.1 172.6Z" fill="#9A4A22"/>
<path d="M1070.7 159.6C1071.1 160.1 1073.1 161.6 1073.2 162.6C1073.3 163.7 1071.6 165.4 1071.2 165.9" fill="none" stroke="#E09A5A" stroke-width="0.50" opacity="0.8" stroke-linecap="round"/>
<path d="M1077.7 157.3C1078.1 157.8 1080.1 159.2 1080.2 160.3C1080.3 161.3 1078.5 163.0 1078.2 163.5" fill="none" stroke="#E09A5A" stroke-width="0.50" opacity="0.8" stroke-linecap="round"/>
<path d="M1075.2 166.1C1075.7 166.6 1077.7 168.1 1077.7 169.1C1077.8 170.1 1076.1 171.8 1075.7 172.4" fill="none" stroke="#E09A5A" stroke-width="0.50" opacity="0.8" stroke-linecap="round"/>
<path d="M1065.1 170.4C1065.5 170.9 1067.5 172.3 1067.6 173.4C1067.7 174.4 1065.9 176.1 1065.6 176.6" fill="none" stroke="#E09A5A" stroke-width="0.50" opacity="0.8" stroke-linecap="round"/>
<path d="M1064.6 168.1C1065.0 168.6 1067.0 170.1 1067.1 171.1C1067.2 172.2 1065.5 173.9 1065.1 174.4" fill="none" stroke="#E09A5A" stroke-width="0.50" opacity="0.8" stroke-linecap="round"/>
<path d="M1065.3 157.8C1065.7 158.3 1067.7 159.8 1067.8 160.8C1067.9 161.9 1066.2 163.5 1065.8 164.1" fill="none" stroke="#E09A5A" stroke-width="0.50" opacity="0.8" stroke-linecap="round"/>
<path d="M1072.9 179.9C1073.3 180.4 1075.3 181.9 1075.4 183.0C1075.5 184.0 1073.7 185.7 1073.4 186.2" fill="none" stroke="#E09A5A" stroke-width="0.50" opacity="0.8" stroke-linecap="round"/>
<path d="M1066.5 161.8C1066.9 162.3 1068.9 163.8 1069.0 164.8C1069.1 165.9 1067.3 167.5 1067.0 168.1" fill="none" stroke="#E09A5A" stroke-width="0.50" opacity="0.8" stroke-linecap="round"/>
<path d="M1077.2 183.6C1077.6 184.1 1079.6 185.5 1079.7 186.6C1079.8 187.6 1078.0 189.3 1077.7 189.8" fill="none" stroke="#E09A5A" stroke-width="0.50" opacity="0.8" stroke-linecap="round"/>
<ellipse cx="1085.1" cy="178.9" rx="2.5" ry="3.5" fill="#8A4526"/>
<path d="M1117.7 229.0L1150.2 225.2L1170.0 226.5L1185.3 230.2L1182.8 235.2L1150.2 234.7L1120.2 232.7Z" fill="#F7F2EA"/>
<path d="M1140.2 234.0L1182.8 230.2L1190.3 240.2L1150.2 245.0Z" fill="#FBF8F2"/>
<path d="M1127.7 229.0L1133.9 228.7" fill="none" stroke="#E8553A" stroke-width="1.00" stroke-linecap="round"/>
<path d="M1140.2 228.2L1146.5 228.0" fill="none" stroke="#3FB6C6" stroke-width="1.00" stroke-linecap="round"/>
<path d="M1150.2 229.0L1156.5 228.7" fill="none" stroke="#F6C23A" stroke-width="1.00" stroke-linecap="round"/>
<path d="M1155.2 236.5L1161.5 236.2" fill="none" stroke="#E8553A" stroke-width="1.00" stroke-linecap="round"/>
<path d="M1165.2 235.2L1171.5 235.0" fill="none" stroke="#E8553A" stroke-width="1.00" stroke-linecap="round"/>
<path d="M1172.7 237.7L1179.0 237.5" fill="none" stroke="#3FB6C6" stroke-width="1.00" stroke-linecap="round"/>
<path d="M1160.2 239.7L1166.5 239.5" fill="none" stroke="#555" stroke-width="1.00" stroke-linecap="round"/>
<path d="M1121.4 241.5L1133.9 236.5" fill="none" stroke="#E0452E" stroke-width="3.00" stroke-linecap="round"/>
<path d="M1117.7 215.2C1118.9 212.3 1123.1 207.5 1127.7 205.2C1132.3 202.9 1139.8 201.8 1145.2 201.4C1150.6 201.0 1155.6 202.1 1160.2 202.7C1164.8 203.2 1168.8 203.4 1172.7 204.7C1176.7 205.9 1181.6 207.4 1183.8 210.2C1185.9 213.0 1188.0 218.9 1185.8 221.5C1183.5 224.0 1177.8 225.0 1170.2 225.7C1162.6 226.4 1148.5 226.2 1140.2 225.7C1131.8 225.2 1123.9 224.5 1120.2 222.7C1116.4 221.0 1116.4 218.1 1117.7 215.2Z" fill="#1F8A92"/>
<path d="M1145.2 211.4C1146.0 208.6 1155.2 204.0 1160.2 203.2C1165.2 202.3 1171.5 204.4 1175.2 206.4C1179.0 208.4 1183.2 212.6 1182.8 215.2C1182.3 217.8 1177.3 221.4 1172.7 222.2C1168.2 223.0 1159.8 222.0 1155.2 220.2C1150.6 218.4 1144.4 214.3 1145.2 211.4Z" fill="#2AA0A6" opacity="0.8"/>
<path d="M1145.2 205.2C1147.7 206.8 1155.2 212.4 1160.2 215.2C1165.2 218.0 1172.7 221.0 1175.2 222.2" fill="none" stroke="#146A72" stroke-width="1.00" stroke-linecap="round"/>
<path d="M1130.2 202.7C1130.0 198.9 1132.3 192.7 1133.9 187.7C1135.6 182.6 1137.5 176.5 1140.2 172.6C1142.9 168.8 1146.0 166.1 1150.2 164.6C1154.4 163.2 1161.0 163.4 1165.2 163.9C1169.5 164.4 1172.9 164.9 1175.7 167.6C1178.6 170.3 1180.8 175.1 1182.3 180.1C1183.7 185.2 1184.2 192.5 1184.3 197.7C1184.3 202.9 1184.7 209.8 1182.8 211.4C1180.8 213.1 1176.5 209.4 1172.7 207.7C1169.0 206.0 1164.8 201.4 1160.2 201.4C1155.6 201.4 1149.4 206.2 1145.2 207.7C1141.0 209.1 1137.7 211.0 1135.2 210.2C1132.7 209.4 1130.4 206.4 1130.2 202.7Z" fill="#F2BE3A"/>
<path d="M1155.2 167.6C1156.1 163.5 1160.2 164.9 1162.7 165.1C1165.2 165.3 1169.2 164.7 1170.2 168.9C1171.3 173.0 1170.2 184.5 1169.0 190.2C1167.7 195.8 1164.6 202.7 1162.7 202.7C1160.9 202.7 1159.0 196.0 1157.7 190.2C1156.5 184.3 1154.4 171.8 1155.2 167.6Z" fill="#F08A7A"/>
<path d="M1150.2 170.1C1151.5 172.6 1156.1 180.1 1157.7 185.2C1159.4 190.2 1159.8 197.7 1160.2 200.2" fill="none" stroke="#D89A22" stroke-width="1.00" stroke-linecap="round"/>
<path d="M1174.0 168.9C1173.7 171.6 1172.9 180.4 1172.2 185.2C1171.6 189.9 1170.6 195.6 1170.2 197.7" fill="none" stroke="#D89A22" stroke-width="1.00" stroke-linecap="round"/>
<path d="M1172.7 172.6C1173.8 171.0 1178.5 177.6 1180.3 182.6C1182.0 187.7 1183.7 198.5 1183.3 202.7C1182.8 206.8 1179.3 209.4 1177.8 207.7C1176.2 206.0 1174.8 198.5 1174.0 192.7C1173.2 186.8 1171.7 174.3 1172.7 172.6Z" fill="#F6CE5A" opacity="0.8"/>
<path d="M1152.7 157.6C1155.0 155.9 1165.0 155.7 1167.7 157.6C1170.4 159.5 1170.0 166.6 1169.0 168.9C1167.9 171.2 1164.0 171.6 1161.5 171.4C1159.0 171.2 1155.4 169.9 1154.0 167.6C1152.5 165.3 1150.4 159.3 1152.7 157.6Z" fill="#B85A30"/>
<path d="M1108.9 190.2C1110.0 188.7 1113.7 186.4 1116.4 186.4C1119.1 186.4 1123.1 188.3 1125.2 190.2C1127.3 192.0 1129.1 195.6 1128.9 197.7C1128.7 199.8 1126.2 202.3 1123.9 202.7C1121.6 203.1 1117.5 201.4 1115.2 200.2C1112.8 198.9 1110.7 196.8 1109.6 195.2C1108.6 193.5 1107.8 191.6 1108.9 190.2Z" fill="#C8693A"/>
<path d="M1123.9 195.2C1124.8 193.5 1132.5 193.9 1135.2 195.2C1137.9 196.4 1141.0 201.0 1140.2 202.7C1139.4 204.3 1132.9 206.4 1130.2 205.2C1127.5 203.9 1123.1 196.8 1123.9 195.2Z" fill="#F2BE3A"/>
<path d="M1113.2 191.4L1122.7 179.6" fill="none" stroke="#3FB6C6" stroke-width="1.25" stroke-linecap="round"/>
<path d="M1122.7 179.6L1123.9 177.6" fill="none" stroke="#F6C23A" stroke-width="1.00" stroke-linecap="round"/>
<path d="M1145.2 185.2C1145.4 183.5 1146.7 173.6 1147.2 172.6C1147.7 171.6 1150.3 172.4 1150.7 173.1C1151.1 173.9 1151.3 181.5 1151.7 181.4C1152.1 181.2 1154.7 172.1 1155.2 171.4C1155.8 170.6 1158.0 171.7 1158.2 172.6C1158.4 173.6 1157.5 182.3 1157.7 182.6C1158.0 183.0 1161.0 176.8 1161.5 176.4C1162.0 176.0 1164.1 177.0 1164.0 178.1C1163.9 179.3 1160.7 188.6 1160.2 190.2C1159.7 191.7 1158.6 195.8 1157.7 196.4C1156.9 197.0 1151.3 198.0 1150.2 197.7C1149.2 197.4 1145.6 193.7 1145.2 192.7C1144.8 191.6 1145.0 186.8 1145.2 185.2Z" fill="#C8693A"/>
<path d="M1131.4 138.8C1131.0 133.8 1132.5 126.7 1135.2 122.6C1137.9 118.4 1142.7 115.3 1147.7 113.8C1152.7 112.3 1160.2 112.3 1165.2 113.8C1170.2 115.3 1175.2 118.6 1177.8 122.6C1180.3 126.5 1180.7 132.8 1180.3 137.6C1179.8 142.4 1178.2 147.6 1175.2 151.3C1172.3 155.1 1167.1 158.7 1162.7 160.1C1158.3 161.5 1153.1 160.9 1149.0 159.6C1144.8 158.4 1140.6 156.1 1137.7 152.6C1134.8 149.1 1131.8 143.8 1131.4 138.8Z" fill="#C8693A"/>
<ellipse cx="1178.3" cy="145.1" rx="3.5" ry="5.0" fill="#C8693A"/>
<ellipse cx="1137.7" cy="143.8" rx="4.5" ry="4.0" fill="#E8553A" opacity="0.55"/>
<ellipse cx="1170.2" cy="147.6" rx="4.0" ry="3.5" fill="#E8553A" opacity="0.45"/>
<ellipse cx="1140.2" cy="132.6" rx="4.3" ry="4.8" fill="#FFFFFF"/>
<ellipse cx="1139.2" cy="133.1" rx="2.5" ry="3.0" fill="#2A120A"/>
<ellipse cx="1157.2" cy="136.3" rx="4.8" ry="5.0" fill="#FFFFFF"/>
<ellipse cx="1155.7" cy="137.1" rx="2.8" ry="3.3" fill="#2A120A"/>
<path d="M1138.9 145.1C1140.4 144.6 1146.2 149.1 1150.2 149.6C1154.2 150.1 1161.5 147.0 1162.7 148.1C1164.0 149.2 1160.2 154.8 1157.7 156.4C1155.2 157.9 1150.4 158.2 1147.7 157.6C1145.0 157.0 1142.9 154.7 1141.4 152.6C1140.0 150.5 1137.5 145.6 1138.9 145.1Z" fill="#A82A22"/>
<path d="M1139.7 145.6C1141.2 145.8 1146.5 149.6 1150.2 150.1C1153.9 150.6 1160.1 148.3 1161.7 148.6C1163.4 148.8 1162.1 150.8 1160.2 151.6C1158.3 152.4 1153.4 153.5 1150.2 153.1C1147.0 152.7 1142.9 150.3 1141.2 149.1C1139.4 147.8 1138.2 145.4 1139.7 145.6Z" fill="#FFFFFF"/>
<path d="M1135.2 125.1C1136.2 124.6 1139.6 122.6 1141.4 122.6C1143.3 122.5 1145.6 124.2 1146.5 124.6" fill="none" stroke="#4A2414" stroke-width="1.25" stroke-linecap="round"/>
<path d="M1154.0 126.3C1155.2 126.2 1159.4 125.0 1161.5 125.6C1163.6 126.1 1165.7 128.9 1166.5 129.6" fill="none" stroke="#4A2414" stroke-width="1.25" stroke-linecap="round"/>
<path d="M1135.2 122.6C1132.5 126.7 1131.8 133.8 1131.4 138.8C1131.0 143.8 1131.6 148.2 1132.7 152.6C1133.7 157.0 1138.1 161.8 1137.7 165.1C1137.3 168.5 1133.1 172.2 1130.2 172.6C1127.3 173.0 1122.8 170.5 1120.2 167.6C1117.6 164.7 1115.4 160.1 1114.7 155.1C1113.9 150.1 1114.7 143.0 1115.7 137.6C1116.6 132.2 1117.7 127.1 1120.2 122.6C1122.6 118.0 1126.4 112.7 1130.2 110.0C1133.9 107.3 1140.0 107.5 1142.7 106.3C1145.4 105.0 1144.4 104.4 1146.5 102.5C1148.5 100.6 1151.7 96.8 1155.2 95.0C1158.8 93.3 1163.6 91.8 1167.7 92.0C1171.9 92.2 1176.5 93.5 1180.3 96.3C1184.0 99.1 1187.6 104.4 1190.3 108.8C1193.0 113.2 1194.8 117.3 1196.5 122.6C1198.3 127.8 1200.0 135.4 1200.8 140.1C1201.6 144.8 1202.0 147.3 1201.5 150.6C1201.0 153.9 1198.9 156.4 1197.8 160.1C1196.7 163.8 1196.9 169.8 1194.8 172.6C1192.7 175.5 1188.0 177.3 1185.3 177.1C1182.5 176.9 1179.9 174.2 1178.3 171.4C1176.6 168.5 1175.2 164.1 1175.2 160.1C1175.2 156.1 1177.3 151.8 1178.3 147.6C1179.2 143.4 1180.8 139.2 1180.8 135.1C1180.7 130.9 1180.3 126.1 1177.8 122.6C1175.2 119.0 1170.2 115.3 1165.2 113.8C1160.2 112.3 1152.7 112.3 1147.7 113.8C1142.7 115.3 1137.9 118.4 1135.2 122.6Z" fill="#6A3A22"/>
<clipPath id="c3h"><path d="M1135.2 122.6C1132.5 126.7 1131.8 133.8 1131.4 138.8C1131.0 143.8 1131.6 148.2 1132.7 152.6C1133.7 157.0 1138.1 161.8 1137.7 165.1C1137.3 168.5 1133.1 172.2 1130.2 172.6C1127.3 173.0 1122.8 170.5 1120.2 167.6C1117.6 164.7 1115.4 160.1 1114.7 155.1C1113.9 150.1 1114.7 143.0 1115.7 137.6C1116.6 132.2 1117.7 127.1 1120.2 122.6C1122.6 118.0 1126.4 112.7 1130.2 110.0C1133.9 107.3 1140.0 107.5 1142.7 106.3C1145.4 105.0 1144.4 104.4 1146.5 102.5C1148.5 100.6 1151.7 96.8 1155.2 95.0C1158.8 93.3 1163.6 91.8 1167.7 92.0C1171.9 92.2 1176.5 93.5 1180.3 96.3C1184.0 99.1 1187.6 104.4 1190.3 108.8C1193.0 113.2 1194.8 117.3 1196.5 122.6C1198.3 127.8 1200.0 135.4 1200.8 140.1C1201.6 144.8 1202.0 147.3 1201.5 150.6C1201.0 153.9 1198.9 156.4 1197.8 160.1C1196.7 163.8 1196.9 169.8 1194.8 172.6C1192.7 175.5 1188.0 177.3 1185.3 177.1C1182.5 176.9 1179.9 174.2 1178.3 171.4C1176.6 168.5 1175.2 164.1 1175.2 160.1C1175.2 156.1 1177.3 151.8 1178.3 147.6C1179.2 143.4 1180.8 139.2 1180.8 135.1C1180.7 130.9 1180.3 126.1 1177.8 122.6C1175.2 119.0 1170.2 115.3 1165.2 113.8C1160.2 112.3 1152.7 112.3 1147.7 113.8C1142.7 115.3 1137.9 118.4 1135.2 122.6Z"/></clipPath><g clip-path="url(#c3h)">
<path d="M1195.8 98.5C1196.4 98.9 1198.7 99.9 1198.9 101.0C1199.0 102.1 1196.5 103.9 1196.6 105.0C1196.7 106.2 1198.9 107.5 1199.4 108.0" fill="none" stroke="#A8703E" stroke-width="0.50" opacity="0.75" stroke-linecap="round"/>
<path d="M1186.3 116.8C1186.8 117.2 1189.1 118.2 1189.3 119.3C1189.4 120.4 1186.9 122.1 1187.0 123.3C1187.1 124.4 1189.3 125.8 1189.8 126.3" fill="none" stroke="#A8703E" stroke-width="0.50" opacity="0.75" stroke-linecap="round"/>
<path d="M1128.1 103.9C1128.6 104.3 1131.0 105.3 1131.2 106.4C1131.3 107.5 1128.8 109.2 1128.9 110.4C1129.0 111.5 1131.2 112.9 1131.7 113.4" fill="none" stroke="#A8703E" stroke-width="0.50" opacity="0.75" stroke-linecap="round"/>
<path d="M1131.1 138.7C1131.6 139.1 1134.0 140.1 1134.1 141.2C1134.2 142.3 1131.8 144.0 1131.9 145.2C1132.0 146.4 1134.2 147.7 1134.6 148.2" fill="none" stroke="#A8703E" stroke-width="0.50" opacity="0.75" stroke-linecap="round"/>
<path d="M1161.0 99.7C1161.5 100.1 1163.9 101.2 1164.0 102.2C1164.1 103.3 1161.6 105.1 1161.7 106.2C1161.8 107.4 1164.0 108.7 1164.5 109.2" fill="none" stroke="#A8703E" stroke-width="0.50" opacity="0.75" stroke-linecap="round"/>
<path d="M1121.3 110.5C1121.8 110.9 1124.1 111.9 1124.3 113.0C1124.4 114.1 1121.9 115.8 1122.0 117.0C1122.1 118.2 1124.3 119.5 1124.8 120.0" fill="none" stroke="#A8703E" stroke-width="0.50" opacity="0.75" stroke-linecap="round"/>
<path d="M1181.0 147.5C1181.6 147.9 1183.9 148.9 1184.1 150.0C1184.2 151.1 1181.7 152.9 1181.8 154.0C1181.9 155.2 1184.1 156.5 1184.6 157.0" fill="none" stroke="#A8703E" stroke-width="0.50" opacity="0.75" stroke-linecap="round"/>
<path d="M1159.1 160.7C1159.6 161.2 1162.0 162.2 1162.2 163.3C1162.3 164.3 1159.8 166.1 1159.9 167.3C1160.0 168.4 1162.2 169.8 1162.7 170.3" fill="none" stroke="#A8703E" stroke-width="0.50" opacity="0.75" stroke-linecap="round"/>
<path d="M1196.2 103.9C1196.7 104.3 1199.0 105.3 1199.2 106.4C1199.3 107.5 1196.8 109.2 1196.9 110.4C1197.0 111.6 1199.2 112.9 1199.7 113.4" fill="none" stroke="#A8703E" stroke-width="0.50" opacity="0.75" stroke-linecap="round"/>
<path d="M1128.8 131.7C1129.3 132.2 1131.7 133.2 1131.8 134.2C1131.9 135.3 1129.4 137.1 1129.5 138.3C1129.6 139.4 1131.8 140.8 1132.3 141.3" fill="none" stroke="#A8703E" stroke-width="0.50" opacity="0.75" stroke-linecap="round"/>
<path d="M1119.6 145.2C1120.1 145.6 1122.5 146.6 1122.6 147.7C1122.7 148.8 1120.3 150.5 1120.4 151.7C1120.4 152.9 1122.6 154.2 1123.1 154.7" fill="none" stroke="#A8703E" stroke-width="0.50" opacity="0.75" stroke-linecap="round"/>
<path d="M1187.6 118.6C1188.1 119.0 1190.5 120.0 1190.7 121.1C1190.8 122.2 1188.3 123.9 1188.4 125.1C1188.5 126.3 1190.7 127.6 1191.2 128.1" fill="none" stroke="#A8703E" stroke-width="0.50" opacity="0.75" stroke-linecap="round"/>
<path d="M1184.8 166.0C1185.3 166.4 1187.6 167.4 1187.8 168.5C1187.9 169.6 1185.4 171.3 1185.5 172.5C1185.6 173.7 1187.8 175.0 1188.3 175.5" fill="none" stroke="#A8703E" stroke-width="0.50" opacity="0.75" stroke-linecap="round"/>
</g>
<path d="M1147.7 103.8C1148.3 101.9 1153.5 97.6 1157.7 96.3C1161.9 94.9 1167.9 93.6 1172.7 95.5C1177.5 97.4 1186.1 106.4 1186.5 107.5C1186.9 108.7 1179.2 103.4 1175.2 102.5C1171.3 101.6 1166.3 101.2 1162.7 102.0C1159.2 102.9 1156.5 107.2 1154.0 107.5C1151.5 107.8 1147.1 105.7 1147.7 103.8Z" fill="#82502E" opacity="0.8"/>
<path d="M1189.2 90.9L1190.1 94.4L1193.6 95.7L1190.5 97.6L1190.3 101.3L1187.5 99.0L1184.0 100.0L1185.3 96.6L1183.3 93.5L1187.0 93.8Z" fill="#F6D04A" stroke="#F6D04A" stroke-width="0.8" stroke-linejoin="round"/>
<path d="M1194.6 107.8L1195.3 109.1L1196.7 109.3L1195.7 110.4L1195.9 111.9L1194.6 111.2L1193.3 111.9L1193.5 110.4L1192.5 109.3L1193.9 109.1Z" fill="#F08A3A" stroke="#F08A3A" stroke-width="0.8" stroke-linejoin="round"/>
<path d="M1158.0 217.7L1164.6 217.7L1164.6 227.2L1158.0 227.2Z" fill="#E85A8A"/>
<path d="M1157.5 216.2L1165.1 216.2L1165.1 218.7L1157.5 218.7Z" fill="#D8342E"/>
<path d="M1167.6 219.0L1174.6 219.0L1174.1 227.7L1168.1 227.7Z" fill="#D8342E"/>
<path d="M1171.3 219.0L1175.6 207.7" fill="none" stroke="#E8553A" stroke-width="1.25" stroke-linecap="round"/>
<path d="M1170.1 219.0L1172.6 211.4" fill="none" stroke="#2FA3A8" stroke-width="1.00" stroke-linecap="round"/>
<path d="M1179.6 227.2L1193.8 233.2" fill="none" stroke="#D8D23A" stroke-width="3.25" stroke-linecap="round"/>
<path d="M1179.6 227.2L1182.6 228.5" fill="none" stroke="#2FA3A8" stroke-width="3.00" stroke-linecap="round"/>
<path d="M1187.6 227.7C1189.0 224.4 1193.4 218.3 1197.6 215.2C1201.8 212.1 1207.2 209.4 1212.6 208.9C1218.0 208.5 1225.6 210.0 1230.2 212.7C1234.7 215.4 1238.9 221.5 1240.2 225.2C1241.4 229.0 1241.0 233.1 1237.7 235.2C1234.3 237.3 1226.4 237.2 1220.1 237.7C1213.9 238.2 1205.3 238.6 1200.1 238.2C1194.9 237.8 1190.9 237.0 1188.8 235.2C1186.8 233.5 1186.1 231.1 1187.6 227.7Z" fill="#5C5C62"/>
<path d="M1197.6 216.4C1198.9 213.9 1208.0 209.6 1212.6 210.2C1217.2 210.8 1224.7 216.4 1225.1 220.2C1225.6 224.0 1218.5 231.9 1215.1 232.7C1211.8 233.6 1208.0 227.9 1205.1 225.2C1202.2 222.5 1196.3 219.0 1197.6 216.4Z" fill="#6E6E76" opacity="0.8"/>
<ellipse cx="1202.6" cy="236.7" rx="10.0" ry="2.3" fill="#7A4424"/>
<path d="M1221.4 202.7C1221.6 199.3 1223.9 194.8 1226.4 192.7C1228.9 190.5 1233.8 188.8 1236.4 189.7C1239.0 190.5 1241.0 193.4 1242.2 197.7C1243.3 201.9 1243.3 209.6 1243.2 215.2C1243.0 220.8 1243.6 228.5 1241.4 231.5C1239.2 234.4 1233.1 233.8 1230.2 232.7C1227.2 231.7 1224.7 228.5 1223.9 225.2C1223.1 221.9 1225.6 216.4 1225.1 212.7C1224.7 208.9 1221.2 206.0 1221.4 202.7Z" fill="#E8624A"/>
<path d="M1224.6 196.7L1242.2 195.2" fill="none" stroke="#F6B49A" stroke-width="0.63" opacity="0.9" stroke-linecap="round"/>
<path d="M1224.6 201.2L1242.2 199.7" fill="none" stroke="#F6B49A" stroke-width="0.63" opacity="0.9" stroke-linecap="round"/>
<path d="M1224.6 205.7L1242.2 204.2" fill="none" stroke="#F6B49A" stroke-width="0.63" opacity="0.9" stroke-linecap="round"/>
<path d="M1224.6 210.2L1242.2 208.7" fill="none" stroke="#F6B49A" stroke-width="0.63" opacity="0.9" stroke-linecap="round"/>
<path d="M1224.6 214.7L1242.2 213.2" fill="none" stroke="#F6B49A" stroke-width="0.63" opacity="0.9" stroke-linecap="round"/>
<path d="M1224.6 219.2L1242.2 217.7" fill="none" stroke="#F6B49A" stroke-width="0.63" opacity="0.9" stroke-linecap="round"/>
<path d="M1224.6 223.7L1242.2 222.2" fill="none" stroke="#F6B49A" stroke-width="0.63" opacity="0.9" stroke-linecap="round"/>
<path d="M1224.6 228.2L1242.2 226.7" fill="none" stroke="#F6B49A" stroke-width="0.63" opacity="0.9" stroke-linecap="round"/>
<path d="M1224.6 232.7L1242.2 231.2" fill="none" stroke="#F6B49A" stroke-width="0.63" opacity="0.9" stroke-linecap="round"/>
<path d="M1223.1 202.7C1225.2 202.4 1228.6 204.3 1228.9 206.4C1229.2 208.5 1227.9 213.5 1225.1 215.2C1222.4 216.9 1216.2 217.7 1212.6 216.4C1209.1 215.2 1205.7 210.6 1203.9 207.7C1202.0 204.8 1200.9 201.0 1201.4 198.9C1201.8 196.8 1204.9 194.7 1206.4 195.2C1207.8 195.6 1208.5 199.3 1210.1 201.4C1211.8 203.6 1214.2 208.0 1216.4 208.2C1218.5 208.4 1221.1 203.0 1223.1 202.7Z" fill="#6E351C"/>
<path d="M1204.1 193.9L1209.6 193.2L1210.6 198.9L1205.1 199.7Z" fill="#3A8AC0"/>
<path d="M1228.9 185.2C1230.2 183.6 1236.1 182.6 1237.7 183.9C1239.2 185.2 1239.4 191.1 1238.2 192.7C1236.9 194.2 1231.7 194.4 1230.2 193.2C1228.6 191.9 1227.6 186.7 1228.9 185.2Z" fill="#6E351C"/>
<path d="M1216.4 167.6C1216.9 164.9 1217.8 160.9 1220.1 158.9C1222.4 156.8 1227.0 154.9 1230.2 155.1C1233.3 155.3 1237.2 157.2 1238.9 160.1C1240.7 163.0 1240.9 168.9 1240.7 172.6C1240.5 176.4 1239.6 180.5 1237.7 182.6C1235.7 184.8 1231.8 185.9 1228.9 185.7C1226.0 185.4 1222.1 183.1 1220.1 181.4C1218.2 179.6 1217.8 177.4 1217.1 175.1C1216.5 172.8 1215.9 170.3 1216.4 167.6Z" fill="#7C3F22"/>
<ellipse cx="1238.2" cy="177.1" rx="2.8" ry="3.5" fill="#7C3F22"/>
<ellipse cx="1223.1" cy="165.6" rx="2.5" ry="3.0" fill="#FFFFFF"/>
<ellipse cx="1222.1" cy="165.1" rx="1.5" ry="2.0" fill="#1A0E0A"/>
<path d="M1218.9 160.1L1224.6 159.1" fill="none" stroke="#2A120A" stroke-width="1.00" stroke-linecap="round"/>
<path d="M1218.1 178.1L1223.1 179.1" fill="none" stroke="#4A1A10" stroke-width="0.75" stroke-linecap="round"/>
<ellipse cx="1243.9" cy="160.1" rx="17.5" ry="17.5" fill="#3A1A12"/>
<ellipse cx="1235.2" cy="148.8" rx="9.5" ry="9.5" fill="#3A1A12"/>
<ellipse cx="1247.7" cy="146.3" rx="10.0" ry="10.0" fill="#3A1A12"/>
<ellipse cx="1257.7" cy="157.6" rx="10.5" ry="10.5" fill="#3A1A12"/>
<ellipse cx="1255.2" cy="170.1" rx="10.0" ry="10.0" fill="#3A1A12"/>
<ellipse cx="1243.9" cy="176.4" rx="9.5" ry="9.5" fill="#3A1A12"/>
<ellipse cx="1228.9" cy="150.6" rx="6.3" ry="6.3" fill="#3A1A12"/>
<ellipse cx="1261.4" cy="163.9" rx="5.5" ry="5.5" fill="#3A1A12"/>
<ellipse cx="1237.7" cy="141.3" rx="5.0" ry="5.0" fill="#3A1A12"/>
<ellipse cx="1250.2" cy="182.6" rx="4.5" ry="4.5" fill="#3A1A12"/>
<ellipse cx="1234.3" cy="169.7" rx="2.8" ry="2.8" fill="none" stroke="#6A3626" stroke-width="0.5"/>
<ellipse cx="1250.5" cy="179.9" rx="2.8" ry="2.8" fill="none" stroke="#6A3626" stroke-width="0.5"/>
<ellipse cx="1255.3" cy="155.1" rx="2.8" ry="2.8" fill="none" stroke="#6A3626" stroke-width="0.5"/>
<ellipse cx="1243.3" cy="168.5" rx="2.8" ry="2.8" fill="none" stroke="#6A3626" stroke-width="0.5"/>
<ellipse cx="1233.3" cy="161.3" rx="2.8" ry="2.8" fill="none" stroke="#6A3626" stroke-width="0.5"/>
<ellipse cx="1237.3" cy="149.2" rx="2.8" ry="2.8" fill="none" stroke="#6A3626" stroke-width="0.5"/>
<ellipse cx="1234.3" cy="172.0" rx="2.8" ry="2.8" fill="none" stroke="#6A3626" stroke-width="0.5"/>
<ellipse cx="1236.2" cy="153.8" rx="2.8" ry="2.8" fill="none" stroke="#6A3626" stroke-width="0.5"/>
<ellipse cx="1243.4" cy="175.6" rx="2.8" ry="2.8" fill="none" stroke="#6A3626" stroke-width="0.5"/>
<ellipse cx="1234.9" cy="160.8" rx="2.8" ry="2.8" fill="none" stroke="#6A3626" stroke-width="0.5"/>
<ellipse cx="1247.8" cy="176.1" rx="2.8" ry="2.8" fill="none" stroke="#6A3626" stroke-width="0.5"/>
<ellipse cx="1255.2" cy="175.4" rx="2.8" ry="2.8" fill="none" stroke="#6A3626" stroke-width="0.5"/>
<ellipse cx="1240.3" cy="159.6" rx="2.8" ry="2.8" fill="none" stroke="#6A3626" stroke-width="0.5"/>
<ellipse cx="1242.5" cy="176.1" rx="2.8" ry="2.8" fill="none" stroke="#6A3626" stroke-width="0.5"/>
<path d="M1244.7 228.2L1251.2 228.2L1251.2 238.2L1244.7 238.2Z" fill="#F2B02E"/>
<path d="M1245.9 225.2L1249.9 225.2L1249.9 228.7L1245.9 228.7Z" fill="#F6D04A"/>
<path d="M1244.2 229.7L1251.7 229.7L1251.7 231.7L1244.2 231.7Z" fill="#F6D04A"/>
<path d="M1252.7 228.2L1259.2 228.2L1259.2 238.2L1252.7 238.2Z" fill="#E8553A"/>
<path d="M1253.9 225.2L1257.9 225.2L1257.9 228.7L1253.9 228.7Z" fill="#F08A5A"/>
<path d="M1252.2 229.7L1259.7 229.7L1259.7 231.7L1252.2 231.7Z" fill="#F08A5A"/>
<path d="M1260.9 228.2L1267.5 228.2L1267.5 238.2L1260.9 238.2Z" fill="#9A5A32"/>
<path d="M1262.2 225.2L1266.2 225.2L1266.2 228.7L1262.2 228.7Z" fill="#B87A4A"/>
<path d="M1260.4 229.7L1268.0 229.7L1268.0 231.7L1260.4 231.7Z" fill="#B87A4A"/></g>
<g id="ill4"><clipPath id="c4"><rect x="0" y="0" width="1320" height="556.5"/></clipPath><g clip-path="url(#c4)">
<path d="M45.0 463.9L46.2 460.6" fill="none" stroke="#F6D88A" stroke-width="0.75" stroke-linecap="round"/>
<path d="M51.3 458.8L52.2 455.5" fill="none" stroke="#F6D88A" stroke-width="0.75" stroke-linecap="round"/>
<path d="M55.0 470.1L56.8 467.1" fill="none" stroke="#F6D88A" stroke-width="0.75" stroke-linecap="round"/>
<path d="M61.3 460.6L61.9 457.1" fill="none" stroke="#F6D88A" stroke-width="0.75" stroke-linecap="round"/>
<path d="M70.1 470.1L70.4 466.6" fill="none" stroke="#F6D88A" stroke-width="0.75" stroke-linecap="round"/>
<path d="M48.8 477.6L51.0 474.9" fill="none" stroke="#F6D88A" stroke-width="0.75" stroke-linecap="round"/>
<path d="M62.5 475.1L63.2 471.7" fill="none" stroke="#F6D88A" stroke-width="0.75" stroke-linecap="round"/>
<path d="M46.5 495.2L52.5 494.6L61.3 545.2L55.0 546.5Z" fill="#D8601E"/>
<path d="M67.6 493.9L73.1 493.1L76.3 541.5L70.6 542.2Z" fill="#F0862A"/>
<path d="M40.0 488.1C42.2 486.8 74.4 478.9 77.1 478.9C79.7 478.9 82.3 486.8 80.1 488.1C77.9 489.5 46.7 499.7 44.0 499.7C41.4 499.7 37.8 489.5 40.0 488.1Z" fill="#F0862A"/>
<path d="M42.0 491.4C44.2 490.6 73.9 483.0 76.3 482.6C78.7 482.2 79.7 484.8 77.6 485.6C75.4 486.5 46.1 494.8 43.8 495.2C41.4 495.5 39.8 492.2 42.0 491.4Z" fill="#F6A84A" opacity="0.8"/>
<path d="M46.0 510.7C48.1 509.5 77.2 504.9 79.6 505.2C81.9 505.4 83.4 513.5 81.3 514.7C79.2 515.8 50.4 522.5 48.0 522.2C45.7 521.9 43.9 511.8 46.0 510.7Z" fill="#F0862A"/>
<path d="M47.5 512.7C49.6 512.1 76.9 507.8 79.1 507.7C81.2 507.5 81.6 509.6 79.6 510.2C77.5 510.7 50.2 516.0 48.0 516.2C45.9 516.3 45.5 513.2 47.5 512.7Z" fill="#F6A84A" opacity="0.8"/>
<path d="M53.0 545.7C54.9 544.4 75.7 539.2 80.1 539.0C84.4 538.7 102.8 541.7 105.1 542.7C107.4 543.8 109.7 550.2 107.6 551.5C105.5 552.7 84.2 557.4 80.1 557.7C75.9 558.1 59.8 556.2 57.5 555.2C55.3 554.2 51.2 547.1 53.0 545.7Z" fill="#D8601E"/>
<path d="M53.8 544.7C53.8 543.9 75.8 538.5 80.1 538.2C84.4 538.0 105.1 540.9 105.1 541.7C105.1 542.6 84.4 548.0 80.1 548.2C75.8 548.5 53.8 545.6 53.8 544.7Z" fill="#F0862A"/>
<path d="M56.3 552.7L61.3 552.7L63.8 560.2L58.0 560.2Z" fill="#D8601E"/>
<path d="M269.7 490.1C271.8 484.9 275.9 484.5 280.2 483.9C284.5 483.3 291.7 483.7 295.2 486.4C298.8 489.1 300.6 494.5 301.5 500.2C302.3 505.8 301.7 514.3 300.2 520.2C298.8 526.0 295.6 531.0 292.7 535.2C289.8 539.4 286.0 544.4 282.7 545.2C279.4 546.1 275.2 545.2 272.7 540.2C270.2 535.2 268.2 523.5 267.7 515.2C267.2 506.8 267.6 495.4 269.7 490.1Z" fill="#E0301E"/>
<path d="M275.2 490.1C277.7 486.9 286.5 486.5 290.2 488.1C294.0 489.8 296.7 495.2 297.7 500.2C298.8 505.1 297.7 512.7 296.5 517.7C295.2 522.7 292.9 529.0 290.2 530.2C287.5 531.5 282.7 529.0 280.2 525.2C277.7 521.4 276.0 513.5 275.2 507.7C274.4 501.8 272.7 493.4 275.2 490.1Z" fill="#EE4A2A" opacity="0.7"/>
<path d="M272.7 490.1L276.4 535.2" fill="none" stroke="#B8201A" stroke-width="0.50" opacity="0.6" stroke-linecap="round"/>
<path d="M278.2 490.1L281.5 535.2" fill="none" stroke="#B8201A" stroke-width="0.50" opacity="0.6" stroke-linecap="round"/>
<path d="M283.7 490.1L286.5 535.2" fill="none" stroke="#B8201A" stroke-width="0.50" opacity="0.6" stroke-linecap="round"/>
<path d="M289.2 490.1L291.5 535.2" fill="none" stroke="#B8201A" stroke-width="0.50" opacity="0.6" stroke-linecap="round"/>
<path d="M294.7 490.1L296.5 535.2" fill="none" stroke="#B8201A" stroke-width="0.50" opacity="0.6" stroke-linecap="round"/>
<path d="M192.6 550.2C195.1 547.3 200.9 543.1 207.6 540.2C214.3 537.3 223.9 534.6 232.6 532.7C241.4 530.8 252.2 529.2 260.2 529.0C268.1 528.7 275.4 529.2 280.2 531.5C285.0 533.7 287.7 538.3 289.0 542.7C290.2 547.1 303.8 555.2 287.7 557.7C271.6 560.2 208.4 559.0 192.6 557.7C176.7 556.5 190.1 553.2 192.6 550.2Z" fill="#1F5A66"/>
<path d="M239.1 545.0L249.1 543.0" fill="none" stroke="#123A44" stroke-width="1.25" opacity="0.8" stroke-linecap="round"/>
<path d="M274.5 543.4L284.5 541.4" fill="none" stroke="#123A44" stroke-width="1.25" opacity="0.8" stroke-linecap="round"/>
<path d="M243.2 545.5L253.2 543.5" fill="none" stroke="#123A44" stroke-width="1.25" opacity="0.8" stroke-linecap="round"/>
<path d="M219.0 544.2L229.0 542.2" fill="none" stroke="#123A44" stroke-width="1.25" opacity="0.8" stroke-linecap="round"/>
<path d="M252.4 549.1L262.4 547.1" fill="none" stroke="#123A44" stroke-width="1.25" opacity="0.8" stroke-linecap="round"/>
<path d="M212.2 540.5L222.2 538.5" fill="none" stroke="#123A44" stroke-width="1.25" opacity="0.8" stroke-linecap="round"/>
<path d="M211.9 549.4L221.9 547.4" fill="none" stroke="#123A44" stroke-width="1.25" opacity="0.8" stroke-linecap="round"/>
<path d="M257.2 535.9L267.2 533.9" fill="none" stroke="#123A44" stroke-width="1.25" opacity="0.8" stroke-linecap="round"/>
<path d="M232.6 545.2C234.7 541.9 253.9 536.0 262.7 535.2C271.4 534.4 281.2 537.7 285.2 540.2C289.2 542.7 292.3 547.7 286.5 550.2C280.6 552.7 259.1 556.1 250.2 555.2C241.2 554.4 230.5 548.6 232.6 545.2Z" fill="#2A7A86" opacity="0.7"/>
<path d="M210.1 500.2C209.8 496.0 211.8 485.1 213.9 480.1C215.9 475.1 219.1 472.2 222.6 470.1C226.2 468.0 231.4 467.6 235.1 467.6C238.9 467.6 241.0 468.4 245.1 470.1C249.3 471.8 256.0 473.5 260.2 477.6C264.3 481.8 267.9 489.3 270.2 495.2C272.5 501.0 273.1 506.0 273.9 512.7C274.8 519.4 277.5 531.0 275.2 535.2C272.9 539.4 264.3 538.5 260.2 537.7C256.0 536.9 252.7 534.4 250.2 530.2C247.7 526.0 248.1 516.8 245.1 512.7C242.2 508.5 236.0 506.0 232.6 505.2C229.3 504.3 228.0 507.7 225.1 507.7C222.3 507.7 218.1 506.4 215.6 505.2C213.1 503.9 210.4 504.3 210.1 500.2Z" fill="#2AB0C0"/>
<path d="M213.9 480.1C215.0 475.1 219.5 471.4 222.6 470.1C225.7 468.9 232.2 469.3 232.6 472.6C233.0 476.0 228.0 485.6 225.1 490.1C222.3 494.7 217.5 501.8 215.6 500.2C213.7 498.5 212.7 485.1 213.9 480.1Z" fill="#4AC6D2" opacity="0.8"/>
<path d="M260.2 480.1C261.3 477.2 267.8 489.3 270.2 495.2C272.6 501.0 273.6 508.3 274.7 515.2C275.7 522.1 278.2 532.7 276.4 536.5C274.7 540.2 266.1 541.7 263.9 537.7C261.7 533.7 263.8 522.3 263.2 512.7C262.5 503.1 259.0 483.0 260.2 480.1Z" fill="#17707E" opacity="0.95"/>
<path d="M211.3 497.7C215.9 498.1 223.2 501.7 225.1 503.9C227.0 506.1 226.0 509.2 222.6 510.7C219.3 512.1 210.5 513.0 205.1 512.7C199.7 512.4 194.2 510.2 190.1 508.9C185.9 507.7 182.1 506.6 180.1 505.2C178.0 503.7 177.2 501.5 178.0 500.2C178.9 498.8 181.8 496.9 185.1 497.2C188.3 497.4 193.2 501.3 197.6 501.4C202.0 501.5 206.8 497.2 211.3 497.7Z" fill="#F2A070"/>
<path d="M180.1 504.7C181.9 505.2 186.9 507.0 191.3 508.2C195.7 509.3 201.2 511.3 206.3 511.7C211.5 512.0 219.5 510.4 222.1 510.2" fill="none" stroke="#E0804A" stroke-width="1.00" opacity="0.7" stroke-linecap="round"/>
<path d="M220.1 457.6C221.6 454.3 231.2 450.5 233.9 452.6C236.6 454.7 237.8 466.8 236.4 470.1C234.9 473.5 227.8 474.7 225.1 472.6C222.4 470.5 218.6 460.9 220.1 457.6Z" fill="#E07040"/>
<path d="M197.6 425.0C198.4 421.7 200.5 418.2 203.8 416.3C207.2 414.4 212.8 413.4 217.6 413.8C222.4 414.2 229.2 415.7 232.6 418.8C236.1 421.9 237.3 427.5 238.1 432.6C239.0 437.6 239.0 444.2 237.6 448.8C236.3 453.4 233.5 457.3 230.1 460.1C226.8 462.9 221.2 465.2 217.6 465.6C214.1 466.0 211.6 465.4 208.8 462.6C206.1 459.8 203.0 453.2 201.3 448.8C199.7 444.4 199.5 440.3 198.8 436.3C198.2 432.3 196.7 428.4 197.6 425.0Z" fill="#F08A58"/>
<ellipse cx="238.9" cy="440.6" rx="4.0" ry="6.0" fill="#F08A58"/>
<ellipse cx="225.1" cy="438.8" rx="4.5" ry="3.5" fill="#F06A5A" opacity="0.6"/>
<ellipse cx="215.6" cy="433.1" rx="5.0" ry="5.3" fill="#FFFFFF"/>
<ellipse cx="214.1" cy="434.1" rx="3.0" ry="3.5" fill="#5A1E12"/>
<ellipse cx="201.3" cy="432.6" rx="2.3" ry="3.8" fill="#FFFFFF"/>
<ellipse cx="200.8" cy="433.3" rx="1.3" ry="2.3" fill="#5A1E12"/>
<path d="M201.3 447.6C202.5 446.1 208.8 449.5 212.6 448.8C216.4 448.2 222.4 442.6 223.9 443.8C225.3 445.1 223.2 453.5 221.4 456.3C219.5 459.1 215.2 460.4 212.6 460.6C210.0 460.8 207.5 459.8 205.6 457.6C203.7 455.4 200.2 449.0 201.3 447.6Z" fill="#A8201A"/>
<path d="M202.1 447.8C203.6 447.4 209.1 449.9 212.6 449.3C216.1 448.8 221.5 444.7 223.1 444.6C224.7 444.4 223.9 447.1 222.1 448.6C220.4 450.1 215.7 453.0 212.6 453.6C209.5 454.2 205.3 453.0 203.6 452.1C201.8 451.1 200.6 448.3 202.1 447.8Z" fill="#FFFFFF"/>
<path d="M210.1 456.3C211.1 455.4 216.7 454.0 217.6 454.6C218.5 455.1 216.6 458.7 215.6 459.6C214.6 460.5 212.3 460.6 211.3 460.1C210.4 459.6 209.1 457.3 210.1 456.3Z" fill="#F0604A"/>
<path d="M208.8 424.5C210.1 424.1 214.1 422.0 216.4 422.0C218.6 422.1 221.6 424.5 222.6 425.0" fill="none" stroke="#3A140C" stroke-width="1.50" stroke-linecap="round"/>
<path d="M198.8 427.0L202.6 425.0" fill="none" stroke="#3A140C" stroke-width="1.25" stroke-linecap="round"/>
<path d="M206.3 462.1C207.9 462.0 213.9 465.4 217.6 465.1C221.4 464.9 226.9 460.8 228.9 460.6C230.9 460.4 231.5 462.5 229.6 463.9C227.7 465.2 221.2 468.6 217.6 468.9C214.0 469.2 210.0 466.7 208.1 465.6C206.2 464.5 204.8 462.2 206.3 462.1Z" fill="#B86A48" opacity="0.7"/>
<path d="M190.1 416.3C189.9 414.0 189.9 408.9 191.3 406.3C192.8 403.6 196.3 400.7 198.8 400.5C201.3 400.3 204.0 405.3 206.3 405.0C208.6 404.7 209.5 399.6 212.6 398.8C215.7 397.9 221.8 398.3 225.1 400.0C228.5 401.7 230.5 406.5 232.6 408.8C234.7 411.1 236.3 411.5 237.6 413.8C239.0 416.1 240.3 419.0 240.6 422.5C241.0 426.1 240.3 433.4 239.6 435.1C238.9 436.7 237.6 435.1 236.4 432.6C235.2 430.1 234.9 422.5 232.6 420.0C230.3 417.5 226.0 418.6 222.6 417.5C219.3 416.5 215.7 414.0 212.6 413.8C209.5 413.6 206.3 415.0 203.8 416.3C201.3 417.5 199.5 420.7 197.6 421.3C195.7 421.9 193.8 420.9 192.6 420.0C191.3 419.2 190.3 418.6 190.1 416.3Z" fill="#4A1E14"/>
<path d="M193.8 410.0C193.6 408.1 197.2 404.2 198.8 403.8C200.5 403.3 203.6 405.6 203.8 407.5C204.0 409.4 201.7 414.6 200.1 415.0C198.4 415.4 194.0 411.9 193.8 410.0Z" fill="#7A3A22" opacity="0.8"/>
<path d="M227.6 402.5L230.6 398.8" fill="none" stroke="#4A1E14" stroke-width="1.00" stroke-linecap="round"/>
<path d="M225.1 401.3L226.4 397.5" fill="none" stroke="#4A1E14" stroke-width="1.00" stroke-linecap="round"/>
<path d="M210.1 405.0C211.8 404.8 217.0 402.9 220.1 403.8C223.2 404.6 227.4 409.0 228.9 410.0" fill="none" stroke="#7A3A22" stroke-width="1.00" opacity="0.8" stroke-linecap="round"/>
<path d="M243.9 500.2C245.4 497.2 247.4 495.8 250.2 495.2C252.9 494.5 257.9 494.3 260.2 496.4C262.5 498.5 263.5 502.0 263.9 507.7C264.3 513.3 265.0 526.0 262.7 530.2C260.4 534.4 253.4 533.5 250.2 532.7C246.9 531.9 244.6 528.5 243.1 525.2C241.7 521.9 241.3 516.8 241.4 512.7C241.5 508.5 242.4 503.1 243.9 500.2Z" fill="#F27A2A"/>
<path d="M246.4 500.2C247.2 498.8 252.5 497.3 253.9 498.2C255.4 499.0 256.0 503.8 255.2 505.2C254.3 506.5 250.4 507.3 248.9 506.4C247.4 505.6 245.6 501.5 246.4 500.2Z" fill="#F6A23A"/>
<path d="M263.9 477.6C265.6 476.4 268.6 489.3 270.2 495.2C271.7 501.0 273.6 509.5 273.2 512.7C272.8 515.8 269.9 515.6 267.7 513.9C265.5 512.3 260.8 508.7 260.2 502.7C259.5 496.6 262.3 478.9 263.9 477.6Z" fill="#1F8C9C"/>
<path d="M248.9 507.7C251.2 508.0 255.8 510.8 255.2 512.7C254.5 514.6 249.3 518.0 245.1 518.9C241.0 519.9 234.0 518.9 230.1 518.2C226.3 517.5 223.3 516.1 222.1 514.7C220.9 513.3 221.4 510.3 223.1 509.7C224.9 509.0 229.6 510.5 232.6 510.7C235.7 510.8 238.7 511.2 241.4 510.7C244.1 510.2 246.6 507.3 248.9 507.7Z" fill="#EE925C"/>
<path d="M260.2 507.7C262.3 506.2 265.4 504.3 267.7 505.2C270.0 506.0 273.9 510.2 273.9 512.7C273.9 515.2 271.6 518.9 267.7 520.2C263.7 521.4 255.2 520.6 250.2 520.2C245.1 519.8 239.3 519.0 237.6 517.7C236.0 516.3 237.2 512.8 240.1 512.2C243.1 511.5 251.8 514.7 255.2 513.9C258.5 513.2 258.1 509.1 260.2 507.7Z" fill="#F2A070"/>
<path d="M229.6 477.6C230.0 474.3 231.1 470.0 233.9 467.6C236.7 465.2 242.6 463.1 246.4 463.1C250.2 463.1 254.1 465.0 256.4 467.6C258.7 470.2 260.0 475.3 260.2 478.9C260.4 482.4 259.5 486.2 257.7 488.9C255.8 491.6 252.2 494.3 248.9 495.2C245.6 496.0 240.6 495.2 237.6 493.9C234.7 492.6 232.7 490.4 231.4 487.6C230.0 484.9 229.2 481.0 229.6 477.6Z" fill="#EE925C"/>
<ellipse cx="259.4" cy="482.1" rx="2.5" ry="3.8" fill="#EE925C"/>
<ellipse cx="236.4" cy="483.9" rx="3.5" ry="3.0" fill="#F06A4A" opacity="0.6"/>
<ellipse cx="242.1" cy="478.9" rx="3.8" ry="4.3" fill="#FFFFFF"/>
<ellipse cx="241.1" cy="479.9" rx="2.3" ry="2.8" fill="#3A140C"/>
<ellipse cx="232.6" cy="477.6" rx="1.8" ry="3.0" fill="#FFFFFF"/>
<ellipse cx="232.4" cy="478.4" rx="1.0" ry="1.8" fill="#3A140C"/>
<path d="M235.1 488.1C236.5 487.1 244.9 486.3 246.4 487.1C247.9 488.0 245.3 492.1 243.9 493.1C242.5 494.1 239.6 494.0 238.1 493.1C236.7 492.3 233.8 489.1 235.1 488.1Z" fill="#A8201A"/>
<path d="M235.9 488.4C237.4 487.9 244.3 487.2 245.9 487.4C247.5 487.6 246.9 488.9 245.4 489.4C243.9 489.9 238.2 490.6 236.6 490.4C235.0 490.2 234.3 488.9 235.9 488.4Z" fill="#FFFFFF"/>
<path d="M237.6 472.1C238.7 471.9 242.1 470.4 243.9 470.6C245.6 470.8 247.4 472.7 248.2 473.1" fill="none" stroke="#3A140C" stroke-width="1.25" stroke-linecap="round"/>
<path d="M228.1 475.1C227.9 473.0 228.3 466.9 230.1 463.9C231.9 460.8 235.5 458.3 238.9 457.1C242.2 455.8 246.6 455.6 250.2 456.3C253.7 457.1 257.9 458.6 260.2 461.3C262.5 464.1 263.5 469.1 263.9 472.6C264.3 476.2 263.3 481.6 262.7 482.6C262.0 483.7 261.2 481.2 260.2 478.9C259.1 476.6 258.3 471.2 256.4 468.9C254.5 466.6 251.4 465.5 248.9 465.1C246.4 464.7 243.7 465.5 241.4 466.4C239.1 467.2 236.8 468.4 235.1 470.1C233.5 471.8 232.5 475.5 231.4 476.4C230.2 477.2 228.3 477.2 228.1 475.1Z" fill="#4A1E14"/>
<ellipse cx="249.7" cy="453.1" rx="8.5" ry="7.5" fill="#4A1E14" transform="rotate(-15.0 249.7 453.1)"/>
<ellipse cx="270.2" cy="459.6" rx="8.3" ry="8.0" fill="#4A1E14" transform="rotate(20.0 270.2 459.6)"/>
<path d="M242.6 451.3C243.9 450.7 247.9 447.4 250.2 447.6C252.5 447.8 255.4 451.8 256.4 452.6" fill="none" stroke="#7A3A22" stroke-width="1.00" stroke-linecap="round"/>
<path d="M265.2 455.1C266.2 454.8 269.6 452.5 271.4 453.1C273.3 453.7 275.6 457.9 276.4 458.8" fill="none" stroke="#7A3A22" stroke-width="1.00" stroke-linecap="round"/>
<path d="M232.6 467.6C234.3 466.4 238.9 461.5 242.6 460.6C246.4 459.7 253.1 461.9 255.2 462.1" fill="none" stroke="#7A3A22" stroke-width="1.00" opacity="0.8" stroke-linecap="round"/>
<path d="M275.2 463.9L278.9 470.1" fill="none" stroke="#4A1E14" stroke-width="1.00" stroke-linecap="round"/>
<path d="M78.8 539.0C80.5 534.7 84.5 533.5 90.1 532.2C95.7 531.0 105.9 531.0 112.6 531.5C119.3 532.0 126.2 532.9 130.2 535.2C134.1 537.5 135.6 541.5 136.4 545.2C137.2 549.0 144.5 555.7 135.2 557.7C125.8 559.8 89.5 560.9 80.1 557.7C70.7 554.6 77.2 543.2 78.8 539.0Z" fill="#1F4A52"/>
<path d="M124.4 552.2L134.4 554.7" fill="none" stroke="#3A7A82" stroke-width="0.63" opacity="0.8" stroke-linecap="round"/>
<path d="M126.9 548.5L124.4 558.5" fill="none" stroke="#E8553A" stroke-width="0.38" opacity="0.6" stroke-linecap="round"/>
<path d="M110.8 547.0L120.9 549.5" fill="none" stroke="#3A7A82" stroke-width="0.63" opacity="0.8" stroke-linecap="round"/>
<path d="M113.3 543.2L110.8 553.2" fill="none" stroke="#E8553A" stroke-width="0.38" opacity="0.6" stroke-linecap="round"/>
<path d="M90.3 537.9L100.4 540.4" fill="none" stroke="#3A7A82" stroke-width="0.63" opacity="0.8" stroke-linecap="round"/>
<path d="M92.8 534.2L90.3 544.2" fill="none" stroke="#E8553A" stroke-width="0.38" opacity="0.6" stroke-linecap="round"/>
<path d="M105.7 538.6L115.7 541.1" fill="none" stroke="#3A7A82" stroke-width="0.63" opacity="0.8" stroke-linecap="round"/>
<path d="M108.2 534.9L105.7 544.9" fill="none" stroke="#E8553A" stroke-width="0.38" opacity="0.6" stroke-linecap="round"/>
<path d="M91.7 541.3L101.7 543.9" fill="none" stroke="#3A7A82" stroke-width="0.63" opacity="0.8" stroke-linecap="round"/>
<path d="M94.2 537.6L91.7 547.6" fill="none" stroke="#E8553A" stroke-width="0.38" opacity="0.6" stroke-linecap="round"/>
<path d="M85.1 544.7L95.1 547.2" fill="none" stroke="#3A7A82" stroke-width="0.63" opacity="0.8" stroke-linecap="round"/>
<path d="M87.6 540.9L85.1 550.9" fill="none" stroke="#E8553A" stroke-width="0.38" opacity="0.6" stroke-linecap="round"/>
<path d="M102.0 550.4L112.0 552.9" fill="none" stroke="#3A7A82" stroke-width="0.63" opacity="0.8" stroke-linecap="round"/>
<path d="M104.5 546.6L102.0 556.6" fill="none" stroke="#E8553A" stroke-width="0.38" opacity="0.6" stroke-linecap="round"/>
<path d="M78.1 535.2C75.6 530.2 78.7 513.1 80.1 505.2C81.5 497.2 83.8 491.8 86.3 487.6C88.8 483.5 91.6 481.2 95.1 480.1C98.6 479.1 104.1 479.7 107.6 481.4C111.2 483.0 115.1 486.2 116.4 490.1C117.6 494.1 116.2 501.0 115.1 505.2C114.1 509.3 110.5 510.8 110.1 515.2C109.7 519.6 115.1 528.1 112.6 531.5C110.1 534.8 100.9 534.6 95.1 535.2C89.3 535.8 80.6 540.2 78.1 535.2Z" fill="#F27A7A"/>
<path d="M80.1 505.2C79.8 501.1 84.0 491.9 86.3 488.1C88.6 484.4 92.8 480.6 93.8 482.6C94.9 484.6 93.6 495.2 92.6 500.2C91.6 505.2 90.2 511.8 88.1 512.7C86.0 513.5 80.4 509.3 80.1 505.2Z" fill="#F69A96" opacity="0.8"/>
<ellipse cx="104.1" cy="491.4" rx="2.3" ry="2.3" fill="#FFFFFF"/>
<ellipse cx="102.2" cy="494.0" rx="2.3" ry="2.3" fill="#FFFFFF"/>
<ellipse cx="99.1" cy="493.0" rx="2.3" ry="2.3" fill="#FFFFFF"/>
<ellipse cx="99.1" cy="489.8" rx="2.3" ry="2.3" fill="#FFFFFF"/>
<ellipse cx="102.2" cy="488.8" rx="2.3" ry="2.3" fill="#FFFFFF"/>
<ellipse cx="101.4" cy="491.4" rx="1.5" ry="1.5" fill="#F6D0D0"/>
<path d="M83.8 506.4C84.2 504.5 87.8 504.3 91.3 505.2C94.9 506.0 100.5 510.5 105.1 511.4C109.7 512.3 116.3 509.8 118.9 510.7C121.5 511.5 122.9 515.1 120.6 516.4C118.3 517.8 110.4 518.9 105.1 518.9C99.8 518.9 92.4 518.5 88.8 516.4C85.3 514.3 83.4 508.3 83.8 506.4Z" fill="#F2A070"/>
<path d="M85.6 512.7C87.2 513.4 91.0 516.3 95.1 517.2C99.2 518.1 107.6 518.0 110.1 518.2" fill="none" stroke="#E0804A" stroke-width="1.00" opacity="0.7" stroke-linecap="round"/>
<path d="M112.6 495.2L116.4 512.7" fill="none" stroke="#7A4A22" stroke-width="0.75" stroke-linecap="round"/>
<path d="M123.9 507.7L131.4 521.4" fill="none" stroke="#7A4A22" stroke-width="0.75" stroke-linecap="round"/>
<ellipse cx="111.4" cy="491.4" rx="4.0" ry="4.0" fill="#F6D23A"/>
<ellipse cx="110.1" cy="490.6" rx="0.6" ry="0.6" fill="#5A3A12"/>
<ellipse cx="112.9" cy="490.6" rx="0.6" ry="0.6" fill="#5A3A12"/>
<path d="M109.6 496.4C110.2 494.5 113.7 493.7 115.1 495.2C116.5 496.6 118.8 503.3 118.1 505.2C117.5 507.0 112.8 507.9 111.4 506.4C110.0 505.0 109.0 498.3 109.6 496.4Z" fill="#E03A2A"/>
<path d="M118.1 498.9L126.4 495.7L129.6 505.2L121.4 508.2Z" fill="#2A9AA8"/>
<path d="M117.6 498.2L126.1 494.9L127.1 497.2L118.6 500.4Z" fill="#F08A2A"/>
<path d="M95.6 477.6C97.4 476.2 105.4 475.3 107.6 476.4C109.8 477.4 110.6 482.5 108.9 483.9C107.1 485.3 99.3 485.7 97.1 484.6C94.9 483.6 93.8 479.0 95.6 477.6Z" fill="#E0804A"/>
<path d="M89.6 458.8C89.3 454.7 90.0 450.4 92.6 447.6C95.2 444.8 100.5 442.5 105.1 442.1C109.7 441.7 116.5 442.7 120.1 445.1C123.8 447.5 126.3 452.4 127.1 456.3C128.0 460.3 126.9 465.4 125.1 468.9C123.3 472.3 119.9 475.6 116.4 477.1C112.8 478.7 107.5 478.9 103.9 478.1C100.2 477.4 97.0 475.8 94.6 472.6C92.2 469.4 89.9 463.0 89.6 458.8Z" fill="#F2A070"/>
<ellipse cx="89.6" cy="460.6" rx="3.3" ry="4.5" fill="#F2A070"/>
<ellipse cx="101.4" cy="463.9" rx="5.0" ry="3.5" fill="#F06A4A" opacity="0.55"/>
<ellipse cx="110.6" cy="457.6" rx="4.5" ry="4.8" fill="#FFFFFF"/>
<ellipse cx="112.1" cy="458.3" rx="2.8" ry="3.3" fill="#3A140C"/>
<ellipse cx="123.1" cy="457.1" rx="2.3" ry="3.8" fill="#FFFFFF"/>
<ellipse cx="123.6" cy="457.8" rx="1.3" ry="2.3" fill="#3A140C"/>
<ellipse cx="118.1" cy="465.6" rx="3.0" ry="2.5" fill="#E8452E"/>
<path d="M105.1 468.1C106.3 467.7 112.1 471.4 115.1 471.4C118.1 471.3 122.2 467.1 123.1 467.6C124.1 468.2 122.2 473.2 120.6 474.6C119.1 476.1 116.0 476.5 113.9 476.4C111.8 476.2 109.6 475.2 108.1 473.9C106.7 472.5 103.9 468.5 105.1 468.1Z" fill="#A8201A"/>
<path d="M105.9 468.6C107.1 468.7 112.4 471.9 115.1 471.9C117.9 471.8 121.3 468.5 122.4 468.4C123.5 468.2 122.9 469.9 121.6 470.9C120.3 471.8 117.0 473.8 114.6 473.9C112.3 474.0 109.1 472.2 107.6 471.4C106.2 470.5 104.6 468.5 105.9 468.6Z" fill="#FFFFFF"/>
<path d="M103.9 451.3C105.1 450.9 109.3 448.8 111.4 448.8C113.5 448.8 115.5 450.9 116.4 451.3" fill="none" stroke="#3A140C" stroke-width="1.50" stroke-linecap="round"/>
<path d="M83.8 452.6C84.0 449.0 84.5 442.6 86.3 438.8C88.2 435.1 91.6 432.1 95.1 430.1C98.6 428.0 103.2 426.5 107.6 426.3C112.0 426.1 117.6 426.9 121.4 428.8C125.1 430.7 128.3 434.2 130.2 437.6C132.0 440.9 132.9 446.3 132.7 448.8C132.4 451.3 130.2 453.2 128.9 452.6C127.6 452.0 127.0 447.0 125.1 445.1C123.3 443.2 120.1 441.3 117.6 441.3C115.1 441.3 112.6 444.9 110.1 445.1C107.6 445.3 104.8 441.9 102.6 442.6C100.4 443.2 98.6 446.1 97.1 448.8C95.6 451.5 95.0 456.1 93.8 458.8C92.7 461.6 91.5 464.9 90.1 465.1C88.7 465.3 86.6 462.2 85.6 460.1C84.5 458.0 83.7 456.1 83.8 452.6Z" fill="#6A2A18"/>
<path d="M92.6 435.1C92.8 433.9 100.9 430.2 105.1 429.6C109.3 428.9 114.1 429.8 117.6 431.3C121.2 432.8 126.8 438.0 126.4 438.8C126.0 439.7 118.9 436.7 115.1 436.3C111.4 435.9 107.6 436.5 103.9 436.3C100.1 436.1 92.4 436.2 92.6 435.1Z" fill="#9A4A2A" opacity="0.8"/>
<path d="M97.1 430.1C96.9 429.1 95.1 425.7 95.6 424.5C96.1 423.4 99.4 423.3 100.1 423.0" fill="none" stroke="#6A2A18" stroke-width="1.00" stroke-linecap="round"/>
<path d="M107.6 427.0C108.7 426.2 112.2 422.5 113.9 422.0C115.5 421.6 117.0 424.1 117.6 424.5" fill="none" stroke="#6A2A18" stroke-width="1.00" stroke-linecap="round"/>
<path d="M86.3 440.1L83.8 438.1" fill="none" stroke="#6A2A18" stroke-width="1.00" stroke-linecap="round"/>
<path d="M138.2 535.2L147.7 534.0L149.7 557.7L140.2 557.7Z" fill="#1F7F86"/>
<path d="M160.2 535.2L170.2 535.2L170.7 557.7L161.2 557.7Z" fill="#1F7F86"/>
<path d="M138.2 550.2L149.7 550.2L149.7 553.2L138.2 553.2Z" fill="#5A8A92"/>
<path d="M160.2 545.2L171.5 545.2L171.5 557.7L160.2 557.7Z" fill="#E8742A"/>
<path d="M143.9 452.6C145.6 448.7 145.4 441.7 147.7 437.6C150.0 433.5 153.7 429.9 157.7 428.0C161.7 426.2 166.9 425.5 171.5 426.3C176.1 427.0 181.9 429.2 185.2 432.6C188.6 435.9 189.9 441.3 191.5 446.3C193.1 451.3 194.0 457.4 194.7 462.6C195.5 467.8 196.4 473.1 196.2 477.6C196.1 482.1 195.5 486.9 194.0 489.6C192.5 492.4 189.2 494.4 187.2 493.9C185.3 493.4 183.3 490.4 182.2 486.4C181.1 482.4 186.1 472.8 180.7 470.1C175.4 467.4 156.9 468.9 150.2 470.1C143.4 471.4 142.5 474.3 140.2 477.6C137.9 481.0 137.9 487.8 136.4 490.1C134.9 492.4 133.1 492.6 131.4 491.4C129.7 490.1 126.8 486.2 126.4 482.6C126.0 479.1 127.0 473.8 128.9 470.1C130.8 466.4 135.2 463.5 137.7 460.6C140.2 457.7 142.3 456.4 143.9 452.6Z" fill="#7A2E1C"/>
<path d="M136.4 492.6C136.1 487.6 136.6 483.4 138.2 480.1C139.7 476.9 142.0 474.8 145.7 473.1C149.3 471.4 155.7 470.2 160.2 470.1C164.7 470.0 169.4 470.5 172.7 472.6C176.1 474.7 179.4 478.0 180.2 482.6C181.1 487.2 179.4 495.2 177.7 500.2C176.1 505.2 175.2 510.2 170.2 512.7C165.2 515.2 152.7 515.6 147.7 515.2C142.7 514.8 142.0 513.9 140.2 510.2C138.3 506.4 136.7 497.7 136.4 492.6Z" fill="#E8452E"/>
<path d="M137.2 481.4L148.9 478.1" fill="none" stroke="#F6A83A" stroke-width="0.75" stroke-linecap="round"/>
<path d="M137.9 484.4L149.4 481.1" fill="none" stroke="#F6A83A" stroke-width="0.75" stroke-linecap="round"/>
<path d="M138.7 487.4L149.9 484.1" fill="none" stroke="#F6A83A" stroke-width="0.75" stroke-linecap="round"/>
<path d="M139.4 490.4L150.4 487.1" fill="none" stroke="#F6A83A" stroke-width="0.75" stroke-linecap="round"/>
<path d="M140.2 493.4L150.9 490.1" fill="none" stroke="#F6A83A" stroke-width="0.75" stroke-linecap="round"/>
<path d="M147.7 472.6C148.9 465.2 152.5 470.3 155.2 470.1C157.9 469.9 162.3 464.3 164.0 471.4C165.6 478.5 167.9 505.5 165.2 512.7C162.5 519.9 150.6 521.4 147.7 514.7C144.8 508.0 146.4 480.0 147.7 472.6Z" fill="#1F7F86"/>
<path d="M149.7 480.1L160.2 478.9L160.7 490.1L150.2 491.4Z" fill="#E8ECEA" opacity="0.8"/>
<path d="M140.2 514.7L170.2 512.2L171.5 518.9L140.2 520.2Z" fill="#F6A83A"/>
<path d="M139.7 518.9L171.5 517.7L170.7 536.5L138.9 536.5Z" fill="#1F7F86"/>
<path d="M136.4 493.9C136.8 491.8 140.8 490.8 142.7 491.4C144.5 492.0 144.8 497.2 147.7 497.7C150.6 498.1 157.7 493.5 160.2 493.9C162.7 494.3 164.4 498.1 162.7 500.2C161.0 502.2 153.9 505.8 150.2 506.4C146.4 507.0 142.5 506.0 140.2 503.9C137.9 501.8 136.0 496.0 136.4 493.9Z" fill="#F2A070"/>
<path d="M177.7 495.2C177.9 493.1 181.5 491.8 184.0 492.6C186.5 493.5 191.7 497.9 192.7 500.2C193.8 502.5 191.9 505.6 190.2 506.4C188.6 507.3 184.8 507.0 182.7 505.2C180.6 503.3 177.5 497.2 177.7 495.2Z" fill="#F2A070"/>
<path d="M160.2 480.1L173.2 484.1L183.2 477.6L190.2 483.1L180.2 501.4L167.2 506.4Z" fill="#E8742A"/>
<path d="M173.2 484.1L183.2 477.6L190.2 483.1L180.2 501.4Z" fill="#F08A3A"/>
<path d="M173.2 484.1L179.7 501.4" fill="none" stroke="#B8501A" stroke-width="0.63" stroke-linecap="round"/>
<ellipse cx="158.2" cy="491.4" rx="4.0" ry="3.5" fill="#F2A070"/>
<path d="M144.7 457.6C144.8 454.5 145.0 449.3 147.2 446.3C149.3 443.3 153.6 440.6 157.7 439.6C161.7 438.5 167.6 438.5 171.5 440.1C175.3 441.6 178.9 445.5 180.7 448.8C182.5 452.2 182.9 456.6 182.2 460.1C181.5 463.6 179.3 467.4 176.5 469.6C173.6 471.8 169.0 473.0 165.2 473.1C161.4 473.2 157.1 471.4 153.9 470.1C150.8 468.8 148.0 467.2 146.4 465.1C144.9 463.0 144.5 460.7 144.7 457.6Z" fill="#F2A070"/>
<ellipse cx="145.2" cy="453.8" rx="3.0" ry="4.3" fill="#F2A070"/>
<ellipse cx="180.7" cy="462.1" rx="2.8" ry="4.0" fill="#F2A070"/>
<ellipse cx="150.7" cy="460.6" rx="3.0" ry="2.5" fill="#F06A4A" opacity="0.55"/>
<ellipse cx="177.2" cy="462.1" rx="3.0" ry="2.5" fill="#F06A4A" opacity="0.55"/>
<ellipse cx="157.2" cy="451.3" rx="3.8" ry="4.3" fill="#FFFFFF"/>
<ellipse cx="157.7" cy="452.3" rx="2.3" ry="2.8" fill="#3A140C"/>
<ellipse cx="171.5" cy="453.8" rx="3.8" ry="4.3" fill="#FFFFFF"/>
<ellipse cx="171.0" cy="454.8" rx="2.3" ry="2.8" fill="#3A140C"/>
<path d="M153.9 460.6C155.1 459.8 160.5 463.5 164.0 463.9C167.4 464.2 173.5 461.6 174.7 462.6C176.0 463.6 173.3 468.5 171.5 470.1C169.7 471.7 166.3 472.3 164.0 472.1C161.6 471.9 158.9 470.8 157.2 468.9C155.5 466.9 152.8 461.4 153.9 460.6Z" fill="#A8201A"/>
<path d="M154.7 461.1C156.0 461.0 160.7 464.0 164.0 464.4C167.2 464.7 172.5 462.8 174.0 463.1C175.4 463.4 174.4 465.4 172.7 466.1C171.0 466.9 166.7 467.8 164.0 467.6C161.2 467.4 157.7 466.2 156.2 465.1C154.6 464.0 153.4 461.2 154.7 461.1Z" fill="#FFFFFF"/>
<path d="M153.2 446.3L158.9 444.6" fill="none" stroke="#3A140C" stroke-width="1.25" stroke-linecap="round"/>
<path d="M169.0 446.3L175.2 448.1" fill="none" stroke="#3A140C" stroke-width="1.25" stroke-linecap="round"/>
<ellipse cx="164.7" cy="458.1" rx="2.0" ry="1.8" fill="#F0805A"/>
<path d="M143.9 453.8C143.7 450.9 144.3 444.0 146.4 440.1C148.5 436.1 152.5 432.2 156.4 430.1C160.4 427.9 165.6 426.6 170.2 427.0C174.8 427.5 180.6 429.6 184.0 432.6C187.3 435.6 190.2 442.4 190.2 445.1C190.2 447.8 186.3 449.5 184.0 448.8C181.7 448.2 179.4 443.2 176.5 441.3C173.5 439.4 169.6 437.8 166.5 437.6C163.3 437.4 160.2 438.6 157.7 440.1C155.2 441.5 153.1 443.4 151.4 446.3C149.8 449.2 148.9 456.3 147.7 457.6C146.4 458.8 144.1 456.8 143.9 453.8Z" fill="#7A2E1C"/>
<path d="M150.2 442.6C151.8 440.9 156.2 434.4 160.2 432.6C164.2 430.7 169.8 430.3 174.0 431.3C178.1 432.3 183.4 437.6 185.2 438.8" fill="none" stroke="#A84A2A" stroke-width="1.00" opacity="0.8" stroke-linecap="round"/>
<path d="M187.7 452.6C188.5 455.5 191.6 464.5 192.2 470.1C192.9 475.7 191.6 483.7 191.5 486.4" fill="none" stroke="#A84A2A" stroke-width="1.00" opacity="0.7" stroke-linecap="round"/>
<path d="M133.9 472.6L130.7 485.1" fill="none" stroke="#A84A2A" stroke-width="1.00" opacity="0.7" stroke-linecap="round"/>
<path d="M176.5 427.5C177.0 426.3 179.8 424.6 181.5 424.5C183.1 424.5 185.4 425.7 186.5 427.0C187.5 428.4 188.4 431.3 187.7 432.6C187.0 433.8 183.8 434.6 182.2 434.6C180.6 434.5 179.2 433.2 178.2 432.1C177.3 430.9 175.9 428.8 176.5 427.5Z" fill="#F0705A"/>
<path d="M142.2 438.8L140.2 441.3" fill="none" stroke="#7A2E1C" stroke-width="1.00" stroke-linecap="round"/>
<path d="M115.1 535.2L130.2 535.2L128.1 557.7L118.1 557.7Z" fill="#D8342E"/>
<path d="M115.1 535.2L121.4 535.2L123.1 557.7L118.1 557.7Z" fill="#B8201A"/>
<path d="M217.1 532.2L232.6 531.5L234.6 557.7L221.4 557.7Z" fill="#D8342E"/>
<path d="M217.1 532.2L223.1 532.2L226.4 557.7L221.4 557.7Z" fill="#B8201A"/>
<ellipse cx="174.0" cy="526.4" rx="75.1" ry="12.5" fill="#E8902A"/>
<ellipse cx="174.0" cy="523.7" rx="75.1" ry="11.5" fill="#F6B92E"/>
<ellipse cx="170.2" cy="521.4" rx="50.1" ry="7.0" fill="#F9CB4A" opacity="0.8"/>
<path d="M126.4 514.7C128.1 514.0 156.3 510.8 160.2 510.7C164.1 510.5 184.6 512.0 185.2 512.7C185.9 513.3 173.5 519.6 170.2 520.2C166.9 520.8 138.1 521.8 135.2 521.4C132.2 521.1 124.7 515.4 126.4 514.7Z" fill="#F7F0E6"/>
<path d="M132.7 517.2L137.2 516.7" fill="none" stroke="#E8452E" stroke-width="1.00" stroke-linecap="round"/>
<path d="M140.2 516.4L144.7 515.9" fill="none" stroke="#E8452E" stroke-width="1.00" stroke-linecap="round"/>
<path d="M147.7 515.7L152.2 515.2" fill="none" stroke="#E8452E" stroke-width="1.00" stroke-linecap="round"/>
<path d="M155.2 514.9L159.7 514.4" fill="none" stroke="#E8452E" stroke-width="1.00" stroke-linecap="round"/>
<path d="M162.7 514.2L167.2 513.7" fill="none" stroke="#E8452E" stroke-width="1.00" stroke-linecap="round"/>
<path d="M117.6 523.2L135.2 521.4L138.9 525.7L121.4 527.7Z" fill="#2AA0A8"/>
<ellipse cx="128.1" cy="524.4" rx="3.0" ry="1.5" fill="#E03A2A"/>
<path d="M138.9 519.7L153.2 519.7L151.2 528.2L141.2 528.2Z" fill="#D8342E"/>
<path d="M138.2 518.2L153.9 518.2L153.7 520.9L138.4 520.9Z" fill="#E8553A"/>
<ellipse cx="142.2" cy="516.4" rx="2.0" ry="2.0" fill="#7A3AA0"/>
<ellipse cx="145.7" cy="515.2" rx="2.0" ry="2.0" fill="#F6C23A"/>
<ellipse cx="149.7" cy="516.7" rx="2.0" ry="2.0" fill="#E8553A"/>
<ellipse cx="147.7" cy="513.7" rx="2.0" ry="2.0" fill="#2AA0A8"/>
<ellipse cx="156.4" cy="524.7" rx="2.0" ry="1.3" fill="#7A3AA0"/>
<path d="M159.7 512.7C160.3 510.5 160.3 506.9 161.4 505.2C162.6 503.4 165.0 502.0 166.5 502.2C167.9 502.4 169.5 504.5 170.2 506.4C170.9 508.4 170.1 512.1 170.7 513.9C171.3 515.8 176.1 517.0 174.0 517.7C171.8 518.4 160.1 519.0 157.7 518.2C155.3 517.4 159.1 514.8 159.7 512.7Z" fill="#2AA0A8"/>
<ellipse cx="167.2" cy="505.2" rx="2.3" ry="2.3" fill="#F6C23A"/>
<path d="M171.5 521.4C170.8 520.7 173.1 515.7 173.2 514.7C173.3 513.7 172.0 511.9 172.2 511.4C172.5 510.9 175.1 509.6 175.7 509.7C176.3 509.7 178.0 511.6 178.2 512.2C178.4 512.7 177.5 514.2 177.7 515.2C177.9 516.2 180.9 521.6 180.2 522.2C179.6 522.8 172.2 522.2 171.5 521.4Z" fill="#E8452E"/>
<path d="M187.6 523.2C186.7 522.4 190.3 516.4 190.6 515.2C190.8 513.9 189.8 511.4 190.1 510.7C190.3 510.0 192.4 508.2 193.1 508.2C193.7 508.2 196.1 509.9 196.3 510.7C196.6 511.4 195.2 514.4 195.6 515.7C195.9 516.9 200.4 522.4 199.6 523.2C198.8 523.9 188.5 524.0 187.6 523.2Z" fill="#1F6A72"/>
<path d="M188.1 516.4L198.8 515.7" fill="none" stroke="#1F6A72" stroke-width="1.50" stroke-linecap="round"/>
<path d="M177.0 525.7L195.1 519.7L210.1 525.2L187.6 527.7Z" fill="#2AA0A8"/>
<path d="M208.8 522.2L232.6 517.7L236.4 522.7L215.1 529.0Z" fill="#2AA0A8"/>
<path d="M208.8 522.2L215.1 529.0L215.6 532.2L209.6 525.7Z" fill="#1A7A86"/>
<path d="M215.6 521.4L218.1 515.7L221.1 520.7Z" fill="#9A4A22"/>
</g></g>
<g id="ill5"><defs><linearGradient id="g5gr" x1="0" y1="0" x2="0" y2="1"><stop offset="0" stop-color="#F2AE1E"/><stop offset="0.6" stop-color="#F6C85A"/><stop offset="1" stop-color="#FEECD2" stop-opacity="0"/></linearGradient></defs>
<path d="M553.8 541.2 Q655.8 532.2 757.8 541.2 L749.8 550.2 Q655.8 553.2 561.8 550.2 Z" fill="url(#g5gr)"/>
<path d="M595.6 495.6A8.1 8.1 0 0 1 580.1 497.7A8.1 8.1 0 0 1 567.0 491.4A6.9 6.9 0 0 1 562.7 480.3A6.4 6.4 0 0 1 565.7 468.5A9.1 9.1 0 0 1 579.5 462.1A8.5 8.5 0 0 1 594.8 465.0A7.3 7.3 0 0 1 604.7 474.0A6.1 6.1 0 0 1 603.9 485.6A8.0 8.0 0 0 1 595.6 495.6Z" fill="#1C8086"/>
<path d="M600.9 449.3A9.3 9.3 0 0 1 615.9 452.8A5.9 5.9 0 0 1 622.4 461.8A5.9 5.9 0 0 1 622.1 471.4A7.1 7.1 0 0 1 611.8 478.7A8.5 8.5 0 0 1 597.0 478.4A8.3 8.3 0 0 1 582.6 474.2A6.1 6.1 0 0 1 580.9 463.6A6.0 6.0 0 0 1 588.0 455.1A7.4 7.4 0 0 1 600.9 449.3Z" fill="#1C8086"/>
<path d="M623.6 479.7A5.0 5.0 0 0 1 630.7 485.9A4.7 4.7 0 0 1 626.6 493.2A6.0 6.0 0 0 1 618.6 499.1A6.9 6.9 0 0 1 605.8 498.8A6.5 6.5 0 0 1 596.7 493.2A4.9 4.9 0 0 1 594.8 485.3A5.3 5.3 0 0 1 601.7 478.8A6.5 6.5 0 0 1 613.1 476.0A6.3 6.3 0 0 1 623.6 479.7Z" fill="#1C8086"/>
<path d="M560.9 496.4A3.8 3.8 0 0 1 559.1 490.3A3.2 3.2 0 0 1 562.1 485.2A3.8 3.8 0 0 1 568.1 482.3A4.4 4.4 0 0 1 575.6 482.2A4.2 4.2 0 0 1 581.4 486.7A3.4 3.4 0 0 1 580.6 492.9A3.6 3.6 0 0 1 575.8 497.6A4.2 4.2 0 0 1 568.3 498.8A4.8 4.8 0 0 1 560.9 496.4Z" fill="#1C8086"/>
<path d="M752.2 479.6A7.8 7.8 0 0 1 744.4 469.5A7.0 7.0 0 0 1 746.4 458.4A7.1 7.1 0 0 1 756.4 450.7A9.4 9.4 0 0 1 771.2 447.4A9.2 9.2 0 0 1 784.3 454.6A7.1 7.1 0 0 1 786.9 466.5A7.6 7.6 0 0 1 781.6 477.7A8.6 8.6 0 0 1 767.3 482.9A8.6 8.6 0 0 1 752.2 479.6Z" fill="#1C8086"/>
<path d="M758.0 464.7A6.3 6.3 0 0 1 747.4 460.0A5.2 5.2 0 0 1 742.0 452.5A5.0 5.0 0 0 1 741.6 443.1A6.0 6.0 0 0 1 751.1 436.7A6.7 6.7 0 0 1 763.3 437.2A7.0 7.0 0 0 1 773.4 442.6A5.8 5.8 0 0 1 773.4 452.0A5.5 5.5 0 0 1 768.6 459.9A6.6 6.6 0 0 1 758.0 464.7Z" fill="#1C8086"/>
<path d="M739.8 504.9A10.1 10.1 0 0 1 722.3 500.5A7.5 7.5 0 0 1 712.1 492.4A6.6 6.6 0 0 1 718.7 483.8A7.8 7.8 0 0 1 731.6 478.0A10.8 10.8 0 0 1 750.4 476.6A8.9 8.9 0 0 1 765.2 483.1A6.2 6.2 0 0 1 768.8 492.9A7.1 7.1 0 0 1 757.7 500.9A10.8 10.8 0 0 1 739.8 504.9Z" fill="#1C8086"/>
<path d="M729.6 489.4A4.5 4.5 0 0 1 730.9 497.6A6.5 6.5 0 0 1 720.4 504.0A8.4 8.4 0 0 1 704.7 505.5A7.2 7.2 0 0 1 691.9 500.2A5.0 5.0 0 0 1 688.8 492.0A5.0 5.0 0 0 1 694.1 484.3A8.5 8.5 0 0 1 707.3 479.3A9.4 9.4 0 0 1 723.2 481.5A5.4 5.4 0 0 1 729.6 489.4Z" fill="#1C8086"/>
<path d="M756.2 479.8A5.2 5.2 0 0 1 761.4 472.6A6.0 6.0 0 0 1 771.1 470.9A5.6 5.6 0 0 1 779.9 474.2A5.0 5.0 0 0 1 784.1 481.4A4.3 4.3 0 0 1 782.3 489.4A5.4 5.4 0 0 1 774.5 495.0A5.5 5.5 0 0 1 764.1 494.1A5.3 5.3 0 0 1 757.9 487.7A4.3 4.3 0 0 1 756.2 479.8Z" fill="#1C8086"/>
<path d="M772.3 445.9A4.9 4.9 0 0 1 780.8 445.9A4.6 4.6 0 0 1 786.1 451.2A3.4 3.4 0 0 1 786.1 457.6A4.0 4.0 0 0 1 782.0 463.2A4.7 4.7 0 0 1 773.9 464.6A5.1 5.1 0 0 1 765.6 462.5A4.4 4.4 0 0 1 763.3 455.8A3.7 3.7 0 0 1 765.2 449.3A4.7 4.7 0 0 1 772.3 445.9Z" fill="#1C8086"/>
<path d="M697.9 473.1A6.3 6.3 0 0 1 707.7 466.5A9.2 9.2 0 0 1 722.2 462.0A10.5 10.5 0 0 1 739.6 464.7A6.0 6.0 0 0 1 746.3 472.9A5.0 5.0 0 0 1 743.5 481.0A6.9 6.9 0 0 1 732.2 487.8A10.1 10.1 0 0 1 715.0 486.0A7.4 7.4 0 0 1 703.0 481.0A5.4 5.4 0 0 1 697.9 473.1Z" fill="#1C8086"/>
<path d="M685.1 499.8A2.8 2.8 0 0 1 683.1 495.1A2.8 2.8 0 0 1 685.6 490.8A3.4 3.4 0 0 1 690.9 487.9A3.8 3.8 0 0 1 697.3 489.0A3.7 3.7 0 0 1 702.2 492.5A2.8 2.8 0 0 1 702.4 497.9A3.5 3.5 0 0 1 697.7 501.9A3.9 3.9 0 0 1 690.8 502.4A3.7 3.7 0 0 1 685.1 499.8Z" fill="#1C8086"/>
<path d="M597.4 480.6A4.4 4.4 0 0 1 600.2 487.2A4.4 4.4 0 0 1 595.4 493.4A6.2 6.2 0 0 1 585.0 495.3A6.2 6.2 0 0 1 575.1 492.3A4.5 4.5 0 0 1 572.3 485.5A4.9 4.9 0 0 1 577.4 479.5A5.4 5.4 0 0 1 587.6 478.2A5.6 5.6 0 0 1 597.4 480.6Z" fill="#2AA3A3"/>
<path d="M600.5 479.4A3.9 3.9 0 0 1 594.4 475.3A3.5 3.5 0 0 1 593.5 469.8A4.7 4.7 0 0 1 600.7 466.3A4.8 4.8 0 0 1 609.6 466.0A4.8 4.8 0 0 1 617.5 469.5A3.5 3.5 0 0 1 617.1 475.6A4.8 4.8 0 0 1 609.9 479.4A5.1 5.1 0 0 1 600.5 479.4Z" fill="#2AA3A3"/>
<path d="M779.1 459.7A4.1 4.1 0 0 1 778.2 466.9A5.3 5.3 0 0 1 771.7 472.6A5.4 5.4 0 0 1 762.4 470.9A4.8 4.8 0 0 1 755.5 465.7A4.4 4.4 0 0 1 757.3 458.3A4.6 4.6 0 0 1 763.8 453.0A5.0 5.0 0 0 1 773.1 454.2A4.5 4.5 0 0 1 779.1 459.7Z" fill="#2AA3A3"/>
<path d="M745.7 499.6A5.8 5.8 0 0 1 734.8 497.5A3.4 3.4 0 0 1 734.2 491.7A3.9 3.9 0 0 1 738.2 486.4A6.4 6.4 0 0 1 749.9 484.7A5.5 5.5 0 0 1 760.0 488.0A3.3 3.3 0 0 1 761.1 493.6A3.6 3.6 0 0 1 756.6 498.6A6.0 6.0 0 0 1 745.7 499.6Z" fill="#2AA3A3"/>
<path d="M702.4 498.3A2.9 2.9 0 0 1 704.5 493.5A4.5 4.5 0 0 1 711.8 490.9A5.2 5.2 0 0 1 721.3 490.7A4.5 4.5 0 0 1 727.7 494.5A3.1 3.1 0 0 1 726.1 499.4A5.0 5.0 0 0 1 718.4 501.9A5.4 5.4 0 0 1 709.5 501.6A4.1 4.1 0 0 1 702.4 498.3Z" fill="#2AA3A3"/>
<path d="M768.2 444.4A3.5 3.5 0 0 1 772.7 440.4A4.0 4.0 0 0 1 779.6 441.3A3.7 3.7 0 0 1 783.9 445.6A3.0 3.0 0 0 1 782.3 450.8A3.2 3.2 0 0 1 777.3 453.7A3.7 3.7 0 0 1 770.7 454.0A3.3 3.3 0 0 1 766.7 449.5A3.1 3.1 0 0 1 768.2 444.4Z" fill="#2AA3A3"/>
<path d="M623.8 464.6L626.5 461.3" fill="none" stroke="#146068" stroke-width="0.75" opacity="0.9" stroke-linecap="round"/>
<path d="M611.6 467.8L614.9 465.7" fill="none" stroke="#146068" stroke-width="0.75" opacity="0.9" stroke-linecap="round"/>
<path d="M574.7 476.2L579.3 472.6" fill="none" stroke="#146068" stroke-width="0.75" opacity="0.9" stroke-linecap="round"/>
<path d="M581.7 465.5L587.0 462.1" fill="none" stroke="#146068" stroke-width="0.75" opacity="0.9" stroke-linecap="round"/>
<path d="M596.1 481.6L600.8 478.3" fill="none" stroke="#146068" stroke-width="0.75" opacity="0.9" stroke-linecap="round"/>
<path d="M577.1 485.4L580.2 483.3" fill="none" stroke="#146068" stroke-width="0.75" opacity="0.9" stroke-linecap="round"/>
<path d="M592.8 477.3L597.2 474.8" fill="none" stroke="#146068" stroke-width="0.75" opacity="0.9" stroke-linecap="round"/>
<path d="M613.4 476.2L616.4 472.1" fill="none" stroke="#146068" stroke-width="0.75" opacity="0.9" stroke-linecap="round"/>
<path d="M619.0 487.6L623.6 485.0" fill="none" stroke="#146068" stroke-width="0.75" opacity="0.9" stroke-linecap="round"/>
<path d="M617.3 487.5L621.5 483.2" fill="none" stroke="#146068" stroke-width="0.75" opacity="0.9" stroke-linecap="round"/>
<path d="M628.4 473.4L633.8 469.0" fill="none" stroke="#146068" stroke-width="0.75" opacity="0.9" stroke-linecap="round"/>
<path d="M618.3 462.9L621.8 459.4" fill="none" stroke="#146068" stroke-width="0.75" opacity="0.9" stroke-linecap="round"/>
<path d="M607.5 483.4L612.0 481.0" fill="none" stroke="#146068" stroke-width="0.75" opacity="0.9" stroke-linecap="round"/>
<path d="M626.2 477.4L631.3 474.9" fill="none" stroke="#146068" stroke-width="0.75" opacity="0.9" stroke-linecap="round"/>
<path d="M630.0 477.9L634.9 474.0" fill="none" stroke="#146068" stroke-width="0.75" opacity="0.9" stroke-linecap="round"/>
<path d="M623.4 472.6L626.2 469.6" fill="none" stroke="#146068" stroke-width="0.75" opacity="0.9" stroke-linecap="round"/>
<path d="M582.8 477.5L587.8 474.6" fill="none" stroke="#146068" stroke-width="0.75" opacity="0.9" stroke-linecap="round"/>
<path d="M580.1 463.4L583.9 459.9" fill="none" stroke="#146068" stroke-width="0.75" opacity="0.9" stroke-linecap="round"/>
<path d="M574.1 480.9L577.2 478.7" fill="none" stroke="#146068" stroke-width="0.75" opacity="0.9" stroke-linecap="round"/>
<path d="M626.0 477.0L631.2 473.7" fill="none" stroke="#146068" stroke-width="0.75" opacity="0.9" stroke-linecap="round"/>
<path d="M579.6 469.2L583.4 465.6" fill="none" stroke="#146068" stroke-width="0.75" opacity="0.9" stroke-linecap="round"/>
<path d="M617.0 483.3L621.4 480.7" fill="none" stroke="#146068" stroke-width="0.75" opacity="0.9" stroke-linecap="round"/>
<path d="M597.3 473.0L601.3 470.4" fill="none" stroke="#146068" stroke-width="0.75" opacity="0.9" stroke-linecap="round"/>
<path d="M603.5 475.2L606.1 471.2" fill="none" stroke="#146068" stroke-width="0.75" opacity="0.9" stroke-linecap="round"/>
<path d="M606.3 484.7L611.1 480.9" fill="none" stroke="#146068" stroke-width="0.75" opacity="0.9" stroke-linecap="round"/>
<path d="M629.8 473.0L633.5 471.0" fill="none" stroke="#146068" stroke-width="0.75" opacity="0.9" stroke-linecap="round"/>
<path d="M749.9 478.4L754.2 473.9" fill="none" stroke="#146068" stroke-width="0.75" opacity="0.9" stroke-linecap="round"/>
<path d="M707.8 464.2L712.5 460.2" fill="none" stroke="#146068" stroke-width="0.75" opacity="0.9" stroke-linecap="round"/>
<path d="M733.6 457.3L737.2 453.2" fill="none" stroke="#146068" stroke-width="0.75" opacity="0.9" stroke-linecap="round"/>
<path d="M735.1 473.6L738.8 470.0" fill="none" stroke="#146068" stroke-width="0.75" opacity="0.9" stroke-linecap="round"/>
<path d="M744.0 482.9L749.1 479.0" fill="none" stroke="#146068" stroke-width="0.75" opacity="0.9" stroke-linecap="round"/>
<path d="M723.9 465.1L728.7 461.1" fill="none" stroke="#146068" stroke-width="0.75" opacity="0.9" stroke-linecap="round"/>
<path d="M773.7 463.1L778.8 458.8" fill="none" stroke="#146068" stroke-width="0.75" opacity="0.9" stroke-linecap="round"/>
<path d="M697.0 467.4L701.4 465.1" fill="none" stroke="#146068" stroke-width="0.75" opacity="0.9" stroke-linecap="round"/>
<path d="M765.0 465.7L769.5 463.0" fill="none" stroke="#146068" stroke-width="0.75" opacity="0.9" stroke-linecap="round"/>
<path d="M709.7 463.4L713.7 459.6" fill="none" stroke="#146068" stroke-width="0.75" opacity="0.9" stroke-linecap="round"/>
<path d="M709.7 482.6L713.2 479.0" fill="none" stroke="#146068" stroke-width="0.75" opacity="0.9" stroke-linecap="round"/>
<path d="M723.3 462.8L726.2 460.7" fill="none" stroke="#146068" stroke-width="0.75" opacity="0.9" stroke-linecap="round"/>
<path d="M752.8 471.7L755.7 467.5" fill="none" stroke="#146068" stroke-width="0.75" opacity="0.9" stroke-linecap="round"/>
<path d="M749.1 455.9L753.8 452.5" fill="none" stroke="#146068" stroke-width="0.75" opacity="0.9" stroke-linecap="round"/>
<path d="M730.1 475.2L735.5 472.2" fill="none" stroke="#146068" stroke-width="0.75" opacity="0.9" stroke-linecap="round"/>
<path d="M747.4 480.6L751.0 477.7" fill="none" stroke="#146068" stroke-width="0.75" opacity="0.9" stroke-linecap="round"/>
<path d="M758.1 480.6L762.0 477.3" fill="none" stroke="#146068" stroke-width="0.75" opacity="0.9" stroke-linecap="round"/>
<path d="M710.2 486.7L712.8 483.1" fill="none" stroke="#146068" stroke-width="0.75" opacity="0.9" stroke-linecap="round"/>
<path d="M731.1 464.0L735.3 460.5" fill="none" stroke="#146068" stroke-width="0.75" opacity="0.9" stroke-linecap="round"/>
<path d="M697.9 474.7L700.9 470.7" fill="none" stroke="#146068" stroke-width="0.75" opacity="0.9" stroke-linecap="round"/>
<path d="M719.5 468.3L722.7 466.1" fill="none" stroke="#146068" stroke-width="0.75" opacity="0.9" stroke-linecap="round"/>
<path d="M706.9 461.2L711.3 457.0" fill="none" stroke="#146068" stroke-width="0.75" opacity="0.9" stroke-linecap="round"/>
<path d="M710.0 459.6L714.1 457.3" fill="none" stroke="#146068" stroke-width="0.75" opacity="0.9" stroke-linecap="round"/>
<path d="M726.6 485.6L729.7 481.8" fill="none" stroke="#146068" stroke-width="0.75" opacity="0.9" stroke-linecap="round"/>
<path d="M738.6 458.5L741.9 455.0" fill="none" stroke="#146068" stroke-width="0.75" opacity="0.9" stroke-linecap="round"/>
<path d="M698.7 463.3L703.0 459.2" fill="none" stroke="#146068" stroke-width="0.75" opacity="0.9" stroke-linecap="round"/>
<path d="M737.0 481.7L739.5 478.9" fill="none" stroke="#146068" stroke-width="0.75" opacity="0.9" stroke-linecap="round"/>
<path d="M718.7 491.7L722.3 487.7" fill="none" stroke="#146068" stroke-width="0.75" opacity="0.9" stroke-linecap="round"/>
<path d="M693.2 475.1L698.3 471.1" fill="none" stroke="#146068" stroke-width="0.75" opacity="0.9" stroke-linecap="round"/>
<path d="M742.3 462.4L747.6 460.2" fill="none" stroke="#146068" stroke-width="0.75" opacity="0.9" stroke-linecap="round"/>
<path d="M777.0 486.2L781.7 482.9" fill="none" stroke="#146068" stroke-width="0.75" opacity="0.9" stroke-linecap="round"/>
<path d="M704.8 468.8L709.3 465.1" fill="none" stroke="#146068" stroke-width="0.75" opacity="0.9" stroke-linecap="round"/>
<path d="M725.2 487.2L727.8 484.5" fill="none" stroke="#146068" stroke-width="0.75" opacity="0.9" stroke-linecap="round"/>
<path d="M698.2 468.1L703.1 464.2" fill="none" stroke="#146068" stroke-width="0.75" opacity="0.9" stroke-linecap="round"/>
<path d="M681.5 484.2A6.0 6.0 0 0 1 671.3 486.4A6.2 6.2 0 0 1 660.3 486.0A5.3 5.3 0 0 1 652.9 479.5A4.7 4.7 0 0 1 651.4 471.5A4.6 4.6 0 0 1 654.8 463.8A5.6 5.6 0 0 1 663.0 457.7A6.2 6.2 0 0 1 674.6 458.3A6.7 6.7 0 0 1 684.9 461.9A5.2 5.2 0 0 1 690.1 469.5A4.6 4.6 0 0 1 688.6 477.9A5.0 5.0 0 0 1 681.5 484.2Z" fill="#1C8086"/>
<path d="M644.3 475.5A6.0 6.0 0 0 1 634.5 473.9A5.4 5.4 0 0 1 626.0 470.4A4.1 4.1 0 0 1 623.7 463.6A3.9 3.9 0 0 1 624.4 456.6A5.3 5.3 0 0 1 631.8 451.9A5.9 5.9 0 0 1 641.3 449.7A5.2 5.2 0 0 1 650.5 452.6A4.7 4.7 0 0 1 656.0 458.2A4.0 4.0 0 0 1 656.5 465.0A4.4 4.4 0 0 1 652.8 471.4A5.8 5.8 0 0 1 644.3 475.5Z" fill="#1C8086"/>
<path d="M707.2 465.3A4.8 4.8 0 0 1 713.8 470.3A4.1 4.1 0 0 1 710.9 476.6A4.5 4.5 0 0 1 705.1 481.5A5.8 5.8 0 0 1 696.2 484.7A5.8 5.8 0 0 1 687.1 481.7A4.9 4.9 0 0 1 680.1 477.7A4.1 4.1 0 0 1 677.6 471.6A4.1 4.1 0 0 1 682.2 466.0A5.0 5.0 0 0 1 689.8 462.5A5.6 5.6 0 0 1 699.5 461.2A5.4 5.4 0 0 1 707.2 465.3Z" fill="#1C8086"/>
<path d="M631.4 542.2C629.1 540.7 638.7 533.4 640.2 530.2C641.6 527.1 643.7 519.0 643.9 515.2C644.2 511.4 643.2 501.2 642.2 497.7C641.1 494.2 637.4 487.6 635.2 485.1C632.9 482.7 626.1 477.8 622.6 476.4C619.1 474.9 609.3 473.4 605.1 472.6C600.9 471.8 588.6 470.6 586.3 469.6C584.1 468.7 583.4 465.4 585.6 464.6C587.8 463.9 600.5 463.1 605.1 463.1C609.7 463.2 621.1 464.3 625.1 465.1C629.2 465.9 637.5 468.4 640.2 470.1C642.8 471.9 645.9 479.8 647.7 480.1C649.4 480.4 653.7 474.4 655.2 472.6C656.6 470.9 658.4 464.8 660.2 465.1C661.9 465.4 668.5 472.2 670.2 475.1C672.0 478.0 673.8 489.6 675.2 490.2C676.7 490.7 681.0 482.2 682.7 480.1C684.5 478.1 687.5 474.4 690.1 472.6C692.7 470.9 701.9 466.4 705.1 465.1C708.3 463.8 716.0 461.4 717.6 461.4C719.2 461.4 720.0 463.9 718.9 465.1C717.7 466.3 710.2 469.6 707.6 471.4C705.0 473.1 698.7 477.4 696.3 480.1C694.0 482.9 688.9 491.1 687.6 495.2C686.2 499.2 684.4 510.8 684.6 515.2C684.7 519.6 687.3 529.5 688.8 532.7C690.3 535.9 698.6 541.9 697.6 542.7C696.6 543.6 684.6 540.2 680.2 540.2C675.9 540.3 665.9 543.0 660.2 543.2C654.5 543.5 633.7 543.7 631.4 542.2Z" fill="#C0621E"/>
<path d="M647.7 540.2C646.4 536.9 652.1 526.9 652.7 520.2C653.3 513.5 652.6 505.8 651.4 500.2C650.3 494.5 645.5 488.9 645.7 486.4C645.9 483.9 650.3 482.4 652.7 485.1C655.1 487.9 658.5 496.4 660.2 502.7C661.9 508.9 662.7 516.4 662.7 522.7C662.7 529.0 662.7 537.3 660.2 540.2C657.7 543.1 648.9 543.6 647.7 540.2Z" fill="#E38F34" opacity="0.85"/>
<path d="M667.5 540.2C665.4 536.9 670.5 526.5 671.3 520.2C672.1 513.9 671.1 508.5 672.5 502.7C674.0 496.8 677.8 488.5 680.1 485.1C682.3 481.8 686.1 479.7 686.3 482.6C686.5 485.6 682.3 496.4 681.3 502.7C680.3 508.9 679.6 513.9 680.1 520.2C680.5 526.5 685.9 536.9 683.8 540.2C681.7 543.6 669.6 543.6 667.5 540.2Z" fill="#8A3A14" opacity="0.7"/>
<path d="M655.0 540.2C653.6 536.1 656.5 521.9 657.5 515.2C658.6 508.5 659.8 502.3 661.3 500.2C662.7 498.1 665.7 499.3 666.3 502.7C666.9 506.0 665.0 513.9 665.0 520.2C665.0 526.5 667.9 536.9 666.3 540.2C664.6 543.6 656.5 544.4 655.0 540.2Z" fill="#D87628" opacity="0.8"/>
<path d="M642.7 540.2C643.0 536.9 644.6 526.5 644.7 520.2C644.8 513.9 643.4 505.6 643.2 502.7" fill="none" stroke="#8A3A14" stroke-width="0.63" opacity="0.6" stroke-linecap="round"/>
<path d="M648.7 540.2C649.0 536.9 650.6 526.5 650.7 520.2C650.8 513.9 649.4 505.6 649.2 502.7" fill="none" stroke="#8A3A14" stroke-width="0.63" opacity="0.6" stroke-linecap="round"/>
<path d="M654.7 540.2C655.0 536.9 656.6 526.5 656.7 520.2C656.8 513.9 655.4 505.6 655.2 502.7" fill="none" stroke="#8A3A14" stroke-width="0.63" opacity="0.6" stroke-linecap="round"/>
<path d="M660.7 540.2C661.0 536.9 662.6 526.5 662.7 520.2C662.8 513.9 661.4 505.6 661.2 502.7" fill="none" stroke="#8A3A14" stroke-width="0.63" opacity="0.6" stroke-linecap="round"/>
<path d="M666.7 540.2C667.0 536.9 668.6 526.5 668.7 520.2C668.8 513.9 667.5 505.6 667.2 502.7" fill="none" stroke="#8A3A14" stroke-width="0.63" opacity="0.6" stroke-linecap="round"/>
<path d="M672.7 540.2C673.0 536.9 674.6 526.5 674.7 520.2C674.8 513.9 673.5 505.6 673.2 502.7" fill="none" stroke="#8A3A14" stroke-width="0.63" opacity="0.6" stroke-linecap="round"/>
<path d="M678.7 540.2C679.1 536.9 680.6 526.5 680.7 520.2C680.8 513.9 679.5 505.6 679.2 502.7" fill="none" stroke="#8A3A14" stroke-width="0.63" opacity="0.6" stroke-linecap="round"/>
<path d="M684.7 540.2C685.1 536.9 686.7 526.5 686.7 520.2C686.8 513.9 685.5 505.6 685.2 502.7" fill="none" stroke="#8A3A14" stroke-width="0.63" opacity="0.6" stroke-linecap="round"/>
<ellipse cx="618.1" cy="471.6" rx="5.0" ry="3.5" fill="#8A3A14" transform="rotate(30.0 618.1 471.6)"/>
<ellipse cx="618.1" cy="471.6" rx="2.8" ry="1.8" fill="#5A240C" transform="rotate(30.0 618.1 471.6)"/>
<path d="M640.2 472.6C639.3 470.1 637.2 461.8 635.2 457.6C633.1 453.4 628.9 449.3 627.6 447.6" fill="none" stroke="#C0621E" stroke-width="2.50" stroke-linecap="round"/>
<path d="M635.2 457.6C636.0 455.3 639.7 448.0 640.2 443.8C640.7 439.7 638.5 434.4 638.2 432.6" fill="none" stroke="#C0621E" stroke-width="2.00" stroke-linecap="round"/>
<path d="M698.8 475.1C698.2 473.0 695.3 466.4 695.1 462.6C694.9 458.9 697.2 454.3 697.6 452.6" fill="none" stroke="#C0621E" stroke-width="2.50" stroke-linecap="round"/>
<path d="M715.1 463.9C716.8 462.8 722.0 459.0 725.1 457.6C728.2 456.2 732.4 455.9 733.9 455.6" fill="none" stroke="#C0621E" stroke-width="1.75" stroke-linecap="round"/>
<path d="M605.1 465.1C604.3 463.4 602.2 457.6 600.1 455.1C598.0 452.6 593.8 450.9 592.6 450.1" fill="none" stroke="#C0621E" stroke-width="1.75" stroke-linecap="round"/>
<path d="M550.3 464.1A6.3 6.3 0 0 1 561.9 460.8A6.9 6.9 0 0 1 573.0 464.9A5.2 5.2 0 0 1 579.0 472.6A5.2 5.2 0 0 1 579.6 481.7A5.7 5.7 0 0 1 571.7 488.5A6.3 6.3 0 0 1 560.8 490.6A6.5 6.5 0 0 1 550.1 487.9A5.8 5.8 0 0 1 542.4 480.9A5.4 5.4 0 0 1 541.7 471.2A6.6 6.6 0 0 1 550.3 464.1Z" fill="#DE8C0A"/>
<path d="M575.1 484.3A6.1 6.1 0 0 1 565.5 489.4A7.6 7.6 0 0 1 553.2 488.9A6.4 6.4 0 0 1 543.4 482.9A5.3 5.3 0 0 1 543.2 473.8A5.4 5.4 0 0 1 546.8 465.5A6.2 6.2 0 0 1 557.4 461.8A7.1 7.1 0 0 1 569.2 461.7A5.8 5.8 0 0 1 578.8 467.5A4.9 4.9 0 0 1 579.0 476.4A4.7 4.7 0 0 1 575.1 484.3Z" fill="#F4B414"/>
<path d="M552.4 478.0A4.1 4.1 0 0 1 548.4 472.5A4.0 4.0 0 0 1 550.5 466.1A5.1 5.1 0 0 1 559.8 464.9A5.2 5.2 0 0 1 567.9 468.1A3.6 3.6 0 0 1 568.5 474.9A5.2 5.2 0 0 1 561.7 479.8A5.2 5.2 0 0 1 552.4 478.0Z" fill="#F9CA38"/>
<path d="M579.8 458.0A6.7 6.7 0 0 1 569.1 455.2A7.0 7.0 0 0 1 561.4 446.9A6.0 6.0 0 0 1 561.4 435.6A7.2 7.2 0 0 1 568.9 426.7A7.3 7.3 0 0 1 580.4 423.5A6.5 6.5 0 0 1 590.7 428.4A6.2 6.2 0 0 1 597.3 436.7A6.2 6.2 0 0 1 597.0 447.0A5.8 5.8 0 0 1 590.6 455.6A6.5 6.5 0 0 1 579.8 458.0Z" fill="#DE8C0A"/>
<path d="M599.0 438.1A6.3 6.3 0 0 1 596.8 448.5A5.8 5.8 0 0 1 587.0 453.5A6.0 6.0 0 0 1 576.5 456.3A5.8 5.8 0 0 1 567.0 450.9A6.2 6.2 0 0 1 561.0 442.1A6.0 6.0 0 0 1 565.4 432.8A5.4 5.4 0 0 1 572.5 425.5A6.6 6.6 0 0 1 583.3 425.5A6.8 6.8 0 0 1 593.9 428.6A6.1 6.1 0 0 1 599.0 438.1Z" fill="#F4B414"/>
<path d="M568.3 432.8A5.0 5.0 0 0 1 575.1 427.9A4.8 4.8 0 0 1 583.6 430.0A4.0 4.0 0 0 1 587.4 436.7A4.8 4.8 0 0 1 583.8 443.7A4.7 4.7 0 0 1 575.0 444.5A4.5 4.5 0 0 1 568.3 440.1A4.0 4.0 0 0 1 568.3 432.8Z" fill="#F9CA38"/>
<path d="M603.6 447.2A7.6 7.6 0 0 1 591.4 444.0A6.0 6.0 0 0 1 586.1 435.1A5.5 5.5 0 0 1 585.5 425.4A6.8 6.8 0 0 1 594.9 419.0A7.0 7.0 0 0 1 606.5 416.7A6.6 6.6 0 0 1 618.0 419.9A6.0 6.0 0 0 1 624.6 427.9A5.7 5.7 0 0 1 624.1 437.5A6.3 6.3 0 0 1 615.8 444.7A7.4 7.4 0 0 1 603.6 447.2Z" fill="#DE8C0A"/>
<path d="M590.4 418.2A7.2 7.2 0 0 1 603.0 416.0A7.2 7.2 0 0 1 615.4 416.8A6.4 6.4 0 0 1 625.1 423.4A5.3 5.3 0 0 1 625.0 433.1A6.2 6.2 0 0 1 619.7 441.8A7.4 7.4 0 0 1 607.2 443.7A7.3 7.3 0 0 1 594.7 443.5A5.6 5.6 0 0 1 587.5 435.9A5.2 5.2 0 0 1 584.4 426.9A6.5 6.5 0 0 1 590.4 418.2Z" fill="#F4B414"/>
<path d="M605.3 434.6A5.8 5.8 0 0 1 595.1 433.7A4.4 4.4 0 0 1 590.3 427.4A4.4 4.4 0 0 1 594.0 420.8A6.0 6.0 0 0 1 603.9 418.2A5.3 5.3 0 0 1 612.5 422.6A4.1 4.1 0 0 1 612.2 429.6A4.8 4.8 0 0 1 605.3 434.6Z" fill="#F9CA38"/>
<path d="M629.4 446.4A4.3 4.3 0 0 1 626.0 452.6A4.4 4.4 0 0 1 618.2 455.6A5.1 5.1 0 0 1 609.0 455.9A5.0 5.0 0 0 1 601.2 451.5A4.2 4.2 0 0 1 599.2 444.2A4.4 4.4 0 0 1 603.7 437.8A4.7 4.7 0 0 1 611.7 433.7A5.6 5.6 0 0 1 621.0 435.1A5.2 5.2 0 0 1 628.1 439.6A3.7 3.7 0 0 1 629.4 446.4Z" fill="#DE8C0A"/>
<path d="M620.6 453.0A5.4 5.4 0 0 1 611.8 454.4A4.6 4.6 0 0 1 604.9 450.2A4.4 4.4 0 0 1 600.2 444.8A4.0 4.0 0 0 1 603.6 438.9A4.0 4.0 0 0 1 609.4 434.2A5.1 5.1 0 0 1 618.4 433.4A5.1 5.1 0 0 1 626.2 436.9A3.7 3.7 0 0 1 628.3 443.0A3.4 3.4 0 0 1 628.4 449.5A4.6 4.6 0 0 1 620.6 453.0Z" fill="#F4B414"/>
<path d="M616.1 446.8A3.9 3.9 0 0 1 608.9 446.6A3.2 3.2 0 0 1 604.9 442.6A2.7 2.7 0 0 1 606.8 438.0A3.7 3.7 0 0 1 613.3 435.5A3.7 3.7 0 0 1 619.3 438.4A2.7 2.7 0 0 1 621.0 443.1A3.4 3.4 0 0 1 616.1 446.8Z" fill="#F9CA38"/>
<path d="M564.8 445.9A3.9 3.9 0 0 1 571.5 443.6A4.0 4.0 0 0 1 578.0 446.2A3.4 3.4 0 0 1 581.2 451.4A3.3 3.3 0 0 1 582.3 457.4A3.7 3.7 0 0 1 577.6 462.1A4.0 4.0 0 0 1 571.1 464.5A4.4 4.4 0 0 1 564.0 462.7A4.0 4.0 0 0 1 560.6 457.0A3.7 3.7 0 0 1 561.2 451.0A3.8 3.8 0 0 1 564.8 445.9Z" fill="#DE8C0A"/>
<path d="M562.0 457.6A3.4 3.4 0 0 1 561.5 452.0A3.4 3.4 0 0 1 562.7 446.4A3.7 3.7 0 0 1 568.6 443.4A3.7 3.7 0 0 1 575.2 444.5A3.8 3.8 0 0 1 580.3 447.8A3.4 3.4 0 0 1 581.6 453.2A3.1 3.1 0 0 1 580.0 458.8A3.7 3.7 0 0 1 573.9 461.3A4.1 4.1 0 0 1 567.1 461.5A3.8 3.8 0 0 1 562.0 457.6Z" fill="#F4B414"/>
<path d="M568.4 455.4A3.0 3.0 0 0 1 563.7 453.0A2.6 2.6 0 0 1 564.5 448.7A2.9 2.9 0 0 1 568.2 446.0A2.9 2.9 0 0 1 573.5 446.5A2.6 2.6 0 0 1 576.2 450.5A2.6 2.6 0 0 1 573.8 454.7A3.3 3.3 0 0 1 568.4 455.4Z" fill="#F9CA38"/>
<path d="M673.0 449.7A6.6 6.6 0 0 1 661.6 454.4A7.3 7.3 0 0 1 650.2 450.1A6.1 6.1 0 0 1 641.4 443.7A5.9 5.9 0 0 1 640.9 434.0A6.5 6.5 0 0 1 646.4 425.0A7.2 7.2 0 0 1 658.9 422.4A6.8 6.8 0 0 1 670.7 424.8A6.2 6.2 0 0 1 680.0 431.7A5.5 5.5 0 0 1 680.3 441.8A5.8 5.8 0 0 1 673.0 449.7Z" fill="#DE8C0A"/>
<path d="M670.0 449.1A6.4 6.4 0 0 1 658.2 449.2A7.0 7.0 0 0 1 647.1 446.9A6.0 6.0 0 0 1 641.2 439.2A5.3 5.3 0 0 1 642.1 430.2A6.4 6.4 0 0 1 650.7 423.9A6.6 6.6 0 0 1 662.5 421.2A6.4 6.4 0 0 1 672.5 426.3A5.0 5.0 0 0 1 677.5 433.7A4.8 4.8 0 0 1 677.8 442.3A5.8 5.8 0 0 1 670.0 449.1Z" fill="#F4B414"/>
<path d="M646.1 434.3A3.9 3.9 0 0 1 649.9 428.4A5.1 5.1 0 0 1 658.1 425.5A5.0 5.0 0 0 1 665.6 429.2A4.3 4.3 0 0 1 668.5 435.7A5.0 5.0 0 0 1 661.1 440.5A5.2 5.2 0 0 1 651.6 439.9A4.6 4.6 0 0 1 646.1 434.3Z" fill="#F9CA38"/>
<path d="M648.7 453.0A4.1 4.1 0 0 1 643.4 457.7A4.5 4.5 0 0 1 636.4 460.4A4.6 4.6 0 0 1 629.6 457.4A3.8 3.8 0 0 1 624.4 452.8A3.8 3.8 0 0 1 625.3 446.5A3.9 3.9 0 0 1 629.8 441.9A4.2 4.2 0 0 1 636.4 439.6A4.3 4.3 0 0 1 644.2 440.6A3.9 3.9 0 0 1 648.0 446.5A3.9 3.9 0 0 1 648.7 453.0Z" fill="#DE8C0A"/>
<path d="M636.4 457.6A4.5 4.5 0 0 1 629.2 456.0A3.7 3.7 0 0 1 624.4 451.2A3.5 3.5 0 0 1 625.6 445.2A3.6 3.6 0 0 1 629.2 440.1A4.0 4.0 0 0 1 636.5 439.0A4.2 4.2 0 0 1 643.0 440.8A3.4 3.4 0 0 1 647.7 445.2A3.3 3.3 0 0 1 648.0 451.2A3.5 3.5 0 0 1 643.5 456.1A4.3 4.3 0 0 1 636.4 457.6Z" fill="#F4B414"/>
<path d="M631.0 441.9A3.6 3.6 0 0 1 636.8 440.7A2.9 2.9 0 0 1 641.1 444.1A2.5 2.5 0 0 1 640.1 448.5A3.1 3.1 0 0 1 635.5 451.6A3.8 3.8 0 0 1 629.5 450.0A2.6 2.6 0 0 1 628.0 445.5A2.6 2.6 0 0 1 631.0 441.9Z" fill="#F9CA38"/>
<path d="M711.7 457.3A8.2 8.2 0 0 1 697.3 455.1A8.1 8.1 0 0 1 684.2 450.6A5.4 5.4 0 0 1 682.2 440.9A5.3 5.3 0 0 1 686.5 431.9A7.0 7.0 0 0 1 698.4 425.7A8.6 8.6 0 0 1 713.0 427.8A7.5 7.5 0 0 1 724.8 433.1A6.1 6.1 0 0 1 729.2 442.3A5.6 5.6 0 0 1 723.8 451.3A7.9 7.9 0 0 1 711.7 457.3Z" fill="#DE8C0A"/>
<path d="M683.4 444.2A5.6 5.6 0 0 1 682.4 435.2A7.3 7.3 0 0 1 692.1 428.4A7.7 7.7 0 0 1 705.5 426.1A7.5 7.5 0 0 1 719.1 428.5A6.1 6.1 0 0 1 725.3 436.2A5.0 5.0 0 0 1 727.9 445.0A6.2 6.2 0 0 1 718.1 451.7A7.3 7.3 0 0 1 704.7 453.0A7.5 7.5 0 0 1 691.5 451.3A6.3 6.3 0 0 1 683.4 444.2Z" fill="#F4B414"/>
<path d="M713.0 440.0A5.3 5.3 0 0 1 704.9 444.7A6.7 6.7 0 0 1 694.0 442.9A4.2 4.2 0 0 1 689.3 437.2A4.5 4.5 0 0 1 692.8 430.9A6.8 6.8 0 0 1 704.0 429.5A6.0 6.0 0 0 1 713.4 433.3A3.8 3.8 0 0 1 713.0 440.0Z" fill="#F9CA38"/>
<path d="M671.9 447.2A5.1 5.1 0 0 1 681.0 444.1A6.1 6.1 0 0 1 691.8 443.0A5.7 5.7 0 0 1 700.5 447.7A4.5 4.5 0 0 1 703.2 454.8A4.5 4.5 0 0 1 699.4 461.6A6.2 6.2 0 0 1 689.5 465.0A6.3 6.3 0 0 1 678.2 465.4A5.5 5.5 0 0 1 670.5 460.1A4.8 4.8 0 0 1 666.2 453.4A4.9 4.9 0 0 1 671.9 447.2Z" fill="#DE8C0A"/>
<path d="M702.0 454.0A4.8 4.8 0 0 1 696.0 459.0A4.6 4.6 0 0 1 688.0 462.3A5.6 5.6 0 0 1 678.4 461.2A5.2 5.2 0 0 1 669.7 457.7A3.7 3.7 0 0 1 669.5 451.3A3.6 3.6 0 0 1 672.5 445.2A5.2 5.2 0 0 1 682.3 443.3A5.1 5.1 0 0 1 691.8 443.8A5.6 5.6 0 0 1 700.2 447.5A3.8 3.8 0 0 1 702.0 454.0Z" fill="#F4B414"/>
<path d="M675.6 447.0A4.3 4.3 0 0 1 682.7 444.6A4.8 4.8 0 0 1 690.6 446.8A2.7 2.7 0 0 1 691.2 451.7A3.7 3.7 0 0 1 686.5 455.7A4.8 4.8 0 0 1 677.7 455.6A4.0 4.0 0 0 1 672.2 451.5A3.3 3.3 0 0 1 675.6 447.0Z" fill="#F9CA38"/>
<path d="M736.9 449.4A4.6 4.6 0 0 1 733.3 456.4A4.3 4.3 0 0 1 727.4 461.2A5.0 5.0 0 0 1 719.4 462.1A4.3 4.3 0 0 1 712.4 458.2A4.8 4.8 0 0 1 708.5 451.2A4.6 4.6 0 0 1 711.6 444.1A4.5 4.5 0 0 1 717.4 438.7A4.5 4.5 0 0 1 725.9 438.4A4.7 4.7 0 0 1 732.7 442.7A4.8 4.8 0 0 1 736.9 449.4Z" fill="#DE8C0A"/>
<path d="M714.6 458.4A4.6 4.6 0 0 1 710.1 452.4A3.7 3.7 0 0 1 711.1 445.6A4.2 4.2 0 0 1 714.4 439.0A4.7 4.7 0 0 1 722.6 437.8A4.8 4.8 0 0 1 730.3 439.6A4.6 4.6 0 0 1 735.6 445.1A4.4 4.4 0 0 1 735.9 452.6A4.8 4.8 0 0 1 730.8 458.6A4.6 4.6 0 0 1 722.6 460.0A4.6 4.6 0 0 1 714.6 458.4Z" fill="#F4B414"/>
<path d="M726.4 450.0A3.2 3.2 0 0 1 720.7 452.2A3.6 3.6 0 0 1 714.6 450.5A3.1 3.1 0 0 1 713.7 445.2A3.1 3.1 0 0 1 716.9 440.4A4.2 4.2 0 0 1 723.7 440.6A3.3 3.3 0 0 1 727.7 444.8A3.0 3.0 0 0 1 726.4 450.0Z" fill="#F9CA38"/>
<path d="M752.6 450.9A6.1 6.1 0 0 1 743.6 444.5A7.0 7.0 0 0 1 737.5 433.6A7.5 7.5 0 0 1 742.2 422.0A6.4 6.4 0 0 1 749.5 413.4A6.2 6.2 0 0 1 760.4 411.4A6.8 6.8 0 0 1 769.8 418.2A6.7 6.7 0 0 1 773.6 429.7A7.1 7.1 0 0 1 771.7 441.9A6.0 6.0 0 0 1 762.9 448.7A6.1 6.1 0 0 1 752.6 450.9Z" fill="#DE8C0A"/>
<path d="M739.3 425.4A7.3 7.3 0 0 1 744.6 414.8A6.8 6.8 0 0 1 755.1 410.4A6.3 6.3 0 0 1 766.3 412.8A6.3 6.3 0 0 1 771.5 423.4A6.4 6.4 0 0 1 774.4 434.9A6.9 6.9 0 0 1 767.3 444.2A6.2 6.2 0 0 1 757.6 448.3A5.5 5.5 0 0 1 747.4 445.8A6.0 6.0 0 0 1 739.3 437.6A7.6 7.6 0 0 1 739.3 425.4Z" fill="#F4B414"/>
<path d="M749.0 433.9A4.4 4.4 0 0 1 744.0 427.2A4.6 4.6 0 0 1 747.2 419.4A5.1 5.1 0 0 1 754.8 415.3A5.2 5.2 0 0 1 762.0 420.4A5.0 5.0 0 0 1 763.2 429.3A5.1 5.1 0 0 1 757.3 436.3A5.0 5.0 0 0 1 749.0 433.9Z" fill="#F9CA38"/>
<path d="M754.7 459.7A4.5 4.5 0 0 1 755.0 467.6A4.5 4.5 0 0 1 749.8 474.3A5.0 5.0 0 0 1 740.6 475.2A4.9 4.9 0 0 1 732.8 473.1A5.1 5.1 0 0 1 725.8 468.4A4.0 4.0 0 0 1 727.0 461.0A4.7 4.7 0 0 1 731.2 454.7A4.9 4.9 0 0 1 739.6 452.3A5.5 5.5 0 0 1 748.9 453.4A5.0 5.0 0 0 1 754.7 459.7Z" fill="#DE8C0A"/>
<path d="M748.8 454.1A3.9 3.9 0 0 1 752.3 460.0A4.1 4.1 0 0 1 753.2 466.5A4.4 4.4 0 0 1 748.2 472.3A5.2 5.2 0 0 1 739.5 473.4A4.7 4.7 0 0 1 731.0 471.7A4.1 4.1 0 0 1 727.0 465.5A3.8 3.8 0 0 1 727.6 458.8A4.1 4.1 0 0 1 732.8 453.7A4.2 4.2 0 0 1 740.8 452.2A5.0 5.0 0 0 1 748.8 454.1Z" fill="#F4B414"/>
<path d="M743.6 464.6A3.8 3.8 0 0 1 736.8 466.6A3.5 3.5 0 0 1 731.4 463.1A3.0 3.0 0 0 1 730.9 458.2A3.2 3.2 0 0 1 735.6 454.7A4.0 4.0 0 0 1 742.4 455.2A3.6 3.6 0 0 1 746.5 459.6A3.0 3.0 0 0 1 743.6 464.6Z" fill="#F9CA38"/>
<path d="M757.9 443.8A4.6 4.6 0 0 1 754.4 451.1A4.4 4.4 0 0 1 747.0 454.3A4.2 4.2 0 0 1 739.4 452.5A3.9 3.9 0 0 1 734.8 446.6A3.9 3.9 0 0 1 732.9 439.4A4.0 4.0 0 0 1 737.1 433.3A4.5 4.5 0 0 1 743.4 429.7A3.8 3.8 0 0 1 750.4 431.5A4.4 4.4 0 0 1 756.3 436.1A4.5 4.5 0 0 1 757.9 443.8Z" fill="#DE8C0A"/>
<path d="M735.4 434.3A4.3 4.3 0 0 1 740.2 428.6A4.6 4.6 0 0 1 748.1 428.4A3.9 3.9 0 0 1 754.0 432.8A3.8 3.8 0 0 1 756.9 439.2A4.1 4.1 0 0 1 756.1 446.5A4.1 4.1 0 0 1 749.4 449.9A4.0 4.0 0 0 1 742.2 451.9A4.5 4.5 0 0 1 735.9 447.7A4.1 4.1 0 0 1 733.1 441.0A4.2 4.2 0 0 1 735.4 434.3Z" fill="#F4B414"/>
<path d="M737.5 441.8A3.1 3.1 0 0 1 736.9 436.3A3.2 3.2 0 0 1 740.3 432.0A3.2 3.2 0 0 1 746.1 432.0A3.3 3.3 0 0 1 750.3 436.1A3.4 3.4 0 0 1 748.3 441.1A3.0 3.0 0 0 1 743.3 443.8A3.8 3.8 0 0 1 737.5 441.8Z" fill="#F9CA38"/>
<path d="M623.0 435.8L621.3 440.8" fill="none" stroke="#DE8C0A" stroke-width="0.63" opacity="0.8" stroke-linecap="round"/>
<path d="M622.7 420.1L623.7 425.9" fill="none" stroke="#DE8C0A" stroke-width="0.63" opacity="0.8" stroke-linecap="round"/>
<path d="M567.6 441.2L566.2 445.0" fill="none" stroke="#DE8C0A" stroke-width="0.63" opacity="0.8" stroke-linecap="round"/>
<path d="M594.0 430.5L594.6 435.6" fill="none" stroke="#DE8C0A" stroke-width="0.63" opacity="0.8" stroke-linecap="round"/>
<path d="M575.0 452.3L573.0 458.2" fill="none" stroke="#DE8C0A" stroke-width="0.63" opacity="0.8" stroke-linecap="round"/>
<path d="M578.4 451.6L578.8 456.4" fill="none" stroke="#DE8C0A" stroke-width="0.63" opacity="0.8" stroke-linecap="round"/>
<path d="M574.1 450.1L575.5 456.5" fill="none" stroke="#DE8C0A" stroke-width="0.63" opacity="0.8" stroke-linecap="round"/>
<path d="M598.4 452.5L600.0 458.0" fill="none" stroke="#DE8C0A" stroke-width="0.63" opacity="0.8" stroke-linecap="round"/>
<path d="M582.1 441.2L581.5 447.2" fill="none" stroke="#DE8C0A" stroke-width="0.63" opacity="0.8" stroke-linecap="round"/>
<path d="M596.0 450.4L597.6 456.2" fill="none" stroke="#DE8C0A" stroke-width="0.63" opacity="0.8" stroke-linecap="round"/>
<path d="M573.3 431.8L571.6 436.3" fill="none" stroke="#DE8C0A" stroke-width="0.63" opacity="0.8" stroke-linecap="round"/>
<path d="M570.3 430.6L571.5 434.4" fill="none" stroke="#DE8C0A" stroke-width="0.63" opacity="0.8" stroke-linecap="round"/>
<path d="M619.8 452.4L620.9 456.6" fill="none" stroke="#DE8C0A" stroke-width="0.63" opacity="0.8" stroke-linecap="round"/>
<path d="M579.0 436.1L579.4 442.4" fill="none" stroke="#DE8C0A" stroke-width="0.63" opacity="0.8" stroke-linecap="round"/>
<path d="M561.4 423.1L562.7 426.6" fill="none" stroke="#DE8C0A" stroke-width="0.63" opacity="0.8" stroke-linecap="round"/>
<path d="M618.2 426.6L620.1 431.5" fill="none" stroke="#DE8C0A" stroke-width="0.63" opacity="0.8" stroke-linecap="round"/>
<path d="M599.5 449.0L600.8 453.7" fill="none" stroke="#DE8C0A" stroke-width="0.63" opacity="0.8" stroke-linecap="round"/>
<path d="M590.0 447.7L589.0 452.1" fill="none" stroke="#DE8C0A" stroke-width="0.63" opacity="0.8" stroke-linecap="round"/>
<path d="M616.7 451.0L618.1 455.5" fill="none" stroke="#DE8C0A" stroke-width="0.63" opacity="0.8" stroke-linecap="round"/>
<path d="M582.4 423.7L583.7 427.4" fill="none" stroke="#DE8C0A" stroke-width="0.63" opacity="0.8" stroke-linecap="round"/>
<path d="M572.0 420.9L571.8 427.4" fill="none" stroke="#DE8C0A" stroke-width="0.63" opacity="0.8" stroke-linecap="round"/>
<path d="M564.6 428.9L563.7 434.5" fill="none" stroke="#DE8C0A" stroke-width="0.63" opacity="0.8" stroke-linecap="round"/>
<path d="M704.1 425.8L704.9 432.0" fill="none" stroke="#DE8C0A" stroke-width="0.63" opacity="0.8" stroke-linecap="round"/>
<path d="M684.5 420.5L684.1 426.9" fill="none" stroke="#DE8C0A" stroke-width="0.63" opacity="0.8" stroke-linecap="round"/>
<path d="M673.6 424.1L674.2 429.9" fill="none" stroke="#DE8C0A" stroke-width="0.63" opacity="0.8" stroke-linecap="round"/>
<path d="M713.9 419.7L714.1 423.5" fill="none" stroke="#DE8C0A" stroke-width="0.63" opacity="0.8" stroke-linecap="round"/>
<path d="M675.1 420.2L676.9 424.1" fill="none" stroke="#DE8C0A" stroke-width="0.63" opacity="0.8" stroke-linecap="round"/>
<path d="M716.3 456.6L715.1 461.3" fill="none" stroke="#DE8C0A" stroke-width="0.63" opacity="0.8" stroke-linecap="round"/>
<path d="M749.0 444.4L747.8 449.5" fill="none" stroke="#DE8C0A" stroke-width="0.63" opacity="0.8" stroke-linecap="round"/>
<path d="M769.6 456.5L771.5 460.1" fill="none" stroke="#DE8C0A" stroke-width="0.63" opacity="0.8" stroke-linecap="round"/>
<path d="M673.5 441.5L671.6 447.9" fill="none" stroke="#DE8C0A" stroke-width="0.63" opacity="0.8" stroke-linecap="round"/>
<path d="M697.5 443.7L699.0 448.5" fill="none" stroke="#DE8C0A" stroke-width="0.63" opacity="0.8" stroke-linecap="round"/>
<path d="M746.1 424.9L745.9 430.6" fill="none" stroke="#DE8C0A" stroke-width="0.63" opacity="0.8" stroke-linecap="round"/>
<path d="M715.6 426.4L717.0 430.9" fill="none" stroke="#DE8C0A" stroke-width="0.63" opacity="0.8" stroke-linecap="round"/>
<path d="M761.2 432.5L762.5 436.4" fill="none" stroke="#DE8C0A" stroke-width="0.63" opacity="0.8" stroke-linecap="round"/>
<path d="M736.8 462.8L737.3 467.6" fill="none" stroke="#DE8C0A" stroke-width="0.63" opacity="0.8" stroke-linecap="round"/>
<path d="M768.2 463.5L769.5 467.7" fill="none" stroke="#DE8C0A" stroke-width="0.63" opacity="0.8" stroke-linecap="round"/>
<path d="M676.7 446.7L675.2 450.4" fill="none" stroke="#DE8C0A" stroke-width="0.63" opacity="0.8" stroke-linecap="round"/>
<path d="M724.5 462.5L723.6 468.4" fill="none" stroke="#DE8C0A" stroke-width="0.63" opacity="0.8" stroke-linecap="round"/>
<path d="M766.2 462.3L764.5 466.2" fill="none" stroke="#DE8C0A" stroke-width="0.63" opacity="0.8" stroke-linecap="round"/>
<path d="M765.6 463.5L764.3 467.5" fill="none" stroke="#DE8C0A" stroke-width="0.63" opacity="0.8" stroke-linecap="round"/>
<path d="M740.6 422.2L739.1 426.1" fill="none" stroke="#DE8C0A" stroke-width="0.63" opacity="0.8" stroke-linecap="round"/>
<path d="M726.9 435.2L728.3 439.2" fill="none" stroke="#DE8C0A" stroke-width="0.63" opacity="0.8" stroke-linecap="round"/>
<path d="M759.6 455.0L759.1 460.3" fill="none" stroke="#DE8C0A" stroke-width="0.63" opacity="0.8" stroke-linecap="round"/>
<path d="M737.0 423.3L738.7 428.2" fill="none" stroke="#DE8C0A" stroke-width="0.63" opacity="0.8" stroke-linecap="round"/>
<path d="M720.4 458.1L718.5 462.4" fill="none" stroke="#DE8C0A" stroke-width="0.63" opacity="0.8" stroke-linecap="round"/>
<path d="M670.7 452.6L669.6 458.2" fill="none" stroke="#DE8C0A" stroke-width="0.63" opacity="0.8" stroke-linecap="round"/>
<path d="M741.2 464.9L739.9 469.7" fill="none" stroke="#DE8C0A" stroke-width="0.63" opacity="0.8" stroke-linecap="round"/>
<path d="M577.0 436.1L577.8 438.7L580.3 439.5L578.1 441.0L578.1 443.7L576.0 442.0L573.4 442.9L574.3 440.4L572.8 438.2L575.4 438.3Z" fill="#F08A2A" stroke="#F08A2A" stroke-width="0.7" stroke-linejoin="round"/>
<path d="M629.6 423.8C630.8 421.9 634.7 421.1 637.7 421.3C640.7 421.5 645.8 423.0 647.7 425.1C649.6 427.1 650.6 431.7 648.9 433.8C647.3 435.9 640.7 437.8 637.7 437.6C634.6 437.4 632.0 434.9 630.7 432.6C629.3 430.3 628.5 425.7 629.6 423.8Z" fill="#F4F4F0"/>
<path d="M629.6 427.6C630.4 426.2 634.0 423.6 635.2 425.1C636.3 426.5 637.2 435.0 636.4 436.3C635.7 437.7 631.8 434.5 630.7 433.1C629.5 431.6 628.9 428.9 629.6 427.6Z" fill="#2AA6B0"/>
<ellipse cx="641.4" cy="417.0" rx="10.0" ry="9.5" fill="#F6C89A"/>
<path d="M629.6 416.3C628.8 416.0 627.8 408.9 628.1 407.5C628.4 406.1 631.7 402.8 632.7 402.5C633.6 402.2 636.8 404.8 637.7 404.5C638.5 404.2 640.5 399.7 641.4 399.5C642.4 399.4 646.0 402.8 647.2 403.0C648.3 403.2 651.9 400.7 652.7 401.3C653.4 401.8 654.3 407.3 654.7 408.8C655.1 410.3 656.8 415.9 656.4 416.3C656.1 416.7 652.7 413.2 651.4 412.5C650.2 411.9 645.4 410.2 643.9 410.0C642.4 409.8 637.8 409.9 636.4 410.5C635.0 411.2 630.5 416.6 629.6 416.3Z" fill="#F08A2A"/>
<ellipse cx="640.4" cy="416.0" rx="3.0" ry="3.3" fill="#FFFFFF"/>
<ellipse cx="646.4" cy="416.0" rx="2.7" ry="3.0" fill="#FFFFFF"/>
<ellipse cx="640.9" cy="416.2" rx="1.2" ry="1.4" fill="#1A0E0A"/>
<ellipse cx="646.4" cy="416.2" rx="1.1" ry="1.3" fill="#1A0E0A"/>
<path d="M637.4 420.0C637.7 419.7 641.8 421.3 642.9 421.2C644.1 421.2 647.2 419.5 647.4 419.8C647.7 420.2 645.7 423.7 644.9 424.3C644.1 424.8 641.3 424.7 640.4 424.3C639.5 423.8 637.1 420.4 637.4 420.0Z" fill="#7A1E14"/>
<path d="M637.8 420.2C638.3 420.3 641.8 421.6 642.9 421.5C644.0 421.5 646.6 420.2 647.0 420.1C647.4 420.1 646.9 421.2 646.4 421.4C645.9 421.7 643.8 422.6 642.9 422.6C642.0 422.6 639.2 421.7 638.6 421.4C638.0 421.2 637.3 420.2 637.8 420.2Z" fill="#FFFFFF"/>
<path d="M636.4 420.0C638.0 418.9 646.1 419.2 647.7 420.5C649.2 421.9 647.3 426.9 645.7 428.1C644.1 429.2 639.7 428.9 638.2 427.6C636.6 426.2 634.8 421.2 636.4 420.0Z" fill="#5A160E"/>
<ellipse cx="647.2" cy="467.1" rx="8.3" ry="7.8" fill="#E8A060"/>
<path d="M639.7 465.1C639.0 464.9 638.5 459.8 638.9 458.9C639.3 457.9 643.0 455.7 643.9 455.6C644.8 455.5 646.8 457.7 647.7 457.6C648.6 457.5 651.8 454.5 652.7 454.6C653.6 454.7 655.9 457.8 656.4 458.9C656.9 459.9 658.1 464.9 657.7 465.1C657.3 465.4 653.9 461.8 652.7 461.4C651.5 460.9 647.0 460.2 645.7 460.6C644.4 461.0 640.3 465.3 639.7 465.1Z" fill="#4A2414"/>
<ellipse cx="646.3" cy="466.3" rx="2.5" ry="2.7" fill="#FFFFFF"/>
<ellipse cx="651.3" cy="466.3" rx="2.2" ry="2.5" fill="#FFFFFF"/>
<ellipse cx="646.8" cy="466.5" rx="1.0" ry="1.2" fill="#1A0E0A"/>
<ellipse cx="651.3" cy="466.5" rx="0.9" ry="1.1" fill="#1A0E0A"/>
<path d="M643.9 469.6C644.1 469.3 647.5 470.6 648.4 470.6C649.4 470.6 651.9 469.1 652.1 469.4C652.3 469.7 650.7 472.6 650.1 473.1C649.4 473.5 647.1 473.5 646.3 473.1C645.6 472.7 643.6 469.9 643.9 469.6Z" fill="#7A1E14"/>
<path d="M644.2 469.8C644.6 469.8 647.5 470.8 648.4 470.8C649.3 470.8 651.5 469.7 651.8 469.7C652.1 469.7 651.7 470.5 651.3 470.8C650.9 471.0 649.2 471.7 648.4 471.7C647.7 471.7 645.4 471.0 644.9 470.8C644.4 470.5 643.8 469.7 644.2 469.8Z" fill="#FFFFFF"/>
<path d="M640.2 475.1C641.2 474.1 645.6 475.1 647.7 476.4C649.8 477.6 652.7 481.0 652.7 482.6C652.7 484.3 649.6 486.4 647.7 486.4C645.8 486.4 642.7 484.5 641.4 482.6C640.2 480.8 639.1 476.2 640.2 475.1Z" fill="#F4F4F0"/>
<path d="M656.4 488.9C657.3 486.6 662.3 486.4 665.2 486.4C668.1 486.4 672.7 486.8 674.0 488.9C675.2 491.0 675.0 497.0 672.7 498.9C670.4 500.8 662.9 501.8 660.2 500.2C657.5 498.5 655.6 491.2 656.4 488.9Z" fill="#2AA6B0"/>
<path d="M656.4 498.9C657.7 497.5 663.5 496.8 665.2 497.7C666.9 498.5 667.7 502.5 666.5 503.9C665.2 505.4 659.4 507.3 657.7 506.4C656.0 505.6 655.2 500.4 656.4 498.9Z" fill="#1C8086"/>
<path d="M658.9 505.2L655.2 512.7" fill="none" stroke="#F2B07A" stroke-width="2.00" stroke-linecap="round"/>
<path d="M665.2 503.9L664.0 511.4" fill="none" stroke="#F2B07A" stroke-width="2.00" stroke-linecap="round"/>
<ellipse cx="654.4" cy="513.4" rx="2.5" ry="1.5" fill="#2A7AC0"/>
<ellipse cx="663.5" cy="512.7" rx="2.5" ry="1.5" fill="#2A7AC0"/>
<path d="M672.7 490.2L682.7 480.1" fill="none" stroke="#F2B07A" stroke-width="1.75" stroke-linecap="round"/>
<path d="M657.7 490.2L651.4 485.1" fill="none" stroke="#F2B07A" stroke-width="1.75" stroke-linecap="round"/>
<ellipse cx="666.7" cy="478.9" rx="8.3" ry="7.8" fill="#F2B07A"/>
<path d="M658.9 477.6C658.4 477.3 658.3 472.3 658.9 471.4C659.6 470.4 663.8 468.4 665.2 468.1C666.6 467.9 671.4 468.3 672.7 468.9C674.0 469.4 677.8 472.9 678.2 473.9C678.7 474.9 677.9 478.8 677.2 478.9C676.5 479.0 672.8 475.1 671.5 474.6C670.1 474.2 665.2 474.3 664.0 474.6C662.7 474.9 659.4 478.0 658.9 477.6Z" fill="#6A3A1E"/>
<ellipse cx="665.9" cy="478.1" rx="2.5" ry="2.7" fill="#FFFFFF"/>
<ellipse cx="670.8" cy="478.1" rx="2.2" ry="2.5" fill="#FFFFFF"/>
<ellipse cx="666.3" cy="478.2" rx="1.0" ry="1.2" fill="#1A0E0A"/>
<ellipse cx="670.8" cy="478.2" rx="0.9" ry="1.1" fill="#1A0E0A"/>
<path d="M663.4 481.4C663.6 481.1 667.0 482.4 667.9 482.4C668.9 482.3 671.5 480.9 671.7 481.2C671.9 481.5 670.3 484.4 669.6 484.8C668.9 485.3 666.6 485.2 665.9 484.8C665.2 484.4 663.2 481.7 663.4 481.4Z" fill="#7A1E14"/>
<path d="M663.7 481.5C664.1 481.5 667.1 482.6 667.9 482.6C668.8 482.6 671.0 481.5 671.3 481.4C671.7 481.4 671.2 482.3 670.8 482.5C670.4 482.8 668.7 483.5 667.9 483.5C667.2 483.5 664.9 482.8 664.4 482.5C663.9 482.3 663.3 481.5 663.7 481.5Z" fill="#FFFFFF"/>
<path d="M714.6 420.0C716.1 418.4 721.7 416.3 723.9 417.5C726.0 418.8 728.2 425.3 727.6 427.6C727.0 429.9 722.2 431.3 720.1 431.3C718.0 431.3 716.0 429.4 715.1 427.6C714.2 425.7 713.1 421.7 714.6 420.0Z" fill="#2AA6B0"/>
<path d="M723.9 420.0L727.6 412.0" fill="none" stroke="#F6C89A" stroke-width="1.75" stroke-linecap="round"/>
<path d="M704.6 417.5C704.4 416.2 704.8 410.1 705.6 408.8C706.4 407.5 711.1 404.7 712.6 404.5C714.1 404.3 719.4 405.6 720.6 406.5C721.8 407.5 724.2 412.2 724.6 413.8C725.1 415.4 725.4 422.1 725.1 422.5C724.8 423.0 722.4 419.2 721.4 418.0C720.4 416.9 716.4 411.7 715.1 411.3C713.9 410.9 709.6 412.7 708.8 413.8C708.0 414.9 707.5 422.2 707.1 422.5C706.7 422.9 704.7 418.9 704.6 417.5Z" fill="#E8602A"/>
<ellipse cx="713.9" cy="414.5" rx="7.5" ry="7.1" fill="#F6C89A"/>
<path d="M706.3 413.8C706.0 413.5 706.4 408.9 707.1 408.0C707.8 407.2 711.8 405.1 713.1 405.0C714.4 405.0 719.2 406.7 720.1 407.5C721.0 408.3 722.5 412.8 722.1 413.0C721.7 413.3 717.6 410.2 716.4 410.0C715.2 409.8 711.1 410.7 710.1 411.0C709.1 411.4 706.6 414.1 706.3 413.8Z" fill="#E8602A"/>
<ellipse cx="713.1" cy="413.8" rx="2.3" ry="2.5" fill="#FFFFFF"/>
<ellipse cx="717.6" cy="413.8" rx="2.0" ry="2.3" fill="#FFFFFF"/>
<ellipse cx="713.5" cy="413.9" rx="0.9" ry="1.1" fill="#1A0E0A"/>
<ellipse cx="717.6" cy="413.9" rx="0.8" ry="1.0" fill="#1A0E0A"/>
<path d="M710.8 416.8C711.1 416.5 714.1 417.7 715.0 417.7C715.9 417.7 718.2 416.4 718.4 416.6C718.5 416.9 717.1 419.6 716.5 419.9C715.9 420.3 713.8 420.3 713.1 419.9C712.4 419.6 710.6 417.1 710.8 416.8Z" fill="#7A1E14"/>
<path d="M711.1 416.9C711.5 416.9 714.2 417.9 715.0 417.9C715.8 417.9 717.8 416.9 718.1 416.9C718.4 416.9 718.0 417.6 717.6 417.8C717.2 418.1 715.7 418.7 715.0 418.7C714.3 418.7 712.2 418.1 711.7 417.8C711.3 417.6 710.8 416.9 711.1 416.9Z" fill="#FFFFFF"/>
<path d="M569.6 526.5L581.3 527.2" fill="none" stroke="#F2B07A" stroke-width="2.00" stroke-linecap="round"/>
<path d="M591.3 527.2L598.1 529.7" fill="none" stroke="#F2B07A" stroke-width="2.00" stroke-linecap="round"/>
<path d="M578.8 525.2C579.9 522.8 583.8 522.5 586.3 522.7C588.8 522.9 593.0 524.2 593.8 526.5C594.7 528.7 593.6 534.7 591.3 536.5C589.0 538.3 582.2 539.1 580.1 537.2C578.0 535.3 577.8 527.6 578.8 525.2Z" fill="#2AA6B0"/>
<path d="M579.6 535.7C581.2 534.6 588.2 534.1 589.6 535.2C591.0 536.3 589.7 541.1 588.1 542.2C586.5 543.3 581.5 542.8 580.1 541.7C578.7 540.6 578.0 536.8 579.6 535.7Z" fill="#E03A2A"/>
<path d="M581.3 540.2L576.3 541.5" fill="none" stroke="#F2B07A" stroke-width="1.75" stroke-linecap="round"/>
<ellipse cx="572.6" cy="540.2" rx="3.5" ry="2.0" fill="#2AA6B0" transform="rotate(-30.0 572.6 540.2)"/>
<ellipse cx="582.6" cy="544.2" rx="4.0" ry="1.8" fill="#2AA6B0"/>
<ellipse cx="588.8" cy="514.4" rx="9.3" ry="8.8" fill="#F2B07A"/>
<path d="M578.8 513.9C577.9 513.7 577.1 507.6 577.6 506.4C578.0 505.2 582.0 502.4 583.1 502.2C584.2 501.9 587.9 504.1 588.8 503.9C589.8 503.7 591.8 500.1 592.6 500.2C593.4 500.2 596.4 503.7 597.1 504.7C597.8 505.7 599.4 509.1 599.6 510.2C599.8 511.2 599.4 515.2 598.9 515.2C598.3 515.1 595.1 510.3 593.8 509.7C592.6 509.1 587.8 508.5 586.3 508.9C584.8 509.4 579.7 514.2 578.8 513.9Z" fill="#5A2A14"/>
<ellipse cx="587.9" cy="513.5" rx="2.8" ry="3.1" fill="#FFFFFF"/>
<ellipse cx="593.5" cy="513.5" rx="2.5" ry="2.8" fill="#FFFFFF"/>
<ellipse cx="588.4" cy="513.7" rx="1.1" ry="1.3" fill="#1A0E0A"/>
<ellipse cx="593.5" cy="513.7" rx="1.0" ry="1.2" fill="#1A0E0A"/>
<path d="M585.1 517.2C585.4 516.9 589.1 518.3 590.2 518.3C591.3 518.3 594.2 516.7 594.4 517.0C594.6 517.4 592.8 520.6 592.1 521.1C591.3 521.6 588.7 521.6 587.9 521.1C587.1 520.7 584.9 517.5 585.1 517.2Z" fill="#7A1E14"/>
<path d="M585.5 517.4C586.0 517.4 589.2 518.6 590.2 518.6C591.2 518.6 593.6 517.3 594.0 517.3C594.4 517.3 593.9 518.2 593.5 518.5C593.0 518.8 591.1 519.6 590.2 519.6C589.4 519.6 586.8 518.8 586.2 518.5C585.7 518.3 585.0 517.4 585.5 517.4Z" fill="#FFFFFF"/>
<path d="M616.4 524.0L605.6 517.7" fill="none" stroke="#F6C89A" stroke-width="2.00" stroke-linecap="round"/>
<path d="M628.9 522.7L640.2 513.2" fill="none" stroke="#F6C89A" stroke-width="2.00" stroke-linecap="round"/>
<path d="M615.6 522.2C616.5 519.9 620.6 520.1 623.1 520.2C625.6 520.3 629.6 520.5 630.7 522.7C631.7 524.9 631.8 531.3 629.6 533.2C627.5 535.1 620.0 535.8 617.6 534.0C615.3 532.1 614.7 524.5 615.6 522.2Z" fill="#2AA6B0"/>
<path d="M618.9 532.7C620.3 531.5 626.8 531.1 628.1 532.2C629.5 533.3 628.6 538.1 627.1 539.2C625.7 540.4 621.0 540.3 619.6 539.2C618.3 538.1 617.5 533.9 618.9 532.7Z" fill="#E03A2A"/>
<ellipse cx="621.4" cy="541.0" rx="3.0" ry="1.5" fill="#2AA6B0"/>
<ellipse cx="622.6" cy="512.2" rx="10.3" ry="9.8" fill="#F6C89A"/>
<path d="M611.4 512.7C610.9 512.3 610.1 505.3 610.6 503.9C611.1 502.5 615.1 499.6 616.4 498.9C617.6 498.2 621.8 497.1 623.1 497.2C624.5 497.2 629.0 498.8 630.2 499.7C631.3 500.5 634.3 504.3 634.7 505.7C635.0 507.0 634.5 513.0 633.9 513.2C633.3 513.4 630.2 508.4 628.9 507.7C627.6 507.0 622.8 506.4 621.4 506.4C620.0 506.5 616.1 507.6 615.1 508.2C614.1 508.8 611.8 513.1 611.4 512.7Z" fill="#F08A2A"/>
<ellipse cx="621.6" cy="511.2" rx="3.1" ry="3.4" fill="#FFFFFF"/>
<ellipse cx="627.8" cy="511.2" rx="2.8" ry="3.1" fill="#FFFFFF"/>
<ellipse cx="622.1" cy="511.4" rx="1.2" ry="1.4" fill="#1A0E0A"/>
<ellipse cx="627.8" cy="511.4" rx="1.1" ry="1.3" fill="#1A0E0A"/>
<path d="M618.5 515.3C618.8 514.9 623.0 516.5 624.2 516.5C625.4 516.5 628.6 514.7 628.8 515.1C629.0 515.4 627.1 519.0 626.2 519.6C625.4 520.1 622.5 520.1 621.6 519.6C620.7 519.1 618.2 515.6 618.5 515.3Z" fill="#7A1E14"/>
<path d="M618.9 515.5C619.5 515.5 623.1 516.8 624.2 516.8C625.3 516.8 628.0 515.4 628.4 515.4C628.8 515.4 628.3 516.4 627.8 516.7C627.3 517.0 625.1 517.9 624.2 517.9C623.2 517.9 620.4 517.0 619.8 516.7C619.2 516.4 618.4 515.5 618.9 515.5Z" fill="#FFFFFF"/>
<path d="M553.8 537.7L560.0 537.7L560.0 545.7L553.8 545.7Z" fill="#E8902A"/>
<path d="M558.0 533.2L563.8 533.2L563.8 545.7L558.0 545.7Z" fill="#2AA6B0"/>
<path d="M562.0 529.0L567.6 529.0L567.6 544.0L562.0 544.0Z" fill="#F6C23A"/>
<path d="M719.6 522.7L709.6 513.2" fill="none" stroke="#F2B07A" stroke-width="2.00" stroke-linecap="round"/>
<path d="M716.4 521.4C717.4 519.2 721.8 519.5 723.9 519.7C726.0 519.9 728.2 520.4 728.9 522.7C729.5 525.0 729.5 531.5 727.6 533.2C725.7 535.0 719.5 535.2 717.6 533.2C715.7 531.3 715.3 523.7 716.4 521.4Z" fill="#2AA6B0"/>
<path d="M717.6 532.2C719.1 531.0 725.7 530.5 727.1 531.7C728.6 532.9 727.9 538.0 726.4 539.2C724.9 540.5 719.6 540.4 718.1 539.2C716.6 538.1 716.1 533.5 717.6 532.2Z" fill="#1C8086"/>
<path d="M720.1 539.0L716.4 543.2" fill="none" stroke="#F2B07A" stroke-width="1.75" stroke-linecap="round"/>
<path d="M725.1 539.0L724.6 543.2" fill="none" stroke="#F2B07A" stroke-width="1.75" stroke-linecap="round"/>
<ellipse cx="715.1" cy="544.7" rx="3.8" ry="1.8" fill="#2A7AC0"/>
<ellipse cx="724.6" cy="545.2" rx="3.8" ry="1.8" fill="#2A7AC0"/>
<path d="M733.1 530.7L750.2 545.7" fill="none" stroke="#2AA6B0" stroke-width="2.00" stroke-linecap="round"/>
<path d="M736.4 533.7L741.4 538.2" fill="none" stroke="#F6C23A" stroke-width="2.00" stroke-linecap="round"/>
<ellipse cx="726.4" cy="512.2" rx="9.3" ry="8.8" fill="#F2B07A"/>
<path d="M717.1 512.7C716.2 512.5 716.0 506.4 716.4 505.2C716.7 503.9 719.6 500.5 720.6 500.2C721.6 499.8 725.4 501.7 726.4 501.4C727.4 501.1 729.6 497.2 730.6 497.2C731.6 497.2 735.4 500.4 736.4 501.4C737.4 502.5 740.5 506.5 740.6 507.7C740.8 508.9 738.8 513.2 738.1 513.2C737.5 513.2 735.2 508.3 733.9 507.7C732.6 507.1 726.8 506.7 725.1 507.2C723.4 507.7 718.0 512.9 717.1 512.7Z" fill="#6A3A1E"/>
<ellipse cx="725.4" cy="511.3" rx="2.8" ry="3.1" fill="#FFFFFF"/>
<ellipse cx="731.0" cy="511.3" rx="2.5" ry="2.8" fill="#FFFFFF"/>
<ellipse cx="725.9" cy="511.4" rx="1.1" ry="1.3" fill="#1A0E0A"/>
<ellipse cx="731.0" cy="511.4" rx="1.0" ry="1.2" fill="#1A0E0A"/>
<path d="M722.7 515.0C722.9 514.6 726.7 516.1 727.8 516.1C728.8 516.1 731.7 514.5 731.9 514.8C732.1 515.1 730.4 518.4 729.6 518.9C728.9 519.3 726.3 519.3 725.4 518.9C724.6 518.4 722.4 515.3 722.7 515.0Z" fill="#7A1E14"/>
<path d="M723.0 515.1C723.5 515.2 726.8 516.4 727.8 516.4C728.8 516.3 731.2 515.1 731.6 515.1C731.9 515.0 731.4 516.0 731.0 516.3C730.6 516.5 728.6 517.4 727.8 517.4C726.9 517.4 724.3 516.5 723.8 516.3C723.2 516.0 722.6 515.1 723.0 515.1Z" fill="#FFFFFF"/>
<path d="M547.4 497.4L548.3 499.9L550.9 500.5L548.9 502.2L549.1 504.9L546.9 503.4L544.4 504.4L545.1 501.9L543.3 499.9L546.0 499.7Z" fill="#F6D23A" stroke="#F6D23A" stroke-width="0.7" stroke-linejoin="round"/>
<path d="M602.1 491.4L603.5 493.5L606.0 493.5L604.5 495.5L605.2 497.9L602.9 497.0L600.8 498.5L600.9 496.0L598.9 494.5L601.3 493.8Z" fill="#F6D23A" stroke="#F6D23A" stroke-width="0.7" stroke-linejoin="round"/>
<path d="M753.8 501.3L754.7 504.8L758.1 506.1L755.0 508.1L754.9 511.7L752.1 509.4L748.6 510.4L749.9 507.0L747.9 503.9L751.5 504.2Z" fill="#F6D23A" stroke="#F6D23A" stroke-width="0.7" stroke-linejoin="round"/>
<path d="M680.1 411.8L681.0 413.7L683.1 414.0L681.6 415.5L682.0 417.7L680.1 416.7L678.1 417.7L678.5 415.5L677.0 414.0L679.1 413.7Z" fill="#F6D23A" stroke="#F6D23A" stroke-width="0.7" stroke-linejoin="round"/>
<path d="M697.4 483.6L697.6 485.6L699.3 486.5L697.5 487.3L697.2 489.3L695.8 487.8L693.8 488.1L694.8 486.3L694.0 484.5L695.9 485.0Z" fill="#F08A2A" stroke="#F08A2A" stroke-width="0.7" stroke-linejoin="round"/>
<path d="M681.5 412.0L682.4 413.8L684.3 414.1L682.9 415.5L683.2 417.5L681.5 416.5L679.7 417.5L680.0 415.5L678.6 414.1L680.6 413.8Z" fill="#F6D23A" stroke="#F6D23A" stroke-width="0.7" stroke-linejoin="round"/>
<path d="M560.0 505.7L560.6 506.9L562.0 507.1L561.0 508.0L561.2 509.3L560.0 508.7L558.9 509.3L559.1 508.0L558.1 507.1L559.5 506.9Z" fill="#F6D23A" stroke="#F6D23A" stroke-width="0.7" stroke-linejoin="round"/>
<path d="M694.6 517.9L695.2 519.3L696.7 519.5L695.6 520.5L695.9 522.0L694.6 521.3L693.2 522.0L693.5 520.5L692.4 519.5L693.9 519.3Z" fill="#F6D23A" stroke="#F6D23A" stroke-width="0.7" stroke-linejoin="round"/>
<path d="M567.6 411.3C567.8 410.7 568.4 408.1 569.1 407.8C569.7 407.4 571.1 409.0 571.6 409.3" fill="none" stroke="#F08A2A" stroke-width="1.00" stroke-linecap="round"/>
<path d="M596.3 407.0C596.6 406.4 597.2 403.9 597.9 403.5C598.5 403.2 599.9 404.8 600.4 405.0" fill="none" stroke="#F08A2A" stroke-width="1.00" stroke-linecap="round"/>
<path d="M609.6 403.8C609.9 403.2 610.5 400.6 611.1 400.3C611.8 399.9 613.2 401.5 613.6 401.8" fill="none" stroke="#F08A2A" stroke-width="1.00" stroke-linecap="round"/>
<path d="M550.0 427.6C550.3 427.0 550.9 424.4 551.5 424.1C552.2 423.7 553.6 425.3 554.0 425.6" fill="none" stroke="#F08A2A" stroke-width="1.00" stroke-linecap="round"/>
<path d="M556.3 511.4C556.5 510.8 557.1 508.3 557.8 507.9C558.5 507.6 559.9 509.2 560.3 509.4" fill="none" stroke="#F08A2A" stroke-width="1.00" stroke-linecap="round"/>
<path d="M735.1 402.5C735.3 401.9 735.6 399.4 736.1 399.0C736.6 398.6 737.8 399.8 738.1 400.0" fill="none" stroke="#F08A2A" stroke-width="1.00" stroke-linecap="round"/>
<path d="M734.6 416.3C734.8 415.7 735.1 413.2 735.6 412.8C736.1 412.4 737.3 413.6 737.6 413.8" fill="none" stroke="#F08A2A" stroke-width="1.00" stroke-linecap="round"/>
<path d="M720.1 488.1C720.3 487.6 720.6 485.1 721.1 484.6C721.6 484.2 722.8 485.5 723.1 485.6" fill="none" stroke="#F08A2A" stroke-width="1.00" stroke-linecap="round"/>
<path d="M737.1 486.4C737.3 485.8 737.6 483.3 738.1 482.9C738.6 482.5 739.8 483.7 740.1 483.9" fill="none" stroke="#F08A2A" stroke-width="1.00" stroke-linecap="round"/>
<path d="M741.4 526.5C741.6 525.9 741.9 523.4 742.4 522.9C742.9 522.5 744.1 523.8 744.4 524.0" fill="none" stroke="#F08A2A" stroke-width="1.00" stroke-linecap="round"/>
<path d="M699.6 507.7C699.7 507.1 700.1 504.6 700.6 504.2C701.1 503.8 702.3 505.0 702.6 505.2" fill="none" stroke="#F08A2A" stroke-width="1.00" stroke-linecap="round"/>
<path d="M731.4 425.1C731.5 424.5 731.9 422.0 732.4 421.5C732.9 421.1 734.0 422.4 734.4 422.5" fill="none" stroke="#F08A2A" stroke-width="1.00" stroke-linecap="round"/>
<ellipse cx="691.3" cy="419.5" rx="3.3" ry="3.0" fill="none" stroke="#2A1A18" stroke-width="0.7"/>
<path d="M693.8 422.0L698.1 424.6" fill="none" stroke="#2A1A18" stroke-width="0.63" stroke-linecap="round"/>
<ellipse cx="651.6" cy="514.3" rx="0.8" ry="0.8" fill="#F6C23A" opacity="0.8"/>
<ellipse cx="568.8" cy="523.0" rx="0.8" ry="0.8" fill="#F6C23A" opacity="0.8"/>
<ellipse cx="652.4" cy="514.5" rx="0.8" ry="0.8" fill="#F6C23A" opacity="0.8"/>
<ellipse cx="596.6" cy="502.6" rx="0.8" ry="0.8" fill="#F6C23A" opacity="0.8"/>
<ellipse cx="599.9" cy="529.2" rx="0.8" ry="0.8" fill="#F6C23A" opacity="0.8"/>
<ellipse cx="593.0" cy="533.5" rx="0.8" ry="0.8" fill="#F6C23A" opacity="0.8"/>
<ellipse cx="593.4" cy="515.5" rx="0.8" ry="0.8" fill="#F6C23A" opacity="0.8"/>
<ellipse cx="650.3" cy="531.9" rx="0.8" ry="0.8" fill="#F6C23A" opacity="0.8"/>
<ellipse cx="659.2" cy="513.5" rx="0.8" ry="0.8" fill="#F6C23A" opacity="0.8"/>
<ellipse cx="606.1" cy="502.5" rx="0.8" ry="0.8" fill="#F6C23A" opacity="0.8"/>
<ellipse cx="617.8" cy="528.4" rx="0.8" ry="0.8" fill="#F6C23A" opacity="0.8"/>
<ellipse cx="570.8" cy="509.5" rx="0.8" ry="0.8" fill="#F6C23A" opacity="0.8"/>
<ellipse cx="553.9" cy="514.7" rx="0.8" ry="0.8" fill="#F6C23A" opacity="0.8"/>
<ellipse cx="610.0" cy="534.8" rx="0.8" ry="0.8" fill="#F6C23A" opacity="0.8"/></g>
<g id="ill6"><defs><linearGradient id="g6sw" x1="0" y1="1" x2="1" y2="0"><stop offset="0" stop-color="#E0822A"/><stop offset="0.5" stop-color="#EFA940"/><stop offset="0.8" stop-color="#F5C566"/><stop offset="1" stop-color="#F9DA94"/></linearGradient></defs>
<ellipse cx="1064.1" cy="543.7" rx="2.3" ry="5.0" fill="#F2A83A" transform="rotate(30.0 1064.1 543.7)"/>
<ellipse cx="1069.1" cy="541.7" rx="2.3" ry="5.0" fill="#F2A83A" transform="rotate(70.0 1069.1 541.7)"/>
<ellipse cx="1061.0" cy="547.2" rx="2.3" ry="5.0" fill="#F2A83A" transform="rotate(-10.0 1061.0 547.2)"/>
<path d="M1049.0 465.1L1055.0 460.6L1083.1 552.7L1076.6 555.7Z" fill="#8A2E14" stroke="#8A2E14" stroke-width="1" stroke-linejoin="round"/>
<path d="M1055.0 461.1L1094.6 477.6L1115.6 542.7L1083.1 553.2Z" fill="#B8481C" stroke="#B8481C" stroke-width="1" stroke-linejoin="round"/>
<path d="M1060.5 468.1L1092.1 481.4L1110.6 540.2L1085.6 548.7Z" fill="#F2B03A"/>
<path d="M1075.1 507.7L1097.6 500.2L1110.1 539.7L1085.6 548.2Z" fill="#F6C45A" opacity="0.8"/>
<path d="M1058.0 465.1C1055.3 461.1 1057.2 454.9 1058.8 450.1C1060.4 445.3 1062.8 440.3 1067.6 436.3C1072.4 432.4 1080.1 428.5 1087.6 426.3C1095.1 424.1 1104.9 424.4 1112.6 423.0C1120.3 421.7 1128.7 420.4 1133.9 418.0C1139.1 415.7 1142.0 411.8 1143.9 408.8C1145.9 405.8 1144.3 402.1 1145.7 400.0C1147.1 397.9 1148.9 396.7 1152.2 396.3C1155.4 395.8 1161.6 396.0 1165.2 397.5C1168.8 399.1 1172.3 402.5 1174.0 405.5C1175.6 408.5 1175.9 412.2 1175.2 415.5C1174.5 418.9 1173.0 422.2 1169.7 425.6C1166.4 428.9 1160.9 432.5 1155.2 435.6C1149.4 438.6 1141.6 441.6 1135.2 443.8C1128.7 446.0 1121.6 446.5 1116.4 448.8C1111.2 451.1 1107.1 454.1 1103.9 457.6C1100.6 461.1 1098.8 466.4 1097.1 470.1C1095.4 473.9 1097.5 479.5 1093.8 480.1C1090.2 480.8 1081.0 476.4 1075.1 473.9C1069.1 471.4 1060.8 469.1 1058.0 465.1Z" fill="url(#g6sw)"/>
<path d="M1093.8 480.1C1095.8 479.0 1094.1 473.3 1095.6 469.6C1097.1 465.9 1099.6 461.4 1103.1 458.1C1106.6 454.8 1111.0 452.3 1116.4 450.1C1121.7 447.9 1128.7 447.3 1135.2 445.1C1141.6 442.9 1149.4 440.1 1155.2 437.1C1160.9 434.1 1168.0 428.6 1169.7 427.1C1171.4 425.5 1168.5 426.0 1165.2 427.6C1161.9 429.1 1156.0 433.9 1150.2 436.3C1144.3 438.7 1136.4 440.7 1130.2 442.1C1123.9 443.5 1117.8 442.8 1112.6 444.6C1107.4 446.3 1102.8 449.2 1098.9 452.6C1094.9 456.0 1091.3 461.1 1088.8 465.1C1086.3 469.1 1083.0 473.9 1083.8 476.4C1084.7 478.9 1091.9 481.3 1093.8 480.1Z" fill="#D2641E" opacity="0.75"/>
<path d="M1060.0 462.6C1059.4 461.6 1059.6 455.3 1061.3 451.3C1063.0 447.4 1065.5 442.5 1070.1 438.8C1074.7 435.2 1081.7 431.6 1088.8 429.6C1095.9 427.5 1109.9 426.2 1112.6 426.3C1115.3 426.4 1109.7 428.6 1105.1 430.1C1100.5 431.5 1090.7 432.6 1085.1 435.1C1079.4 437.6 1074.7 441.3 1071.3 445.1C1068.0 448.8 1066.9 454.7 1065.1 457.6C1063.2 460.5 1060.7 463.7 1060.0 462.6Z" fill="#FADC96" opacity="0.8"/>
<path d="M1145.7 400.0C1145.4 401.5 1145.3 406.1 1143.9 408.8C1142.6 411.5 1138.7 415.0 1137.7 416.3" fill="none" stroke="#FBE6B0" stroke-width="1.00" opacity="0.9" stroke-linecap="round"/>
<path d="M1155.2 400.0C1156.4 401.3 1161.9 404.6 1162.7 407.5C1163.5 410.4 1162.7 414.2 1160.2 417.5C1157.7 420.9 1149.8 425.9 1147.7 427.6" fill="none" stroke="#FCE8B8" stroke-width="1.00" opacity="0.8" stroke-linecap="round"/>
<path d="M1148.9 402.5C1149.9 404.0 1154.3 408.2 1154.7 411.3C1155.1 414.4 1153.9 418.2 1151.4 421.3C1149.0 424.4 1142.0 428.6 1140.2 430.1" fill="none" stroke="#FCE8B8" stroke-width="0.75" opacity="0.8" stroke-linecap="round"/>
<path d="M1165.2 402.5C1166.0 404.0 1169.9 408.2 1170.2 411.3C1170.5 414.4 1169.5 418.2 1167.2 421.3C1164.9 424.4 1158.2 428.6 1156.4 430.1" fill="none" stroke="#FCE8B8" stroke-width="0.75" opacity="0.7" stroke-linecap="round"/>
<path d="M1087.6 431.3C1091.8 430.7 1104.7 429.0 1112.6 427.6C1120.6 426.1 1130.1 424.6 1135.2 422.5C1140.2 420.5 1141.8 416.3 1143.2 415.0" fill="none" stroke="#FCE8B8" stroke-width="0.75" opacity="0.8" stroke-linecap="round"/>
<ellipse cx="1071.3" cy="450.1" rx="4.0" ry="2.5" fill="#8A3A14" transform="rotate(-40.0 1071.3 450.1)"/>
<ellipse cx="1080.1" cy="448.8" rx="3.0" ry="3.0" fill="#F6E2A8" transform="rotate(10.0 1080.1 448.8)"/>
<ellipse cx="1088.8" cy="453.8" rx="4.5" ry="1.8" fill="#2A8A9A" transform="rotate(-50.0 1088.8 453.8)"/>
<ellipse cx="1100.1" cy="441.3" rx="4.5" ry="3.3" fill="#A84A1A" transform="rotate(-15.0 1100.1 441.3)"/>
<ellipse cx="1131.4" cy="428.1" rx="3.5" ry="3.0" fill="#7A4A1E" transform="rotate(20.0 1131.4 428.1)"/>
<ellipse cx="1132.7" cy="437.6" rx="3.5" ry="2.0" fill="#F6E2A8" transform="rotate(-10.0 1132.7 437.6)"/>
<ellipse cx="1147.7" cy="429.6" rx="4.5" ry="1.8" fill="#2A8A9A" transform="rotate(15.0 1147.7 429.6)"/>
<ellipse cx="1149.7" cy="431.3" rx="3.0" ry="1.3" fill="#D8452A" transform="rotate(15.0 1149.7 431.3)"/>
<ellipse cx="1155.2" cy="400.5" rx="2.5" ry="3.3" fill="#2A7A8A" transform="rotate(-25.0 1155.2 400.5)"/>
<ellipse cx="1157.7" cy="413.0" rx="2.0" ry="6.0" fill="#D88A1E" transform="rotate(35.0 1157.7 413.0)"/>
<ellipse cx="1071.3" cy="470.1" rx="3.5" ry="4.0" fill="#F2CE6A" transform="rotate(-20.0 1071.3 470.1)"/>
<ellipse cx="1080.1" cy="467.6" rx="1.8" ry="3.5" fill="#2A8A9A" transform="rotate(-20.0 1080.1 467.6)"/>
<ellipse cx="1068.8" cy="478.1" rx="3.5" ry="2.0" fill="#5A8A7A" transform="rotate(30.0 1068.8 478.1)"/>
<ellipse cx="1083.8" cy="476.4" rx="2.0" ry="5.0" fill="#B83A1A" transform="rotate(30.0 1083.8 476.4)"/>
<ellipse cx="1077.6" cy="486.4" rx="2.0" ry="2.5" fill="#2A8A9A" transform="rotate(-10.0 1077.6 486.4)"/>
<ellipse cx="1086.3" cy="488.9" rx="2.5" ry="3.5" fill="#C8501E" transform="rotate(20.0 1086.3 488.9)"/>
<ellipse cx="1076.3" cy="493.9" rx="2.5" ry="2.5" fill="#8A3A14"/>
<ellipse cx="1077.1" cy="503.2" rx="2.0" ry="4.5" fill="#E8D8A0" transform="rotate(-35.0 1077.1 503.2)"/>
<ellipse cx="1091.3" cy="503.9" rx="3.0" ry="2.5" fill="#F6D26A"/>
<ellipse cx="1097.1" cy="514.4" rx="2.5" ry="2.0" fill="#2A8A9A" transform="rotate(10.0 1097.1 514.4)"/>
<ellipse cx="1083.1" cy="523.2" rx="2.0" ry="5.5" fill="#D8452A" transform="rotate(25.0 1083.1 523.2)"/>
<ellipse cx="1092.6" cy="526.5" rx="1.8" ry="4.5" fill="#D8642A" transform="rotate(30.0 1092.6 526.5)"/>
<ellipse cx="1101.4" cy="528.2" rx="3.0" ry="3.0" fill="#F4F0E8"/>
<ellipse cx="1087.1" cy="540.2" rx="2.3" ry="2.3" fill="#F6E2A8"/>
<ellipse cx="1102.6" cy="537.7" rx="2.5" ry="1.5" fill="#B83A1A"/>
<ellipse cx="1113.9" cy="433.8" rx="2.5" ry="1.3" fill="#C8641E" transform="rotate(-10.0 1113.9 433.8)"/>
<ellipse cx="1092.6" cy="438.8" rx="2.0" ry="2.0" fill="#E8A23A"/>
<ellipse cx="1070.5" cy="491.9" rx="0.6" ry="0.6" fill="#B83A1A" opacity="0.8"/>
<ellipse cx="1075.0" cy="487.7" rx="0.6" ry="0.6" fill="#D8642A" opacity="0.8"/>
<ellipse cx="1088.8" cy="527.9" rx="0.6" ry="0.6" fill="#D8642A" opacity="0.8"/>
<ellipse cx="1075.2" cy="529.6" rx="0.6" ry="0.6" fill="#F8E2A0" opacity="0.8"/>
<ellipse cx="1072.2" cy="499.0" rx="0.6" ry="0.6" fill="#F8E2A0" opacity="0.8"/>
<ellipse cx="1085.8" cy="509.9" rx="0.6" ry="0.6" fill="#F8E2A0" opacity="0.8"/>
<ellipse cx="1073.3" cy="486.4" rx="0.6" ry="0.6" fill="#B83A1A" opacity="0.8"/>
<ellipse cx="1082.0" cy="497.5" rx="0.6" ry="0.6" fill="#B83A1A" opacity="0.8"/>
<ellipse cx="1082.9" cy="542.5" rx="0.6" ry="0.6" fill="#D8642A" opacity="0.8"/>
<ellipse cx="1095.4" cy="510.2" rx="0.6" ry="0.6" fill="#F8E2A0" opacity="0.8"/>
<ellipse cx="1089.2" cy="542.5" rx="0.6" ry="0.6" fill="#D8642A" opacity="0.8"/>
<ellipse cx="1082.5" cy="497.4" rx="0.6" ry="0.6" fill="#B83A1A" opacity="0.8"/>
<ellipse cx="1071.1" cy="529.3" rx="0.6" ry="0.6" fill="#B83A1A" opacity="0.8"/>
<ellipse cx="1092.9" cy="498.3" rx="0.6" ry="0.6" fill="#B83A1A" opacity="0.8"/>
<ellipse cx="1095.6" cy="496.8" rx="0.6" ry="0.6" fill="#F8E2A0" opacity="0.8"/>
<ellipse cx="1098.8" cy="514.1" rx="0.6" ry="0.6" fill="#B83A1A" opacity="0.8"/>
<ellipse cx="1081.8" cy="505.2" rx="0.6" ry="0.6" fill="#B83A1A" opacity="0.8"/>
<ellipse cx="1086.9" cy="524.2" rx="0.6" ry="0.6" fill="#B83A1A" opacity="0.8"/>
<ellipse cx="1103.8" cy="543.8" rx="0.6" ry="0.6" fill="#D8642A" opacity="0.8"/>
<ellipse cx="1097.7" cy="503.5" rx="0.6" ry="0.6" fill="#D8642A" opacity="0.8"/>
<ellipse cx="1089.7" cy="541.4" rx="0.6" ry="0.6" fill="#F8E2A0" opacity="0.8"/>
<ellipse cx="1080.4" cy="495.6" rx="0.6" ry="0.6" fill="#D8642A" opacity="0.8"/>
<ellipse cx="1102.3" cy="521.3" rx="0.6" ry="0.6" fill="#F8E2A0" opacity="0.8"/>
<ellipse cx="1103.6" cy="525.4" rx="0.6" ry="0.6" fill="#B83A1A" opacity="0.8"/>
<ellipse cx="1102.0" cy="524.2" rx="0.6" ry="0.6" fill="#D8642A" opacity="0.8"/>
<ellipse cx="1074.1" cy="497.3" rx="0.6" ry="0.6" fill="#B83A1A" opacity="0.8"/>
<ellipse cx="1085.6" cy="532.5" rx="0.6" ry="0.6" fill="#F8E2A0" opacity="0.8"/>
<ellipse cx="1095.1" cy="501.2" rx="0.6" ry="0.6" fill="#F8E2A0" opacity="0.8"/>
<ellipse cx="1074.2" cy="496.8" rx="0.6" ry="0.6" fill="#B83A1A" opacity="0.8"/>
<ellipse cx="1075.8" cy="544.6" rx="0.6" ry="0.6" fill="#D8642A" opacity="0.8"/>
<path d="M1106.2 437.5L1108.7 436.0" fill="none" stroke="#C8501E" stroke-width="0.63" opacity="0.7" stroke-linecap="round"/>
<path d="M1124.9 433.1L1127.5 431.6" fill="none" stroke="#C8501E" stroke-width="0.63" opacity="0.7" stroke-linecap="round"/>
<path d="M1099.9 439.8L1102.5 438.3" fill="none" stroke="#C8501E" stroke-width="0.63" opacity="0.7" stroke-linecap="round"/>
<path d="M1115.8 428.3L1118.3 426.8" fill="none" stroke="#C8501E" stroke-width="0.63" opacity="0.7" stroke-linecap="round"/>
<path d="M1084.3 430.3L1086.8 428.8" fill="none" stroke="#C8501E" stroke-width="0.63" opacity="0.7" stroke-linecap="round"/>
<path d="M1121.1 441.4L1123.6 439.9" fill="none" stroke="#C8501E" stroke-width="0.63" opacity="0.7" stroke-linecap="round"/>
<path d="M1136.0 442.9L1138.6 441.4" fill="none" stroke="#C8501E" stroke-width="0.63" opacity="0.7" stroke-linecap="round"/>
<path d="M1092.9 442.9L1095.4 441.4" fill="none" stroke="#C8501E" stroke-width="0.63" opacity="0.7" stroke-linecap="round"/>
<path d="M1136.8 434.5L1139.3 433.0" fill="none" stroke="#C8501E" stroke-width="0.63" opacity="0.7" stroke-linecap="round"/>
<path d="M1078.2 435.1L1080.7 433.6" fill="none" stroke="#C8501E" stroke-width="0.63" opacity="0.7" stroke-linecap="round"/>
<path d="M1094.5 431.1L1097.1 429.6" fill="none" stroke="#C8501E" stroke-width="0.63" opacity="0.7" stroke-linecap="round"/>
<path d="M1080.3 430.1L1082.8 428.6" fill="none" stroke="#C8501E" stroke-width="0.63" opacity="0.7" stroke-linecap="round"/>
<path d="M1129.6 428.6L1132.1 427.1" fill="none" stroke="#C8501E" stroke-width="0.63" opacity="0.7" stroke-linecap="round"/>
<path d="M1114.5 431.7L1117.0 430.2" fill="none" stroke="#C8501E" stroke-width="0.63" opacity="0.7" stroke-linecap="round"/>
<ellipse cx="1185.1" cy="550.5" rx="62.0" ry="4.1" fill="#EFD2A6" opacity="0.7"/>
<ellipse cx="1186.8" cy="539.8" rx="2.5" ry="5.7" fill="#F2B43A" transform="rotate(-50.0 1186.8 539.8)"/>
<path d="M1191.7 543.9L1183.5 537.0" fill="none" stroke="#D8901E" stroke-width="0.38" stroke-linecap="round"/>
<ellipse cx="1190.0" cy="537.7" rx="2.5" ry="5.7" fill="#F2B43A" transform="rotate(-15.0 1190.0 537.7)"/>
<path d="M1191.7 543.9L1188.9 533.6" fill="none" stroke="#D8901E" stroke-width="0.38" stroke-linecap="round"/>
<ellipse cx="1193.9" cy="537.9" rx="2.5" ry="5.7" fill="#F2B43A" transform="rotate(20.0 1193.9 537.9)"/>
<path d="M1191.7 543.9L1195.4 533.8" fill="none" stroke="#D8901E" stroke-width="0.38" stroke-linecap="round"/>
<ellipse cx="1196.6" cy="539.8" rx="2.5" ry="5.7" fill="#F2B43A" transform="rotate(50.0 1196.6 539.8)"/>
<path d="M1191.7 543.9L1199.9 537.0" fill="none" stroke="#D8901E" stroke-width="0.38" stroke-linecap="round"/>
<ellipse cx="1230.4" cy="542.2" rx="2.8" ry="6.3" fill="#F2B43A" transform="rotate(-50.0 1230.4 542.2)"/>
<path d="M1235.8 546.7L1226.8 539.1" fill="none" stroke="#D8901E" stroke-width="0.38" stroke-linecap="round"/>
<ellipse cx="1234.0" cy="539.9" rx="2.8" ry="6.3" fill="#F2B43A" transform="rotate(-15.0 1234.0 539.9)"/>
<path d="M1235.8 546.7L1232.8 535.3" fill="none" stroke="#D8901E" stroke-width="0.38" stroke-linecap="round"/>
<ellipse cx="1238.2" cy="540.0" rx="2.8" ry="6.3" fill="#F2B43A" transform="rotate(20.0 1238.2 540.0)"/>
<path d="M1235.8 546.7L1239.9 535.6" fill="none" stroke="#D8901E" stroke-width="0.38" stroke-linecap="round"/>
<ellipse cx="1241.3" cy="542.2" rx="2.8" ry="6.3" fill="#F2B43A" transform="rotate(50.0 1241.3 542.2)"/>
<path d="M1235.8 546.7L1244.9 539.1" fill="none" stroke="#D8901E" stroke-width="0.38" stroke-linecap="round"/>
<ellipse cx="1129.5" cy="544.0" rx="1.1" ry="2.4" fill="#F2B43A" transform="rotate(-50.0 1129.5 544.0)"/>
<path d="M1131.6 545.8L1128.1 542.9" fill="none" stroke="#D8901E" stroke-width="0.38" stroke-linecap="round"/>
<ellipse cx="1130.9" cy="543.2" rx="1.1" ry="2.4" fill="#F2B43A" transform="rotate(-15.0 1130.9 543.2)"/>
<path d="M1131.6 545.8L1130.4 541.4" fill="none" stroke="#D8901E" stroke-width="0.38" stroke-linecap="round"/>
<ellipse cx="1132.5" cy="543.2" rx="1.1" ry="2.4" fill="#F2B43A" transform="rotate(20.0 1132.5 543.2)"/>
<path d="M1131.6 545.8L1133.1 541.5" fill="none" stroke="#D8901E" stroke-width="0.38" stroke-linecap="round"/>
<ellipse cx="1133.7" cy="544.0" rx="1.1" ry="2.4" fill="#F2B43A" transform="rotate(50.0 1133.7 544.0)"/>
<path d="M1131.6 545.8L1135.0 542.9" fill="none" stroke="#D8901E" stroke-width="0.38" stroke-linecap="round"/>
<path d="M1155.1 543.3L1185.1 542.4L1186.6 548.0L1156.0 549.0Z" fill="#E8943A"/>
<path d="M1184.2 542.8L1187.0 542.8L1187.0 547.7L1184.4 547.8Z" fill="#F4EEDC"/>
<path d="M1157.3 537.9L1187.0 536.8L1187.4 542.8L1158.1 543.9Z" fill="#C8C88A"/>
<path d="M1173.8 538.3L1187.4 537.5L1187.4 542.0L1174.8 542.8Z" fill="#EEE8D0"/>
<path d="M1163.5 533.6C1165.1 532.5 1169.8 531.3 1173.8 531.1C1177.9 531.0 1185.4 531.7 1187.9 532.6C1190.4 533.6 1190.9 535.8 1188.9 536.8C1186.8 537.7 1179.9 538.1 1175.7 538.3C1171.6 538.4 1166.1 538.3 1164.1 537.5C1162.1 536.7 1161.9 534.6 1163.5 533.6Z" fill="#C8401E"/>
<path d="M1137.8 548.6L1158.8 549.2L1164.1 551.4L1159.2 553.7L1138.2 552.9Z" fill="#3A8AA8"/>
<path d="M1199.8 543.3L1224.2 542.4L1224.9 546.2L1200.5 547.3Z" fill="#2A8A8A"/>
<path d="M1200.1 545.0L1224.6 543.9L1224.7 545.6L1200.3 546.7Z" fill="#F4EEDC"/>
<path d="M1202.4 547.7L1227.4 546.2L1228.3 551.4L1215.2 554.2L1203.0 551.4Z" fill="#D8452A"/>
<path d="M1215.2 552.3L1227.9 549.2L1228.3 551.4L1215.5 554.2Z" fill="#F4EEDC"/>
<path d="M1127.3 543.0C1128.1 541.8 1132.3 540.0 1134.4 540.1C1136.5 540.3 1139.4 542.6 1140.0 543.9C1140.7 545.1 1139.9 547.1 1138.2 547.7C1136.4 548.2 1131.5 548.1 1129.7 547.3C1127.9 546.5 1126.5 544.1 1127.3 543.0Z" fill="#F2A878"/>
<path d="M1134.0 539.8C1135.0 538.2 1138.4 537.0 1141.9 536.8C1145.4 536.5 1152.4 536.9 1155.1 538.3C1157.7 539.6 1159.1 543.3 1157.9 544.8C1156.6 546.4 1151.2 547.4 1147.6 547.7C1144.0 547.9 1138.5 547.5 1136.3 546.2C1134.0 544.8 1133.1 541.3 1134.0 539.8Z" fill="#E8843A"/>
<path d="M1135.4 512.0C1135.4 508.4 1136.4 505.6 1138.2 503.5C1139.9 501.5 1142.9 500.1 1145.7 499.8C1148.5 499.5 1152.4 499.9 1155.1 501.6C1157.7 503.4 1160.1 506.8 1161.6 510.1C1163.2 513.4 1163.4 517.9 1164.5 521.4C1165.6 524.8 1167.9 528.4 1168.2 530.8C1168.5 533.1 1167.9 534.8 1166.3 535.4C1164.8 536.1 1160.9 535.6 1158.8 534.5C1156.8 533.4 1157.6 530.4 1154.1 528.9C1150.7 527.3 1141.3 527.9 1138.2 525.1C1135.0 522.3 1135.4 515.6 1135.4 512.0Z" fill="#4A2414"/>
<path d="M1136.3 528.9C1136.9 526.4 1139.4 525.6 1141.9 525.1C1144.4 524.6 1148.8 524.8 1151.3 526.1C1153.8 527.3 1156.2 530.0 1156.9 532.6C1157.7 535.3 1157.9 540.1 1156.0 542.0C1154.1 543.9 1148.7 544.2 1145.7 543.9C1142.7 543.6 1139.7 542.6 1138.2 540.1C1136.6 537.6 1135.7 531.4 1136.3 528.9Z" fill="#E8B03A"/>
<path d="M1138.2 526.1C1139.4 527.6 1141.0 527.1 1141.0 524.7C1141.0 522.4 1139.0 515.0 1138.2 512.0C1137.3 508.9 1136.9 507.1 1135.9 506.3C1135.0 505.6 1132.9 505.7 1132.5 507.3C1132.1 508.8 1132.5 512.6 1133.5 515.7C1134.4 518.9 1136.9 524.6 1138.2 526.1Z" fill="#E8B03A"/>
<path d="M1132.2 506.3C1131.4 505.6 1131.2 503.5 1131.6 502.6C1132.0 501.7 1133.6 500.8 1134.4 501.1C1135.3 501.4 1136.4 503.4 1136.7 504.5C1136.9 505.5 1136.7 507.0 1135.9 507.3C1135.2 507.6 1132.9 507.1 1132.2 506.3Z" fill="#F2A878"/>
<path d="M1139.1 494.7L1134.0 503.0" fill="none" stroke="#A8401E" stroke-width="1.13" stroke-linecap="round"/>
<path d="M1126.9 525.1C1127.1 524.3 1127.5 523.2 1129.7 523.6C1131.9 524.0 1137.1 526.5 1140.0 527.4C1143.0 528.2 1146.5 528.0 1147.6 528.9C1148.7 529.7 1148.2 532.2 1146.6 532.6C1145.1 533.1 1141.1 532.4 1138.2 531.7C1135.2 531.0 1130.7 529.6 1128.8 528.5C1126.9 527.4 1126.7 525.9 1126.9 525.1Z" fill="#E8B03A"/>
<ellipse cx="1127.3" cy="525.5" rx="1.9" ry="1.5" fill="#F2A878"/>
<path d="M1142.9 532.6C1143.6 533.0 1146.0 534.9 1147.6 534.9C1149.1 534.9 1151.5 533.0 1152.3 532.6" fill="none" stroke="#C88A1E" stroke-width="0.56" stroke-linecap="round"/>
<ellipse cx="1145.7" cy="513.5" rx="8.6" ry="8.3" fill="#F2A878"/>
<ellipse cx="1141.2" cy="511.0" rx="2.1" ry="2.3" fill="#FFFFFF"/>
<ellipse cx="1141.5" cy="511.4" rx="1.1" ry="1.3" fill="#1A0E0A"/>
<ellipse cx="1149.8" cy="511.4" rx="2.1" ry="2.3" fill="#FFFFFF"/>
<ellipse cx="1149.8" cy="511.8" rx="1.1" ry="1.3" fill="#1A0E0A"/>
<ellipse cx="1144.9" cy="517.2" rx="3.2" ry="2.6" fill="#3A120C"/>
<ellipse cx="1144.9" cy="518.7" rx="1.7" ry="1.1" fill="#E8553A"/>
<ellipse cx="1154.7" cy="519.9" rx="1.9" ry="2.3" fill="#F2A878"/>
<path d="M1136.3 512.9C1136.3 511.7 1137.1 505.9 1138.2 504.5C1139.3 503.0 1143.7 500.6 1145.7 500.3C1147.7 500.1 1153.4 501.1 1155.1 502.2C1156.8 503.3 1159.8 508.5 1160.3 510.1C1160.8 511.7 1159.8 515.7 1159.2 515.7C1158.6 515.7 1156.1 511.3 1155.1 510.1C1154.0 508.9 1151.1 505.7 1150.4 505.4C1149.6 505.1 1149.2 507.3 1148.5 507.3C1147.8 507.2 1145.7 504.7 1144.7 504.8C1143.8 504.9 1140.8 507.1 1140.0 508.2C1139.3 509.4 1138.6 514.2 1138.2 514.8C1137.7 515.3 1136.3 514.1 1136.3 512.9Z" fill="#4A2414"/>
<path d="M1156.9 512.0C1157.9 513.8 1161.0 519.8 1162.6 523.2C1164.1 526.7 1165.7 531.1 1166.3 532.6" fill="none" stroke="#7A4426" stroke-width="0.56" opacity="0.8" stroke-linecap="round"/>
<path d="M1170.5 519.9C1171.1 517.1 1173.4 516.0 1175.7 515.4C1178.0 514.7 1182.0 514.7 1184.2 515.7C1186.4 516.7 1188.2 518.9 1188.9 521.4C1189.5 523.9 1190.8 529.0 1187.9 530.8C1185.1 532.5 1174.9 533.5 1172.0 531.7C1169.1 529.9 1169.8 522.6 1170.5 519.9Z" fill="#3A9AA0"/>
<path d="M1172.0 521.4C1172.1 520.0 1174.0 518.1 1174.8 518.5C1175.6 519.0 1176.8 522.8 1176.7 524.2C1176.5 525.6 1174.6 527.5 1173.8 527.0C1173.1 526.5 1171.8 522.8 1172.0 521.4Z" fill="#5AB4B8" opacity="0.8"/>
<path d="M1170.5 520.4C1170.9 519.6 1174.2 519.0 1175.7 519.1C1177.2 519.2 1179.0 520.1 1179.5 521.0C1180.0 521.8 1179.6 523.6 1178.5 524.2C1177.4 524.7 1174.3 524.8 1172.9 524.2C1171.6 523.6 1170.0 521.3 1170.5 520.4Z" fill="#F4F0EA"/>
<path d="M1171.0 523.2L1174.8 523.2L1174.8 528.5L1171.4 528.5Z" fill="#F4F0EA"/>
<ellipse cx="1180.4" cy="521.7" rx="2.3" ry="1.7" fill="#F8D0A8"/>
<ellipse cx="1177.6" cy="504.8" rx="9.8" ry="9.0" fill="#F8D0A8"/>
<ellipse cx="1188.3" cy="506.3" rx="1.9" ry="2.4" fill="#F8D0A8"/>
<ellipse cx="1172.9" cy="501.1" rx="2.1" ry="2.4" fill="#FFFFFF"/>
<ellipse cx="1173.5" cy="501.5" rx="1.1" ry="1.3" fill="#1A0E0A"/>
<ellipse cx="1179.9" cy="500.7" rx="2.1" ry="2.4" fill="#FFFFFF"/>
<ellipse cx="1180.0" cy="501.1" rx="1.1" ry="1.3" fill="#1A0E0A"/>
<ellipse cx="1174.8" cy="505.4" rx="3.2" ry="2.6" fill="#2A0E0A"/>
<ellipse cx="1175.0" cy="506.7" rx="1.7" ry="1.1" fill="#E8553A"/>
<path d="M1166.3 499.2C1165.8 498.5 1163.3 493.0 1163.5 492.3C1163.7 491.5 1167.9 492.2 1168.2 491.7C1168.5 491.2 1165.8 487.5 1166.3 487.2C1166.9 486.9 1172.5 488.7 1173.8 488.5C1175.2 488.3 1178.5 484.7 1179.5 484.7C1180.5 484.7 1183.1 488.2 1184.2 488.5C1185.3 488.8 1189.9 487.0 1190.8 487.6C1191.6 488.1 1192.0 492.8 1192.6 494.1C1193.3 495.4 1197.3 499.8 1197.3 500.7C1197.3 501.6 1193.4 503.8 1192.6 503.5C1191.9 503.2 1190.7 498.6 1189.8 497.9C1189.0 497.1 1185.4 496.4 1184.2 496.0C1183.0 495.6 1178.8 494.1 1177.6 494.1C1176.4 494.1 1172.9 495.5 1172.0 496.0C1171.1 496.5 1169.2 498.9 1168.6 499.2C1168.0 499.5 1166.8 499.9 1166.3 499.2Z" fill="#E8742A"/>
<path d="M1172.0 490.4C1172.0 489.5 1177.3 487.2 1179.5 487.2C1181.7 487.2 1185.1 489.5 1185.1 490.4C1185.1 491.2 1181.7 492.3 1179.5 492.3C1177.3 492.3 1172.0 491.2 1172.0 490.4Z" fill="#F6A04A" opacity="0.8"/>
<path d="M1192.6 543.9C1193.3 542.3 1196.4 539.5 1200.1 538.3C1203.9 537.1 1211.3 536.6 1215.2 536.8C1219.1 536.9 1222.4 538.0 1223.6 539.2C1224.9 540.4 1225.3 542.7 1222.7 543.9C1220.0 545.1 1212.0 545.5 1207.7 546.2C1203.3 546.8 1198.9 548.0 1196.4 547.7C1193.9 547.3 1192.0 545.5 1192.6 543.9Z" fill="#6A3014"/>
<path d="M1200.1 528.9C1200.6 526.2 1202.3 523.6 1204.8 522.3C1207.3 521.0 1212.3 520.6 1215.2 521.4C1218.1 522.1 1221.2 524.3 1222.3 527.0C1223.4 529.7 1223.6 535.1 1221.7 537.3C1219.9 539.5 1214.7 540.0 1211.4 540.1C1208.1 540.3 1203.9 540.1 1202.0 538.3C1200.1 536.4 1199.7 531.5 1200.1 528.9Z" fill="#B8581E"/>
<path d="M1203.0 523.2C1202.0 521.6 1199.4 520.0 1198.3 519.9C1197.1 519.7 1195.7 520.8 1196.0 522.3C1196.3 523.8 1198.8 527.6 1200.1 528.9C1201.5 530.1 1203.4 530.8 1203.9 529.8C1204.4 528.9 1203.9 524.9 1203.0 523.2Z" fill="#B8581E"/>
<ellipse cx="1196.8" cy="520.4" rx="1.9" ry="2.3" fill="#B8642E"/>
<path d="M1200.1 510.5L1196.0 523.6" fill="none" stroke="#A8401E" stroke-width="0.94" stroke-linecap="round"/>
<ellipse cx="1211.4" cy="523.6" rx="1.5" ry="1.3" fill="#F6D23A"/>
<path d="M1212.3 525.1C1213.0 524.2 1217.0 523.6 1218.9 524.2C1220.8 524.8 1223.3 527.5 1223.6 528.9C1223.9 530.3 1222.2 532.5 1220.8 532.6C1219.4 532.8 1216.6 531.1 1215.2 529.8C1213.8 528.6 1211.7 526.1 1212.3 525.1Z" fill="#A84A18"/>
<path d="M1222.7 504.5C1223.3 502.1 1224.7 499.1 1226.4 497.9C1228.2 496.7 1231.4 496.2 1233.0 497.3C1234.6 498.4 1235.8 501.7 1236.2 504.5C1236.6 507.2 1236.4 511.3 1235.4 513.8C1234.4 516.4 1232.0 519.2 1230.2 519.9C1228.4 520.5 1225.8 518.9 1224.6 517.6C1223.3 516.3 1223.0 514.2 1222.7 512.0C1222.4 509.8 1222.1 506.8 1222.7 504.5Z" fill="#4A1E14"/>
<ellipse cx="1212.3" cy="507.8" rx="9.8" ry="9.0" fill="#B8642E"/>
<ellipse cx="1222.3" cy="512.0" rx="1.9" ry="2.4" fill="#B8642E"/>
<ellipse cx="1206.2" cy="505.4" rx="2.1" ry="2.3" fill="#FFFFFF"/>
<ellipse cx="1206.5" cy="505.8" rx="1.1" ry="1.3" fill="#1A0E0A"/>
<ellipse cx="1213.7" cy="506.0" rx="2.1" ry="2.3" fill="#FFFFFF"/>
<ellipse cx="1213.7" cy="506.3" rx="1.1" ry="1.3" fill="#1A0E0A"/>
<path d="M1206.7 510.5C1206.9 510.2 1209.5 512.0 1210.5 512.0C1211.4 512.0 1214.5 510.2 1214.8 510.5C1215.1 510.7 1213.6 513.8 1212.9 514.2C1212.2 514.7 1209.3 514.7 1208.6 514.2C1207.9 513.8 1206.5 510.7 1206.7 510.5Z" fill="#3A120C"/>
<path d="M1199.8 506.3C1199.5 505.0 1199.4 498.8 1200.1 496.9C1200.8 495.1 1204.0 491.4 1205.8 490.4C1207.5 489.4 1213.1 488.2 1215.2 488.5C1217.2 488.8 1222.2 491.8 1223.6 493.2C1225.0 494.6 1227.3 498.7 1227.4 500.7C1227.5 502.7 1225.1 509.7 1224.6 510.1C1224.0 510.5 1223.2 505.7 1222.3 504.5C1221.4 503.2 1218.5 499.9 1217.0 499.2C1215.6 498.5 1211.1 498.2 1209.5 498.5C1208.0 498.7 1204.8 500.5 1203.9 501.6C1203.0 502.8 1202.5 507.7 1202.0 508.2C1201.5 508.8 1200.0 507.7 1199.8 506.3Z" fill="#4A1E14"/>
<path d="M1203.9 495.1C1205.3 494.5 1209.4 491.5 1212.3 491.7C1215.3 491.8 1220.2 495.3 1221.7 496.0" fill="none" stroke="#7A3A22" stroke-width="0.56" opacity="0.8" stroke-linecap="round"/>
<ellipse cx="1227.9" cy="500.3" rx="0.9" ry="1.9" fill="#2A8A9A" transform="rotate(20.0 1227.9 500.3)"/></g>
<g id="labels" font-family="'Liberation Sans', sans-serif" font-weight="700" font-size="16" fill="#2E2E2E" stroke="#FFECCF" stroke-width="0.3" text-anchor="middle">
<text x="173.50" y="273.75" letter-spacing="0.806">Deep immersion in a</text>
<text x="173.50" y="294.50" letter-spacing="0.633">single art form</text>
<text x="660.00" y="271.25" letter-spacing="0.541">Multidisciplinary Holistic</text>
<text x="660.00" y="292.00" letter-spacing="1.053">Development</text>
<text x="1146.50" y="271.00" letter-spacing="0.758">Capacity building through guided</text>
<text x="1146.50" y="291.75" letter-spacing="0.609">practice and reflective activities</text>
<text x="173.00" y="580.75" letter-spacing="0.712">Community &amp; Family</text>
<text x="173.50" y="601.50" letter-spacing="1.220">Engagement</text>
<text x="659.75" y="580.75" letter-spacing="0.511">Customizable, School-Centric</text>
<text x="659.50" y="601.50" letter-spacing="1.136">Implementation</text>
<text x="1146.25" y="580.75" letter-spacing="0.555">Leveraging Technology for</text>
<text x="1146.25" y="601.50" letter-spacing="0.363">Resources and Scale</text>
</g>
</svg>
</body></html>
